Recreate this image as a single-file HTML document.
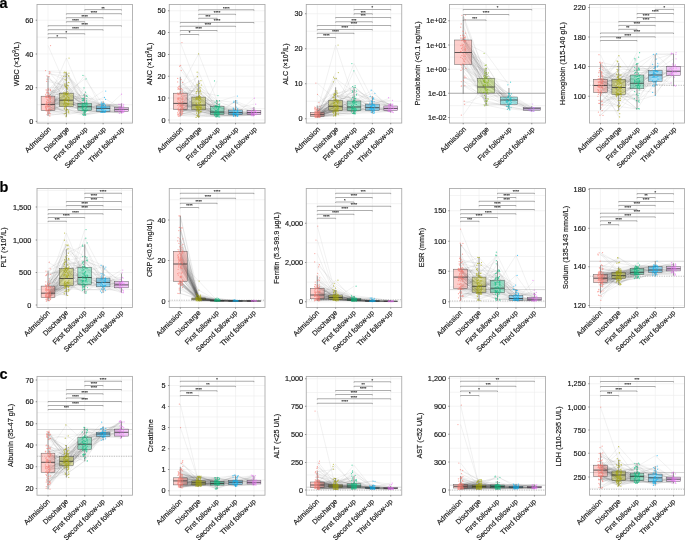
<!DOCTYPE html>
<html><head><meta charset="utf-8"><style>
html,body{margin:0;padding:0;background:#fff;overflow:hidden;}
svg{display:block;font-family:"Liberation Sans",sans-serif;will-change:transform;}
text{stroke:#1a1a1a;stroke-width:0.18px;}
</style></head><body>
<svg width="685" height="540" viewBox="0 0 685 540">
<g><path d="M37 121.4H132.5M37 87.7H132.5M37 54H132.5M37 20.2H132.5M37 37.1H132.5M37 70.9H132.5M37 104.7H132.5M48.02 4.5V123.05M66.38 4.5V123.05M84.75 4.5V123.05M103.12 4.5V123.05M121.48 4.5V123.05" stroke="#ededed" stroke-width="0.6" fill="none"/><path d="M48.02 94.34L66.38 82.31L84.75 100.3L103.12 105.6L121.48 103.9M48.02 107.69L66.38 109.1L84.75 114.52L103.12 112.31L121.48 110.38M48.02 111.09L66.38 102.23L84.75 108.71L103.12 111.54L121.48 109.89M48.02 95.34L66.38 103.63L84.75 103.78L103.12 110.52L121.48 113.27M48.02 108.5L66.38 109.73L84.75 111.19L103.12 112.42L121.48 112.72M48.02 112.52L66.38 98.47L84.75 114.89L103.12 107.39L121.48 110.56M48.02 107.05L66.38 98.25L84.75 75.4L103.12 112.48L121.48 108.26M48.02 96.11L66.38 93.19L84.75 104.58L103.12 106.19L121.48 112.21M48.02 101.39L66.38 106.37L84.75 109.91L103.12 112.24L121.48 111.66M48.02 106.83L66.38 95.24L84.75 115.32L103.12 111.4L121.48 111.64M48.02 104.63L66.38 93.75L84.75 100.8L103.12 103.58L121.48 106.61M48.02 104.15L66.38 94.26L84.75 104.43L103.12 109.77L121.48 110.21M48.02 103.88L66.38 94.22L84.75 108.32L103.12 107.31L121.48 108.9M48.02 101.66L66.38 103.32L84.75 106.65L103.12 112.25L121.48 110.27M48.02 96.63L66.38 99.37L84.75 110.9L103.12 107.74L121.48 105.9M48.02 110.61L66.38 94.14L84.75 98.55L103.12 105.12L121.48 107.97M48.02 97.84L66.38 72.33L84.75 103.54L103.12 105.85L121.48 106.08M48.02 100.73L66.38 96.33L84.75 106.5L103.12 97.49L121.48 108.27M48.02 79.14L66.38 87.1L84.75 112.23L103.12 102.22L121.48 108.89M48.02 115.91L66.38 75.93L84.75 92.18L103.12 107.08L121.48 104.27M48.02 95.51L66.38 75.95L84.75 103.2L103.12 104.59L121.48 104.62M48.02 110.55L66.38 93.87L84.75 103.2L103.12 112.21L121.48 112.15M48.02 110.8L66.38 101.19L84.75 110.57L103.12 111.41L121.48 112.21M48.02 110.63L66.38 113.82L84.75 111.19L103.12 111.02L121.48 94.2M48.02 113.66L66.38 115.08L84.75 110.54L103.12 111.88L121.48 112.87M48.02 96.83L66.38 78.82L84.75 102.84L103.12 104.13L121.48 107.7M48.02 96.17L66.38 101.6L84.75 110.27L103.12 107.47L121.48 111.25M48.02 99.53L66.38 58L84.75 101.76L103.12 105.63L121.48 106.42M48.02 95.65L66.38 87.71L84.75 104.97L103.12 109.74L121.48 106.65M48.02 90.55L66.38 76.3L84.75 95.89L103.12 104.33L121.48 104.31M48.02 107.03L66.38 89.04L84.75 108.05L103.12 103.99L121.48 107.83M48.02 97.7L66.38 72.83L84.75 95.42L103.12 107.28L121.48 106.51M48.02 100.13L66.38 100.36L84.75 105.04L103.12 107.85L121.48 107.97M48.02 96.89L66.38 103.01L84.75 107.26L103.12 109.82L121.48 111.96M48.02 102.2L66.38 104.63L84.75 103.31L103.12 91.03M48.02 110.6L66.38 88.19L84.75 110.08L103.12 107.17M48.02 81.43L66.38 85.84L84.75 98.59L103.12 105.93M48.02 110.51L66.38 97.29L84.75 110.39L103.12 103.63M48.02 75.89L66.38 99.72L84.75 106.2L103.12 110.33M48.02 97.54L66.38 100.1L84.75 105.93L103.12 108.28M48.02 112.04L66.38 110.88L84.75 113.76L103.12 112.14M48.02 70.62L66.38 92.73L84.75 78.9L103.12 104.4M48.02 88.33L66.38 85.65L84.75 109.95L103.12 103.26M48.02 110.22L66.38 104.88L84.75 104.46L103.12 107.75M48.02 113.5L66.38 94.5L84.75 110.51L103.12 112.18M48.02 107L66.38 106.64L84.75 108.42L103.12 111.4M48.02 110.39L66.38 109.33L84.75 114.1L103.12 109.95M48.02 102.33L66.38 104.33L84.75 103.18L103.12 106.93M48.02 110.61L66.38 108.19L84.75 107.21L103.12 107.06M48.02 71.53L66.38 73.24L84.75 98.53L103.12 99.41M48.02 89.94L66.38 72.03L84.75 106.94M48.02 113.62L66.38 110.2L84.75 106.39M48.02 95.26L66.38 93.19L84.75 99.73M48.02 104.53L66.38 97.83L84.75 108.4M48.02 102.71L66.38 112.6L84.75 87.77M48.02 106.85L66.38 94.04L84.75 105.03M48.02 97.4L66.38 97.36L84.75 103.34M48.02 109.56L66.38 85.4L84.75 106.44M48.02 110.77L66.38 104.54L84.75 109.86M48.02 90.13L66.38 97.92L84.75 95.07M48.02 110.7L66.38 106.47L84.75 107.09M48.02 101.61L66.38 72.21L84.75 110.39M48.02 99.31L66.38 94.33L84.75 104.55M48.02 102.95L66.38 98.66L84.75 98.2M48.02 45.6L66.38 87.49L84.75 100.38M48.02 96.22L66.38 105.1L84.75 103.66M48.02 104.45L66.38 102.97L84.75 112.61M48.02 96.18L66.38 82.69L84.75 109.88M48.02 97.26L66.38 104.03L84.75 112.07M48.02 110.51L66.38 83.97L84.75 104.64M48.02 110.73L66.38 103.88L84.75 103.3M48.02 89.85L66.38 96.01L84.75 100.61M48.02 98.06L66.38 109.15L84.75 112.81M48.02 76.51L66.38 100.4L84.75 105.74M48.02 106.41L66.38 100.37L84.75 110.51M48.02 108.31L66.38 105.8L84.75 114.64M48.02 98.38L66.38 93.37L84.75 100.65M48.02 97.74L66.38 91.33L84.75 96.42M48.02 92.88L66.38 92.47L84.75 104.73M48.02 106.56L66.38 111.56L84.75 115.39M48.02 73.71L66.38 76.15M48.02 106.75L66.38 93.31M48.02 97.76L66.38 85.87M48.02 98.78L66.38 116.64M48.02 92.71L66.38 86.48M48.02 105.19L66.38 103.45M48.02 106.18L66.38 79.32M48.02 97.25L66.38 107.36M48.02 96.2L66.38 92.55M48.02 96.98L66.38 105.63M48.02 103.22L66.38 112.94M48.02 105.74L66.38 93.62M48.02 101.77L66.38 96.85M48.02 114.52L66.38 113.43M48.02 106.59L66.38 99.45M48.02 99.82L66.38 103.52M48.02 102.72L66.38 74.04M48.02 104.75L66.38 105.84M48.02 113.44L66.38 101.79M48.02 109.3L66.38 110.79M48.02 109.15L66.38 100.43M48.02 105.91L66.38 99.04M48.02 109.34L66.38 113.81M48.02 115.95L66.38 112.45M48.02 96.13L66.38 84.06M48.02 72.55L66.38 80.31M48.02 89.5L66.38 93.2M48.02 96.12L66.38 84.58M48.02 93.84L66.38 100.18M48.02 105.35L66.38 103.27" stroke="#444" stroke-opacity="0.16" stroke-width="0.45" fill="none"/><path d="M48.02 76.1V96.2M48.02 110.5V116" stroke="#555" stroke-width="0.6"/><rect x="41.13" y="96.2" width="13.77" height="14.3" fill="#F8766D" fill-opacity="0.35" stroke="#333" stroke-opacity="0.75" stroke-width="0.5"/><path d="M41.13 104.4H54.91" stroke="#333" stroke-width="0.8"/><path d="M66.38 73.3V93.2M66.38 106.5V116.8" stroke="#555" stroke-width="0.6"/><rect x="59.5" y="93.2" width="13.77" height="13.3" fill="#A3A500" fill-opacity="0.35" stroke="#333" stroke-opacity="0.75" stroke-width="0.5"/><path d="M59.5 100.2H73.27" stroke="#333" stroke-width="0.8"/><path d="M84.75 93.6V103.2M84.75 110.5V115.4" stroke="#555" stroke-width="0.6"/><rect x="77.86" y="103.2" width="13.77" height="7.3" fill="#00BF7D" fill-opacity="0.35" stroke="#333" stroke-opacity="0.75" stroke-width="0.5"/><path d="M77.86 106.7H91.64" stroke="#333" stroke-width="0.8"/><path d="M103.12 101.3V106M103.12 111.4V112.5" stroke="#555" stroke-width="0.6"/><rect x="96.23" y="106" width="13.77" height="5.4" fill="#00B0F6" fill-opacity="0.35" stroke="#333" stroke-opacity="0.75" stroke-width="0.5"/><path d="M96.23 108.4H110" stroke="#333" stroke-width="0.8"/><path d="M121.48 103.4V107.7M121.48 111.6V113.3" stroke="#555" stroke-width="0.6"/><rect x="114.59" y="107.7" width="13.77" height="3.9" fill="#E76BF3" fill-opacity="0.35" stroke="#333" stroke-opacity="0.75" stroke-width="0.5"/><path d="M114.59 109.3H128.37" stroke="#333" stroke-width="0.8"/><path d="M45.7 94.34h0M45.57 107.69h0M48.28 111.09h0M49.09 95.34h0M46.14 108.5h0M47.78 112.52h0M47.4 107.05h0M50.02 96.11h0M50.49 101.39h0M48.38 106.83h0M47.44 104.63h0M46.14 104.15h0M49.9 103.88h0M50.45 101.66h0M46.22 96.63h0M49.31 110.61h0M50.38 97.84h0M47.91 100.73h0M47.11 79.14h0M49.67 115.91h0M48.16 95.51h0M47.58 110.55h0M48.15 110.8h0M48.12 110.63h0M50.25 113.66h0M50.05 96.83h0M45.71 96.17h0M50.46 99.53h0M49.22 95.65h0M50.57 90.55h0M46.13 107.03h0M49.65 97.7h0M48.16 100.13h0M46.28 96.89h0M49.74 102.2h0M49.14 110.6h0M46.7 81.43h0M46.17 110.51h0M46.99 75.89h0M45.8 97.54h0M49.37 112.04h0M45.56 70.62h0M48.04 88.33h0M46.04 110.22h0M47.96 113.5h0M45.72 107h0M47.91 110.39h0M48.39 102.33h0M48.11 110.61h0M49.75 71.53h0M46.08 89.94h0M49.12 113.62h0M47.75 95.26h0M49.37 104.53h0M47.33 102.71h0M45.58 106.85h0M48.08 97.4h0M50.25 109.56h0M49.38 110.77h0M47.18 90.13h0M48.33 110.7h0M46.51 101.61h0M47.17 99.31h0M47.55 102.95h0M50.54 45.6h0M46.66 96.22h0M45.49 104.45h0M50.32 96.18h0M48.14 97.26h0M48.3 110.51h0M46.01 110.73h0M48.47 89.85h0M50.5 98.06h0M49.12 76.51h0M48.92 106.41h0M46.39 108.31h0M49.75 98.38h0M46.33 97.74h0M46.47 92.88h0M50.09 106.56h0M49.35 73.71h0M46.23 106.75h0M50.48 97.76h0M49.76 98.78h0M47.33 92.71h0M47.54 105.19h0M45.51 106.18h0M47.15 97.25h0M46.73 96.2h0M50.27 96.98h0M46.58 103.22h0M47.64 105.74h0M49.65 101.77h0M47.04 114.52h0M46.38 106.59h0M47.08 99.82h0M46.75 102.72h0M46.58 104.75h0M49.36 113.44h0M48.38 109.3h0M46.66 109.15h0M47.46 105.91h0M49.68 109.34h0M49.86 115.95h0M45.96 96.13h0M50 72.55h0M50.43 89.5h0M46.08 96.12h0M48.84 93.84h0M47.01 105.35h0M45.66 110.04h0M48.29 92.91h0M46.2 108.51h0M46.85 110.99h0M47.01 91.99h0" stroke="#F8766D" stroke-opacity="0.65" stroke-width="1.25" stroke-linecap="round" fill="none"/><path d="M68.15 82.31h0M64.46 109.1h0M64.8 102.23h0M66.52 103.63h0M67.29 109.73h0M66.24 98.47h0M66.18 98.25h0M66.65 93.19h0M64.94 106.37h0M66.47 95.24h0M67.11 93.75h0M63.82 94.26h0M66.3 94.22h0M66.62 103.32h0M67.89 99.37h0M65.6 94.14h0M65.65 72.33h0M64.14 96.33h0M65.82 87.1h0M68.98 75.93h0M68.39 75.95h0M65.6 93.87h0M64.67 101.19h0M64.26 113.82h0M66.41 115.08h0M66.71 78.82h0M68.53 101.6h0M69.03 58h0M66.06 87.71h0M63.9 76.3h0M67.47 89.04h0M64.04 72.83h0M64.56 100.36h0M65.04 103.01h0M68.19 104.63h0M67.12 88.19h0M68.23 85.84h0M66.09 97.29h0M65.75 99.72h0M65.84 100.1h0M68.43 110.88h0M68.2 92.73h0M68.15 85.65h0M65.63 104.88h0M67.73 94.5h0M65.12 106.64h0M67.02 109.33h0M63.75 104.33h0M64.32 108.19h0M68.91 73.24h0M64.4 72.03h0M66.31 110.2h0M65.54 93.19h0M68.69 97.83h0M66.87 112.6h0M65.23 94.04h0M68.85 97.36h0M67.57 85.4h0M63.95 104.54h0M68.96 97.92h0M64.56 106.47h0M66.11 72.21h0M65.08 94.33h0M65.72 98.66h0M67.08 87.49h0M68.84 105.1h0M66.24 102.97h0M68.93 82.69h0M67.58 104.03h0M64.94 83.97h0M67.46 103.88h0M66.93 96.01h0M66.25 109.15h0M66.38 100.4h0M63.87 100.37h0M66.41 105.8h0M67.79 93.37h0M67.28 91.33h0M63.96 92.47h0M68.72 111.56h0M65.73 76.15h0M63.7 93.31h0M64.8 85.87h0M66.02 116.64h0M65.65 86.48h0M68.07 103.45h0M65.07 79.32h0M65.16 107.36h0M65.17 92.55h0M67.11 105.63h0M68.84 112.94h0M66.35 93.62h0M67.86 96.85h0M65.64 113.43h0M64.03 99.45h0M68.98 103.52h0M66.38 74.04h0M65.94 105.84h0M64.34 101.79h0M65.7 110.79h0M68.46 100.43h0M69.04 99.04h0M64.24 113.81h0M68.62 112.45h0M66.83 84.06h0M66.11 80.31h0M67.03 93.2h0M64.79 84.58h0M65.45 100.18h0M64.78 103.27h0" stroke="#A3A500" stroke-opacity="0.65" stroke-width="1.25" stroke-linecap="round" fill="none"/><path d="M82.72 100.3h0M82.69 114.52h0M85.72 108.71h0M86.78 103.78h0M86.18 111.19h0M85.64 114.89h0M82.96 75.4h0M86.82 104.58h0M83.31 109.91h0M85.39 115.32h0M82.39 100.8h0M86.77 104.43h0M82.51 108.32h0M82.2 106.65h0M83.83 110.9h0M82.21 98.55h0M83.24 103.54h0M85.62 106.5h0M84.22 112.23h0M85.6 92.18h0M86.51 103.2h0M84.52 103.2h0M82.07 110.57h0M85.08 111.19h0M84.82 110.54h0M87.14 102.84h0M82.88 110.27h0M86.55 101.76h0M82.15 104.97h0M86.26 95.89h0M82.53 108.05h0M86.71 95.42h0M82.32 105.04h0M82.13 107.26h0M84.17 103.31h0M82.34 110.08h0M86.75 98.59h0M87.3 110.39h0M84.61 106.2h0M83.69 105.93h0M84.15 113.76h0M86.01 78.9h0M85.2 109.95h0M85.07 104.46h0M84.77 110.51h0M86.05 108.42h0M85.52 114.1h0M85.68 103.18h0M86.88 107.21h0M83.18 98.53h0M86.48 106.94h0M82.18 106.39h0M83.76 99.73h0M85.9 108.4h0M84 87.77h0M87.1 105.03h0M86.83 103.34h0M82.32 106.44h0M87.05 109.86h0M83.45 95.07h0M83.17 107.09h0M82.8 110.39h0M85.13 104.55h0M83.88 98.2h0M86.71 100.38h0M86.63 103.66h0M85.22 112.61h0M83.39 109.88h0M85.55 112.07h0M87.02 104.64h0M82.66 103.3h0M82.11 100.61h0M83.32 112.81h0M85.69 105.74h0M83.88 110.51h0M83.16 114.64h0M83.64 100.65h0M87.17 96.42h0M82.37 104.73h0M83.83 115.39h0" stroke="#00BF7D" stroke-opacity="0.65" stroke-width="1.25" stroke-linecap="round" fill="none"/><path d="M105.53 105.6h0M101.39 112.31h0M103.58 111.54h0M105.71 110.52h0M102.11 112.42h0M103.91 107.39h0M104.56 112.48h0M101.92 106.19h0M101.83 112.24h0M105.27 111.4h0M101.29 103.58h0M101.78 109.77h0M101.85 107.31h0M105.08 112.25h0M105.73 107.74h0M101.81 105.12h0M101.52 105.85h0M104.47 97.49h0M101.33 102.22h0M101.12 107.08h0M102 104.59h0M102.69 112.21h0M102.97 111.41h0M104.59 111.02h0M103.3 111.88h0M101.07 104.13h0M101.19 107.47h0M103.2 105.63h0M103.18 109.74h0M102.7 104.33h0M102.71 103.99h0M103.4 107.28h0M102.06 107.85h0M101.44 109.82h0M105.72 91.03h0M101.12 107.17h0M101.72 105.93h0M103.37 103.63h0M103.14 110.33h0M101.67 108.28h0M101.22 112.14h0M104.8 104.4h0M104.16 103.26h0M103.81 107.75h0M100.77 112.18h0M105.68 111.4h0M101.79 109.95h0M104.15 106.93h0M105.47 107.06h0M105.52 99.41h0" stroke="#00B0F6" stroke-opacity="0.65" stroke-width="1.25" stroke-linecap="round" fill="none"/><path d="M121.9 103.9h0M121.92 110.38h0M121.23 109.89h0M119.42 113.27h0M122.54 112.72h0M124.14 110.56h0M119.48 108.26h0M121.02 112.21h0M118.8 111.66h0M122.99 111.64h0M120.62 106.61h0M120.66 110.21h0M123.26 108.9h0M122.54 110.27h0M123.38 105.9h0M122.52 107.97h0M122.15 106.08h0M121.36 108.27h0M119.47 108.89h0M118.86 104.27h0M120.08 104.62h0M123.74 112.15h0M122.7 112.21h0M121.52 94.2h0M121.36 112.87h0M121.17 107.7h0M123.55 111.25h0M120.61 106.42h0M119.13 106.65h0M123.7 104.31h0M119.17 107.83h0M123.78 106.51h0M122.88 107.97h0M121.34 111.96h0" stroke="#E76BF3" stroke-opacity="0.65" stroke-width="1.25" stroke-linecap="round" fill="none"/><path d="M48.02 38.6V37.7H66.38V38.6M48.02 34.6V33.7H84.75V34.6M48.02 30.6V29.7H103.12V30.6M48.02 26.6V25.7H121.48V26.6M66.38 22.6V21.7H84.75V22.6M66.38 18.6V17.7H103.12V18.6M66.38 14.6V13.7H121.48V14.6M84.75 10.5V9.6H121.48V10.5" stroke="#777" stroke-width="0.6" fill="none"/><g font-size="4.2" fill="#777" stroke="none" style="stroke:none" text-anchor="middle"><text x="57.2" y="37.6">*</text><text x="66.38" y="33.6">*</text><text x="75.57" y="29.6">****</text><text x="84.75" y="25.6">****</text><text x="75.57" y="21.6">****</text><text x="84.75" y="17.6">****</text><text x="93.93" y="13.6">****</text><text x="103.12" y="9.5">**</text></g><rect x="37" y="4.5" width="95.5" height="118.55" fill="none" stroke="#a8a8a8" stroke-width="0.85"/><path d="M48.02 123.05v1.3M66.38 123.05v1.3M84.75 123.05v1.3M103.12 123.05v1.3M121.48 123.05v1.3M37 121.4h-1.3M37 87.7h-1.3M37 54h-1.3M37 20.2h-1.3" stroke="#333" stroke-width="0.5"/><g font-size="7.3" fill="#1a1a1a" text-anchor="end"><text x="33.3" y="123.9">0</text><text x="33.3" y="90.2">20</text><text x="33.3" y="56.5">40</text><text x="33.3" y="22.7">60</text></g><g font-size="7.2" fill="#1a1a1a" text-anchor="end"><text transform="translate(47.62 125.95) rotate(-45)" x="0" y="5.18">Admission</text><text transform="translate(65.98 125.95) rotate(-45)" x="0" y="5.18">Discharge</text><text transform="translate(84.35 125.95) rotate(-45)" x="0" y="5.18">First follow-up</text><text transform="translate(102.72 125.95) rotate(-45)" x="0" y="5.18">Second follow-up</text><text transform="translate(121.08 125.95) rotate(-45)" x="0" y="5.18">Third follow-up</text></g><text transform="translate(19.35 64) rotate(-90)" x="0" y="0" font-size="7.2" fill="#1a1a1a" text-anchor="middle">WBC (×10<tspan font-size="4.6" dy="-3">9</tspan><tspan dy="3">/L)</tspan></text></g>
<g><path d="M169.25 120H265M169.25 98H265M169.25 76.25H265M169.25 54.5H265M169.25 32.5H265M169.25 10.75H265M169.25 21.62H265M169.25 43.38H265M169.25 65.12H265M169.25 86.88H265M169.25 108.62H265M180.3 4.5V123.05M198.71 4.5V123.05M217.12 4.5V123.05M235.54 4.5V123.05M253.95 4.5V123.05" stroke="#ededed" stroke-width="0.6" fill="none"/><path d="M180.3 101.84L198.71 111.7L217.12 107L235.54 113.88L253.95 112.18M180.3 115.69L198.71 113.72L217.12 115.85L235.54 115.16L253.95 113.02M180.3 111.31L198.71 111.64L217.12 116.96L235.54 115.66L253.95 115.12M180.3 99.52L198.71 85.9L217.12 100.57L235.54 102.43L253.95 113.59M180.3 105.04L198.71 107.28L217.12 113.36L235.54 111.76L253.95 114.06M180.3 104.52L198.71 109.86L217.12 112.62L235.54 114.11L253.95 113.23M180.3 104.17L198.71 109.68L217.12 112.54L235.54 114.43L253.95 112.68M180.3 89.41L198.71 107.17L217.12 106.46L235.54 102.84L253.95 109.6M180.3 89.37L198.71 91.7L217.12 106.77L235.54 110.14L253.95 114.27M180.3 113.98L198.71 111.44L217.12 114.68L235.54 116.4L253.95 114.72M180.3 88.84L198.71 115.46L217.12 113.02L235.54 114.76L253.95 113.35M180.3 70.26L198.71 90.53L217.12 107.19L235.54 113.02L253.95 110.5M180.3 111.32L198.71 95.43L217.12 107.92L235.54 114.7L253.95 98.19M180.3 100.58L198.71 106.84L217.12 109.59L235.54 114.73L253.95 111.74M180.3 109.59L198.71 104.03L217.12 113.03L235.54 116.04L253.95 114.01M180.3 105.36L198.71 107.24L217.12 110.53L235.54 114.83L253.95 114.39M180.3 106.29L198.71 107.68L217.12 111.81L235.54 110.65L253.95 115.16M180.3 89.12L198.71 100.15L217.12 100.68L235.54 108.72L253.95 111.09M180.3 109.6L198.71 99.46L217.12 113.15L235.54 113.69L253.95 114.75M180.3 110.51L198.71 109.78L217.12 113.92L235.54 112.74L253.95 115.65M180.3 106.47L198.71 97.81L217.12 112.66L235.54 110.02L253.95 110.31M180.3 114.4L198.71 108.97L217.12 108.38L235.54 114.96L253.95 114.32M180.3 78.44L198.71 101.78L217.12 106.45L235.54 111.45L253.95 113.71M180.3 79.45L198.71 107.06L217.12 114.84L235.54 116.47L253.95 114.75M180.3 110.59L198.71 103.93L217.12 106.44L235.54 112.74L253.95 112.64M180.3 101.62L198.71 96.23L217.12 111.53L235.54 113.39L253.95 115.98M180.3 109.27L198.71 80.64L217.12 104.95L235.54 109.01L253.95 110.33M180.3 106.45L198.71 90.86L217.12 112.77L235.54 101.13L253.95 108.32M180.3 103.97L198.71 107.7L217.12 105.74L235.54 109.99L253.95 113.65M180.3 92.26L198.71 96.57L217.12 111.61L235.54 108.23L253.95 104.23M180.3 102.6L198.71 102.97L217.12 116.55L235.54 115.31L253.95 112.31M180.3 97.86L198.71 106.65L217.12 114.94L235.54 115.08L253.95 114.71M180.3 109.51L198.71 106.64L217.12 113.03L235.54 110.65L253.95 112.39M180.3 93.2L198.71 108.97L217.12 110.87L235.54 114.7L253.95 111.41M180.3 109.88L198.71 100.4L217.12 106.64L235.54 112.67M180.3 98.09L198.71 99.18L217.12 106.7L235.54 107.06M180.3 104.52L198.71 102.13L217.12 106.31L235.54 112.57M180.3 97.73L198.71 104.18L217.12 115.24L235.54 100.79M180.3 105.61L198.71 105.43L217.12 112.61L235.54 115.59M180.3 105.97L198.71 96.99L217.12 110.76L235.54 111.4M180.3 107.33L198.71 112.53L217.12 114.39L235.54 114.66M180.3 113.23L198.71 116.15L217.12 115.56L235.54 115.39M180.3 111.43L198.71 110.4L217.12 110.92L235.54 114.91M180.3 115.6L198.71 117.08L217.12 115.45L235.54 115.63M180.3 112.2L198.71 92.88L217.12 106.21L235.54 114.7M180.3 109.48L198.71 72.18L217.12 113.57L235.54 114.71M180.3 94.36L198.71 98.49L217.12 103.25L235.54 113.65M180.3 96.02L198.71 93.8L217.12 111.89L235.54 110.86M180.3 96.28L198.71 99.46L217.12 114.81L235.54 111.12M180.3 91.3L198.71 96.78L217.12 102.19L235.54 96.09M180.3 99.11L198.71 112.16L217.12 113.91M180.3 88.1L198.71 53.75L217.12 101.17M180.3 112.97L198.71 97.92L217.12 115.52M180.3 98.29L198.71 117.38L217.12 80.93M180.3 93.33L198.71 89.06L217.12 104.29M180.3 101.64L198.71 105.97L217.12 114.61M180.3 109.58L198.71 98.68L217.12 115.22M180.3 112.34L198.71 108.38L217.12 116.31M180.3 87.7L198.71 103.42L217.12 107.19M180.3 114.17L198.71 110.38L217.12 116.62M180.3 105.43L198.71 97.46L217.12 109.58M180.3 88.44L198.71 85.03L217.12 106.7M180.3 112.25L198.71 114.92L217.12 116.88M180.3 102.19L198.71 108.44L217.12 115.03M180.3 114.08L198.71 110.27L217.12 116.48M180.3 115.19L198.71 115.14L217.12 116.89M180.3 112.45L198.71 101.85L217.12 114.33M180.3 93.02L198.71 91.56L217.12 95.5M180.3 111.08L198.71 107.8L217.12 113.32M180.3 109.12L198.71 113.13L217.12 111.12M180.3 82.49L198.71 96.65L217.12 107.17M180.3 109.31L198.71 111.08L217.12 112.94M180.3 65.26L198.71 98.28L217.12 109.53M180.3 98.84L198.71 105.56L217.12 103.78M180.3 108.73L198.71 110.88L217.12 115.19M180.3 88.87L198.71 87.84L217.12 105.65M180.3 86.39L198.71 93.22L217.12 106.86M180.3 114.07L198.71 98.36L217.12 110.43M180.3 99.17L198.71 99.36L217.12 108.88M180.3 104.79L198.71 104.31L217.12 113.36M180.3 92.02L198.71 107.79M180.3 94.27L198.71 106.96M180.3 105.76L198.71 98.13M180.3 107.77L198.71 106.37M180.3 105.94L198.71 83.46M180.3 107.57L198.71 98.77M180.3 111.8L198.71 106.37M180.3 108.69L198.71 102.42M180.3 103.07L198.71 97.08M180.3 113.22L198.71 104.13M180.3 99.95L198.71 109.61M180.3 107.17L198.71 116.35M180.3 110.59L198.71 107.85M180.3 42.5L198.71 89.98M180.3 89.85L198.71 96.91M180.3 110.03L198.71 109.95M180.3 109.61L198.71 110.32M180.3 66.16L198.71 91.47M180.3 114.41L198.71 113.08M180.3 105.12L198.71 107.61M180.3 109.53L198.71 109.85M180.3 108.59L198.71 116.26M180.3 94.62L198.71 97.29M180.3 93.42L198.71 108.4M180.3 86.18L198.71 76.74M180.3 99.01L198.71 96.52M180.3 104.46L198.71 84.45M180.3 102.26L198.71 107.51M180.3 98.07L198.71 87.95M180.3 109.56L198.71 111.34" stroke="#444" stroke-opacity="0.16" stroke-width="0.45" fill="none"/><path d="M180.3 76.8V93.2M180.3 109.3V116.5" stroke="#555" stroke-width="0.6"/><rect x="173.39" y="93.2" width="13.81" height="16.1" fill="#F8766D" fill-opacity="0.35" stroke="#333" stroke-opacity="0.75" stroke-width="0.5"/><path d="M173.39 103.4H187.2" stroke="#333" stroke-width="0.8"/><path d="M198.71 80.3V97.1M198.71 109.75V117.5" stroke="#555" stroke-width="0.6"/><rect x="191.81" y="97.1" width="13.81" height="12.65" fill="#A3A500" fill-opacity="0.35" stroke="#333" stroke-opacity="0.75" stroke-width="0.5"/><path d="M191.81 105.1H205.62" stroke="#333" stroke-width="0.8"/><path d="M217.12 100.5V106.7M217.12 114.7V117" stroke="#555" stroke-width="0.6"/><rect x="210.22" y="106.7" width="13.81" height="8" fill="#00BF7D" fill-opacity="0.35" stroke="#333" stroke-opacity="0.75" stroke-width="0.5"/><path d="M210.22 112.1H224.03" stroke="#333" stroke-width="0.8"/><path d="M235.54 100V110M235.54 114.7V116.5" stroke="#555" stroke-width="0.6"/><rect x="228.63" y="110" width="13.81" height="4.7" fill="#00B0F6" fill-opacity="0.35" stroke="#333" stroke-opacity="0.75" stroke-width="0.5"/><path d="M228.63 112.6H242.44" stroke="#333" stroke-width="0.8"/><path d="M253.95 107V110.5M253.95 114.7V116" stroke="#555" stroke-width="0.6"/><rect x="247.05" y="110.5" width="13.81" height="4.2" fill="#E76BF3" fill-opacity="0.35" stroke="#333" stroke-opacity="0.75" stroke-width="0.5"/><path d="M247.05 112.6H260.86" stroke="#333" stroke-width="0.8"/><path d="M182.47 101.84h0M178.08 115.69h0M182.82 111.31h0M182.05 99.52h0M179.67 105.04h0M180.84 104.52h0M180.94 104.17h0M178.09 89.41h0M179.64 89.37h0M182.54 113.98h0M178.37 88.84h0M181.27 70.26h0M182.36 111.32h0M179.99 100.58h0M177.61 109.59h0M177.61 105.36h0M182.66 106.29h0M180.63 89.12h0M178.88 109.6h0M181.99 110.51h0M180.11 106.47h0M181.44 114.4h0M177.68 78.44h0M181 79.45h0M179.26 110.59h0M177.75 101.62h0M182.41 109.27h0M181.02 106.45h0M178.98 103.97h0M179.95 92.26h0M178.69 102.6h0M179.01 97.86h0M181.85 109.51h0M182.46 93.2h0M179.36 109.88h0M180.09 98.09h0M178.44 104.52h0M182.79 97.73h0M181.04 105.61h0M180.1 105.97h0M181.64 107.33h0M180.05 113.23h0M178.95 111.43h0M179.7 115.6h0M180.4 112.2h0M182.72 109.48h0M177.9 94.36h0M181.6 96.02h0M181.79 96.28h0M182.01 91.3h0M179.04 99.11h0M179.12 88.1h0M179.56 112.97h0M178.36 98.29h0M178.95 93.33h0M182.48 101.64h0M182.43 109.58h0M179.97 112.34h0M177.91 87.7h0M177.63 114.17h0M179.86 105.43h0M181.28 88.44h0M177.78 112.25h0M180.44 102.19h0M179.18 114.08h0M181.13 115.19h0M181.83 112.45h0M177.63 93.02h0M180.9 111.08h0M181.2 109.12h0M182.53 82.49h0M179.23 109.31h0M180.66 65.26h0M177.67 98.84h0M178.15 108.73h0M178.26 88.87h0M178.91 86.39h0M181.54 114.07h0M182.81 99.17h0M179.28 104.79h0M180.7 92.02h0M181.08 94.27h0M181.84 105.76h0M182.86 107.77h0M180.87 105.94h0M182.39 107.57h0M182.44 111.8h0M180.77 108.69h0M182.1 103.07h0M181.96 113.22h0M178.06 99.95h0M178.86 107.17h0M178.71 110.59h0M181.95 42.5h0M182.44 89.85h0M178.64 110.03h0M180.65 109.61h0M179.62 66.16h0M178.44 114.41h0M182.95 105.12h0M179.01 109.53h0M182.8 108.59h0M178.57 94.62h0M182.71 93.42h0M179.74 86.18h0M182.76 99.01h0M178.46 104.46h0M179.5 102.26h0M177.85 98.07h0M178.38 109.56h0M179.21 94.49h0M178.17 113.9h0M178.27 99.37h0M178.89 116.39h0M177.67 81.88h0" stroke="#F8766D" stroke-opacity="0.65" stroke-width="1.25" stroke-linecap="round" fill="none"/><path d="M198.21 111.7h0M198.74 113.72h0M201.1 111.64h0M197.21 85.9h0M199.93 107.28h0M197.67 109.86h0M200.13 109.68h0M196.23 107.17h0M200.64 91.7h0M201.04 111.44h0M197.14 115.46h0M200.25 90.53h0M199.41 95.43h0M196.27 106.84h0M199.34 104.03h0M197.94 107.24h0M196.53 107.68h0M198.41 100.15h0M196.08 99.46h0M197.63 109.78h0M197.23 97.81h0M198.37 108.97h0M200.03 101.78h0M201.3 107.06h0M196.43 103.93h0M199.43 96.23h0M200.95 80.64h0M197.56 90.86h0M198 107.7h0M199.82 96.57h0M196.04 102.97h0M197.17 106.65h0M198.18 106.64h0M200.79 108.97h0M199.59 100.4h0M200.79 99.18h0M198.83 102.13h0M196.56 104.18h0M198.11 105.43h0M196.78 96.99h0M199.91 112.53h0M197.7 116.15h0M199.37 110.4h0M198.66 117.08h0M198.93 92.88h0M197.15 72.18h0M196.08 98.49h0M201.09 93.8h0M198.54 99.46h0M198.54 96.78h0M198.31 112.16h0M198.6 53.75h0M196.32 97.92h0M196.09 117.38h0M197.27 89.06h0M200.82 105.97h0M197.08 98.68h0M197.44 108.38h0M198.66 103.42h0M199.05 110.38h0M199.45 97.46h0M201.31 85.03h0M197.84 114.92h0M198.36 108.44h0M198.73 110.27h0M197.72 115.14h0M200.79 101.85h0M199.3 91.56h0M199.77 107.8h0M196.56 113.13h0M200.45 96.65h0M198.34 111.08h0M200.39 98.28h0M201.08 105.56h0M196.83 110.88h0M200.71 87.84h0M196.28 93.22h0M199.84 98.36h0M196.09 99.36h0M200.66 104.31h0M196.79 107.79h0M199.41 106.96h0M199.07 98.13h0M199.81 106.37h0M199.26 83.46h0M198.05 98.77h0M196.02 106.37h0M200.42 102.42h0M199.1 97.08h0M199.71 104.13h0M197.09 109.61h0M199.29 116.35h0M200.29 107.85h0M200.18 89.98h0M198.59 96.91h0M196.99 109.95h0M196.82 110.32h0M196.58 91.47h0M198.82 113.08h0M200.69 107.61h0M201.12 109.85h0M197.38 116.26h0M199.02 97.29h0M200.93 108.4h0M197.4 76.74h0M199.63 96.52h0M197.21 84.45h0M200.89 107.51h0M199.5 87.95h0M200.09 111.34h0" stroke="#A3A500" stroke-opacity="0.65" stroke-width="1.25" stroke-linecap="round" fill="none"/><path d="M219.19 107h0M215.21 115.85h0M219.69 116.96h0M216.61 100.57h0M219.27 113.36h0M216.69 112.62h0M218.64 112.54h0M217.86 106.46h0M219.8 106.77h0M214.78 114.68h0M215.84 113.02h0M215.05 107.19h0M216.55 107.92h0M218.85 109.59h0M216.76 113.03h0M215.64 110.53h0M217.87 111.81h0M219.49 100.68h0M217.4 113.15h0M214.69 113.92h0M214.99 112.66h0M218.68 108.38h0M219.53 106.45h0M216.96 114.84h0M219.34 106.44h0M218.19 111.53h0M219.52 104.95h0M214.96 112.77h0M216.16 105.74h0M217.33 111.61h0M217.08 116.55h0M218.2 114.94h0M216.56 113.03h0M215.69 110.87h0M218.43 106.64h0M216.05 106.7h0M215.29 106.31h0M218.72 115.24h0M214.61 112.61h0M218.43 110.76h0M219.18 114.39h0M216.69 115.56h0M216.64 110.92h0M217.36 115.45h0M218.3 106.21h0M218.54 113.57h0M216.69 103.25h0M218.75 111.89h0M217.46 114.81h0M215.1 102.19h0M215.43 113.91h0M216.74 101.17h0M218.9 115.52h0M214.49 80.93h0M218.62 104.29h0M217.71 114.61h0M218.17 115.22h0M215.69 116.31h0M217.12 107.19h0M218.02 116.62h0M217.86 109.58h0M217.18 106.7h0M219.08 116.88h0M216.71 115.03h0M215.89 116.48h0M216.04 116.89h0M217.37 114.33h0M217.98 95.5h0M217.65 113.32h0M215.4 111.12h0M218.67 107.17h0M217.89 112.94h0M217.53 109.53h0M219.72 103.78h0M214.51 115.19h0M215.12 105.65h0M218.6 106.86h0M216.91 110.43h0M217.94 108.88h0M217.05 113.36h0" stroke="#00BF7D" stroke-opacity="0.65" stroke-width="1.25" stroke-linecap="round" fill="none"/><path d="M232.92 113.88h0M237.84 115.16h0M237.84 115.66h0M233.83 102.43h0M236.93 111.76h0M236.4 114.11h0M235.39 114.43h0M237.04 102.84h0M233.88 110.14h0M233.7 116.4h0M233.04 114.76h0M234.78 113.02h0M238.19 114.7h0M238.15 114.73h0M233.55 116.04h0M233.94 114.83h0M235.01 110.65h0M237.72 108.72h0M233.92 113.69h0M236.7 112.74h0M234.65 110.02h0M236.31 114.96h0M237.59 111.45h0M237.47 116.47h0M233.41 112.74h0M236.03 113.39h0M233.44 109.01h0M233.95 101.13h0M237.44 109.99h0M233.33 108.23h0M233.83 115.31h0M236.28 115.08h0M237.64 110.65h0M236.91 114.7h0M237.02 112.67h0M236.64 107.06h0M238.1 112.57h0M236.8 100.79h0M236.58 115.59h0M237.74 111.4h0M237.44 114.66h0M237.06 115.39h0M233.83 114.91h0M233.71 115.63h0M237.31 114.7h0M233.5 114.71h0M234.74 113.65h0M234.96 110.86h0M234.75 111.12h0M237.34 96.09h0" stroke="#00B0F6" stroke-opacity="0.65" stroke-width="1.25" stroke-linecap="round" fill="none"/><path d="M254.23 112.18h0M251.84 113.02h0M253.35 115.12h0M252.43 113.59h0M251.46 114.06h0M253.66 113.23h0M251.83 112.68h0M254.01 109.6h0M256.55 114.27h0M256.09 114.72h0M252.24 113.35h0M255.97 110.5h0M254.37 98.19h0M254.42 111.74h0M252.48 114.01h0M254.62 114.39h0M252.68 115.16h0M251.49 111.09h0M254.54 114.75h0M251.29 115.65h0M255.3 110.31h0M256.46 114.32h0M253.03 113.71h0M253.61 114.75h0M256.27 112.64h0M253.21 115.98h0M251.44 110.33h0M252.98 108.32h0M254.59 113.65h0M255.68 104.23h0M253.92 112.31h0M251.69 114.71h0M251.39 112.39h0M255.32 111.41h0" stroke="#E76BF3" stroke-opacity="0.65" stroke-width="1.25" stroke-linecap="round" fill="none"/><path d="M180.3 35.4V34.5H198.71V35.4M180.3 31.4V30.5H217.12V31.4M180.3 27.15V26.25H235.54V27.15M180.3 23.4V22.5H253.95V23.4M198.71 19.15V18.25H217.12V19.15M198.71 15.15V14.25H235.54V15.15M198.71 10.65V9.75H253.95V10.65" stroke="#777" stroke-width="0.6" fill="none"/><g font-size="4.2" fill="#777" stroke="none" style="stroke:none" text-anchor="middle"><text x="189.5" y="34.4">*</text><text x="198.71" y="30.4">****</text><text x="207.92" y="26.15">****</text><text x="217.12" y="22.4">****</text><text x="207.92" y="18.15">***</text><text x="217.12" y="14.15">****</text><text x="226.33" y="9.65">****</text></g><rect x="169.25" y="4.5" width="95.75" height="118.55" fill="none" stroke="#a8a8a8" stroke-width="0.85"/><path d="M180.3 123.05v1.3M198.71 123.05v1.3M217.12 123.05v1.3M235.54 123.05v1.3M253.95 123.05v1.3M169.25 120h-1.3M169.25 98h-1.3M169.25 76.25h-1.3M169.25 54.5h-1.3M169.25 32.5h-1.3M169.25 10.75h-1.3" stroke="#333" stroke-width="0.5"/><g font-size="7.3" fill="#1a1a1a" text-anchor="end"><text x="165.55" y="122.5">0</text><text x="165.55" y="100.5">10</text><text x="165.55" y="78.75">20</text><text x="165.55" y="57">30</text><text x="165.55" y="35">40</text><text x="165.55" y="13.25">50</text></g><g font-size="7.2" fill="#1a1a1a" text-anchor="end"><text transform="translate(179.9 125.95) rotate(-45)" x="0" y="5.18">Admission</text><text transform="translate(198.31 125.95) rotate(-45)" x="0" y="5.18">Discharge</text><text transform="translate(216.72 125.95) rotate(-45)" x="0" y="5.18">First follow-up</text><text transform="translate(235.14 125.95) rotate(-45)" x="0" y="5.18">Second follow-up</text><text transform="translate(253.55 125.95) rotate(-45)" x="0" y="5.18">Third follow-up</text></g><text transform="translate(151.8 64) rotate(-90)" x="0" y="0" font-size="7.2" fill="#1a1a1a" text-anchor="middle">ANC (×10<tspan font-size="4.6" dy="-3">9</tspan><tspan dy="3">/L)</tspan></text></g>
<g><path d="M306.25 118.75H401.75M306.25 83.75H401.75M306.25 48.75H401.75M306.25 13.75H401.75M306.25 31.25H401.75M306.25 66.25H401.75M306.25 101.25H401.75M317.27 4.5V123.05M335.63 4.5V123.05M354 4.5V123.05M372.37 4.5V123.05M390.73 4.5V123.05" stroke="#ededed" stroke-width="0.6" fill="none"/><path d="M317.27 113.56L335.63 78.54L354 91.98L372.37 101.75L390.73 105.38M317.27 110.91L335.63 106.61L354 102.6L372.37 100.76L390.73 106.65M317.27 113.49L335.63 109.23L354 106.78L372.37 105.66L390.73 111.86M317.27 106.51L335.63 103.02L354 97.56L372.37 106.04L390.73 104.65M317.27 113.45L335.63 115.92L354 100.99L372.37 90.23L390.73 111.37M317.27 111.79L335.63 94.41L354 86.53L372.37 101.71L390.73 104.05M317.27 116.91L335.63 101.36L354 101.08L372.37 108.51L390.73 108.57M317.27 116.06L335.63 101.69L354 94.3L372.37 98.92L390.73 104.91M317.27 116.51L335.63 106.77L354 108.66L372.37 106.79L390.73 112.57M317.27 111.77L335.63 93.31L354 110.76L372.37 110.73L390.73 108.81M317.27 116.55L335.63 105.9L354 109.58L372.37 109.58L390.73 109.78M317.27 114.34L335.63 105.37L354 109.42L372.37 109.46L390.73 107.45M317.27 112.49L335.63 110.03L354 63.5L372.37 99.12L390.73 104.48M317.27 109.74L335.63 112.4L354 96.01L372.37 108.54L390.73 110.72M317.27 114.01L335.63 111.02L354 98.45L372.37 112.44L390.73 110.46M317.27 116.53L335.63 110.95L354 111.6L372.37 108.77L390.73 110.32M317.27 108.79L335.63 108.45L354 101.11L372.37 93.25L390.73 105.77M317.27 114.98L335.63 106.74L354 107.33L372.37 103.14L390.73 105.83M317.27 113.14L335.63 102.12L354 101.98L372.37 104.56L390.73 107.8M317.27 115.99L335.63 105.98L354 111.81L372.37 110.77L390.73 111.52M317.27 112.04L335.63 111.03L354 70.87L372.37 106.54L390.73 108.55M317.27 117.42L335.63 113.11L354 113.39L372.37 112.88L390.73 111.37M317.27 113.98L335.63 108.9L354 108.58L372.37 105.06L390.73 109.96M317.27 111.26L335.63 105.02L354 90.8L372.37 104.4L390.73 97.73M317.27 117.48L335.63 99.57L354 85.55L372.37 104.09L390.73 105.15M317.27 111.1L335.63 93.46L354 90.05L372.37 97.95L390.73 104.41M317.27 114.17L335.63 112.44L354 111.08L372.37 105.95L390.73 109.96M317.27 116.02L335.63 102.66L354 91.03L372.37 108.47L390.73 108.73M317.27 113.83L335.63 94.13L354 113.95L372.37 102.9L390.73 100.3M317.27 116.55L335.63 98.91L354 105.43L372.37 105.64L390.73 107.99M317.27 117.41L335.63 110.7L354 108.55L372.37 108.57L390.73 111.75M317.27 111.55L335.63 96.8L354 100.36L372.37 105.58L390.73 105.06M317.27 112.12L335.63 95.9L354 102.18L372.37 96.46L390.73 104.7M317.27 117.11L335.63 110.71L354 110.73L372.37 108.32L390.73 111.13M317.27 112.83L335.63 111.05L354 107.96L372.37 104.07M317.27 111.72L335.63 97.53L354 87.33L372.37 101.43M317.27 116.32L335.63 113.6L354 113.43L372.37 111.39M317.27 109.16L335.63 112.08L354 106.26L372.37 107.2M317.27 115.26L335.63 105.73L354 102.2L372.37 107.34M317.27 116.43L335.63 103.72L354 103.86L372.37 113.26M317.27 116.63L335.63 110.61L354 110.75L372.37 109.03M317.27 110.26L335.63 105.18L354 98.15L372.37 106.91M317.27 116.39L335.63 115.03L354 110.84L372.37 111.88M317.27 114.03L335.63 101.51L354 103.56L372.37 110.71M317.27 112.27L335.63 110.81L354 101.53L372.37 109.71M317.27 116.5L335.63 113.34L354 113.35L372.37 103.58M317.27 115.78L335.63 109.65L354 110.55L372.37 109.3M317.27 114.96L335.63 106.75L354 107.49L372.37 110.7M317.27 102.52L335.63 92.17L354 99.36L372.37 102.01M317.27 113.2L335.63 78.3L354 104.46L372.37 106.4M317.27 114.27L335.63 110.71L354 111M317.27 112.28L335.63 95.57L354 98.09M317.27 109.32L335.63 108.92L354 108.6M317.27 116.61L335.63 100.04L354 109.28M317.27 117.23L335.63 115.95L354 113.75M317.27 117.37L335.63 114.56L354 112.23M317.27 112.24L335.63 108.33L354 87.46M317.27 111.39L335.63 45L354 100.21M317.27 113.69L335.63 105.45L354 111.92M317.27 108.9L335.63 102.34L354 109.98M317.27 115.84L335.63 97.52L354 92.16M317.27 113.51L335.63 94.58L354 99.05M317.27 116.5L335.63 103.55L354 110.74M317.27 116.03L335.63 110.1L354 109.29M317.27 116.5L335.63 108.77L354 105.47M317.27 108.69L335.63 105.52L354 104.09M317.27 111.89L335.63 99.48L354 97.15M317.27 115.49L335.63 100.84L354 108.77M317.27 116.32L335.63 100.22L354 108.52M317.27 114.52L335.63 111.68L354 111.03M317.27 107.05L335.63 100.37L354 95.03M317.27 117.18L335.63 110.02L354 110.76M317.27 114.77L335.63 110.7L354 109.03M317.27 113.79L335.63 101.62L354 112.54M317.27 112.47L335.63 104.57L354 113.24M317.27 112.28L335.63 107.36L354 108.36M317.27 115.88L335.63 101.98L354 108.69M317.27 113.26L335.63 107.65L354 111.91M317.27 113.58L335.63 102.86L354 102.71M317.27 116.67L335.63 113.42L354 110.77M317.27 111.14L335.63 90.87M317.27 114.27L335.63 90.85M317.27 114.42L335.63 107.05M317.27 115.69L335.63 111.63M317.27 108.97L335.63 95.65M317.27 116.51L335.63 106.47M317.27 107.74L335.63 99.41M317.27 116.96L335.63 114.72M317.27 116.9L335.63 108.13M317.27 116.66L335.63 114.1M317.27 116.96L335.63 115.81M317.27 94.25L335.63 111.41M317.27 110.86L335.63 109.08M317.27 111.72L335.63 100.23M317.27 115.42L335.63 106.86M317.27 114.86L335.63 104.64M317.27 114.26L335.63 111.1M317.27 114.84L335.63 100.26M317.27 116.79L335.63 114.21M317.27 83.1L335.63 99.85M317.27 115.24L335.63 112.36M317.27 111.42L335.63 100.38M317.27 114.78L335.63 72.62M317.27 115.38L335.63 110.92M317.27 112.15L335.63 81.77M317.27 116.04L335.63 109.29M317.27 111.99L335.63 94.23M317.27 109.85L335.63 77.16M317.27 116.5L335.63 109.23M317.27 114.84L335.63 110.96" stroke="#444" stroke-opacity="0.16" stroke-width="0.45" fill="none"/><path d="M317.27 105.5V112.3M317.27 116.5V117.5" stroke="#555" stroke-width="0.6"/><rect x="310.38" y="112.3" width="13.77" height="4.2" fill="#F8766D" fill-opacity="0.35" stroke="#333" stroke-opacity="0.75" stroke-width="0.5"/><path d="M310.38 114.7H324.16" stroke="#333" stroke-width="0.8"/><path d="M335.63 87.3V100.4M335.63 110.7V116" stroke="#555" stroke-width="0.6"/><rect x="328.75" y="100.4" width="13.77" height="10.3" fill="#A3A500" fill-opacity="0.35" stroke="#333" stroke-opacity="0.75" stroke-width="0.5"/><path d="M328.75 106.25H342.52" stroke="#333" stroke-width="0.8"/><path d="M354 87.75V101M354 110.7V114" stroke="#555" stroke-width="0.6"/><rect x="347.11" y="101" width="13.77" height="9.7" fill="#00BF7D" fill-opacity="0.35" stroke="#333" stroke-opacity="0.75" stroke-width="0.5"/><path d="M347.11 107H360.89" stroke="#333" stroke-width="0.8"/><path d="M372.37 96.2V104.1M372.37 110.7V113.3" stroke="#555" stroke-width="0.6"/><rect x="365.48" y="104.1" width="13.77" height="6.6" fill="#00B0F6" fill-opacity="0.35" stroke="#333" stroke-opacity="0.75" stroke-width="0.5"/><path d="M365.48 107.65H379.25" stroke="#333" stroke-width="0.8"/><path d="M390.73 103.4V106M390.73 110.7V112.6" stroke="#555" stroke-width="0.6"/><rect x="383.84" y="106" width="13.77" height="4.7" fill="#E76BF3" fill-opacity="0.35" stroke="#333" stroke-opacity="0.75" stroke-width="0.5"/><path d="M383.84 108.4H397.62" stroke="#333" stroke-width="0.8"/><path d="M314.69 113.56h0M319.37 110.91h0M317.03 113.49h0M319.81 106.51h0M318.02 113.45h0M316.06 111.79h0M315.52 116.91h0M317.37 116.06h0M317.61 116.51h0M315.89 111.77h0M314.71 116.55h0M319.57 114.34h0M316.04 112.49h0M317.06 109.74h0M316.53 114.01h0M315.36 116.53h0M315.79 108.79h0M319.53 114.98h0M316.45 113.14h0M319.35 115.99h0M317.53 112.04h0M316.71 117.42h0M317.55 113.98h0M319.61 111.26h0M319.95 117.48h0M319.93 111.1h0M317.41 114.17h0M316.61 116.02h0M314.71 113.83h0M317.08 116.55h0M315.4 117.41h0M316.55 111.55h0M317.4 112.12h0M318.3 117.11h0M318.72 112.83h0M317.32 111.72h0M318.08 116.32h0M314.91 109.16h0M314.86 115.26h0M315.93 116.43h0M316.72 116.63h0M316.53 110.26h0M317.56 116.39h0M315.63 114.03h0M315.74 112.27h0M319.96 116.5h0M318.62 115.78h0M318.41 114.96h0M318.92 102.52h0M317.08 113.2h0M318.3 114.27h0M319.46 112.28h0M316.75 109.32h0M317.97 116.61h0M318.19 117.23h0M319.29 117.37h0M318.77 112.24h0M315.76 111.39h0M318.29 113.69h0M319.14 108.9h0M315.51 115.84h0M316.44 113.51h0M318.38 116.5h0M318.39 116.03h0M318.23 116.5h0M314.64 108.69h0M319.77 111.89h0M317.1 115.49h0M318.05 116.32h0M316.11 114.52h0M314.71 107.05h0M318.25 117.18h0M316.49 114.77h0M315.15 113.79h0M316.85 112.47h0M315.32 112.28h0M316.58 115.88h0M314.87 113.26h0M318.48 113.58h0M317.5 116.67h0M317.86 111.14h0M317.62 114.27h0M315.31 114.42h0M318.56 115.69h0M317.57 108.97h0M315.8 116.51h0M315.76 107.74h0M315.79 116.96h0M318.54 116.9h0M315.29 116.66h0M319.69 116.96h0M317.51 94.25h0M315.07 110.86h0M318.36 111.72h0M315.3 115.42h0M318.5 114.86h0M318.91 114.26h0M317.4 114.84h0M316.48 116.79h0M315.88 83.1h0M319.91 115.24h0M315.38 111.42h0M319.08 114.78h0M316.97 115.38h0M317.18 112.15h0M317.81 116.04h0M316.99 111.99h0M316.25 109.85h0M318.99 116.5h0M316.38 114.84h0M319.3 112.5h0M318.49 116.96h0M314.91 111.25h0M317.67 112.47h0M318.34 116.15h0" stroke="#F8766D" stroke-opacity="0.65" stroke-width="1.25" stroke-linecap="round" fill="none"/><path d="M334.68 78.54h0M335.19 106.61h0M335.71 109.23h0M334.22 103.02h0M335.69 115.92h0M335.75 94.41h0M336.33 101.36h0M336.39 101.69h0M336.73 106.77h0M337.14 93.31h0M334.25 105.9h0M337.46 105.37h0M337.05 110.03h0M333.03 112.4h0M336.8 111.02h0M337.64 110.95h0M338.32 108.45h0M337.29 106.74h0M338.11 102.12h0M334.41 105.98h0M334.57 111.03h0M338.08 113.11h0M336.49 108.9h0M333.69 105.02h0M336.35 99.57h0M334.44 93.46h0M332.97 112.44h0M334.72 102.66h0M334.55 94.13h0M335.38 98.91h0M335.1 110.7h0M333.88 96.8h0M337.76 95.9h0M336.77 110.71h0M337.77 111.05h0M333.09 97.53h0M333.71 113.6h0M333.97 112.08h0M333.8 105.73h0M337.72 103.72h0M337.62 110.61h0M334.74 105.18h0M334.79 115.03h0M335.88 101.51h0M336.07 110.81h0M336.15 113.34h0M337.53 109.65h0M336.69 106.75h0M336.82 92.17h0M336.33 78.3h0M336.74 110.71h0M334.4 95.57h0M337.02 108.92h0M334.16 100.04h0M333.54 115.95h0M338.19 114.56h0M335.19 108.33h0M338.06 45h0M335.68 105.45h0M333.96 102.34h0M334.21 97.52h0M333.68 94.58h0M333.65 103.55h0M336.33 110.1h0M337.47 108.77h0M337.77 105.52h0M336.01 99.48h0M336.97 100.84h0M337.17 100.22h0M336.71 111.68h0M334.92 100.37h0M334.61 110.02h0M337.9 110.7h0M338.33 101.62h0M336.19 104.57h0M338.22 107.36h0M337.44 101.98h0M333.27 107.65h0M337.28 102.86h0M335.82 113.42h0M336.84 90.87h0M335.21 90.85h0M336.36 107.05h0M336.67 111.63h0M334.23 95.65h0M338.16 106.47h0M333.95 99.41h0M335.41 114.72h0M337.53 108.13h0M335.65 114.1h0M335.72 115.81h0M338.16 111.41h0M335.12 109.08h0M338.1 100.23h0M338.27 106.86h0M334.85 104.64h0M334.31 111.1h0M334.86 100.26h0M336.19 114.21h0M334.85 99.85h0M335.57 112.36h0M337.96 100.38h0M338.32 72.62h0M333.07 110.92h0M333.34 81.77h0M337.49 109.29h0M335.73 94.23h0M333.64 77.16h0M335.46 109.23h0M335.55 110.96h0" stroke="#A3A500" stroke-opacity="0.65" stroke-width="1.25" stroke-linecap="round" fill="none"/><path d="M352.56 91.98h0M352.63 102.6h0M354.71 106.78h0M352.59 97.56h0M353.69 100.99h0M352.54 86.53h0M352.34 101.08h0M356.41 94.3h0M354.4 108.66h0M355.99 110.76h0M351.78 109.58h0M354.74 109.42h0M351.89 63.5h0M354.73 96.01h0M355.85 98.45h0M354.88 111.6h0M353.75 101.11h0M351.49 107.33h0M356.27 101.98h0M355.27 111.81h0M353.88 70.87h0M353.05 113.39h0M354.09 108.58h0M352.39 90.8h0M355.1 85.55h0M354.66 90.05h0M355.33 111.08h0M356.53 91.03h0M354.2 113.95h0M351.36 105.43h0M355.44 108.55h0M354.84 100.36h0M353.53 102.18h0M354.29 110.73h0M354.08 107.96h0M353.95 87.33h0M352.59 113.43h0M352.49 106.26h0M354.47 102.2h0M354.96 103.86h0M351.77 110.75h0M354.82 98.15h0M353.65 110.84h0M353.82 103.56h0M352.91 101.53h0M354.19 113.35h0M355.27 110.55h0M352.32 107.49h0M351.77 99.36h0M356.36 104.46h0M353.8 111h0M354.59 98.09h0M352.14 108.6h0M353.99 109.28h0M355.42 113.75h0M354.98 112.23h0M355.32 87.46h0M353.69 100.21h0M354.95 111.92h0M356.44 109.98h0M352.71 92.16h0M355.01 99.05h0M354.76 110.74h0M351.94 109.29h0M353.49 105.47h0M352.94 104.09h0M352.86 97.15h0M353.09 108.77h0M353.04 108.52h0M354.83 111.03h0M356.49 95.03h0M354.63 110.76h0M355.82 109.03h0M353.48 112.54h0M354.68 113.24h0M355.89 108.36h0M354.06 108.69h0M351.35 111.91h0M354.95 102.71h0M354.68 110.77h0" stroke="#00BF7D" stroke-opacity="0.65" stroke-width="1.25" stroke-linecap="round" fill="none"/><path d="M371.46 101.75h0M371.27 100.76h0M372.69 105.66h0M370.54 106.04h0M371.21 90.23h0M374.14 101.71h0M373.4 108.51h0M373.79 98.92h0M374.7 106.79h0M371.24 110.73h0M371.35 109.58h0M372.06 109.46h0M372.59 99.12h0M372.92 108.54h0M371.4 112.44h0M370.68 108.77h0M374.92 93.25h0M369.74 103.14h0M372.85 104.56h0M372.12 110.77h0M371.47 106.54h0M374.41 112.88h0M373.78 105.06h0M374.2 104.4h0M371.88 104.09h0M373.41 97.95h0M371.29 105.95h0M371.42 108.47h0M372.03 102.9h0M371.88 105.64h0M373.4 108.57h0M374.72 105.58h0M370.24 96.46h0M370.2 108.32h0M372.91 104.07h0M372.19 101.43h0M373.06 111.39h0M371.8 107.2h0M374.35 107.34h0M373.31 113.26h0M369.71 109.03h0M374.86 106.91h0M374.01 111.88h0M373.96 110.71h0M374.3 109.71h0M371.85 103.58h0M373.54 109.3h0M374.48 110.7h0M371.82 102.01h0M370.62 106.4h0" stroke="#00B0F6" stroke-opacity="0.65" stroke-width="1.25" stroke-linecap="round" fill="none"/><path d="M392.01 105.38h0M392.37 106.65h0M392.54 111.86h0M392.53 104.65h0M389.98 111.37h0M392.83 104.05h0M390.84 108.57h0M388.75 104.91h0M393.26 112.57h0M388.61 108.81h0M391.03 109.78h0M389.92 107.45h0M389.26 104.48h0M388.23 110.72h0M390.19 110.46h0M389.78 110.32h0M388.25 105.77h0M389.31 105.83h0M393.06 107.8h0M391.78 111.52h0M389.05 108.55h0M389.2 111.37h0M390.84 109.96h0M388.54 97.73h0M391 105.15h0M389.59 104.41h0M390.93 109.96h0M393.28 108.73h0M392.49 100.3h0M390.74 107.99h0M392.06 111.75h0M390.78 105.06h0M391.11 104.7h0M388.11 111.13h0" stroke="#E76BF3" stroke-opacity="0.65" stroke-width="1.25" stroke-linecap="round" fill="none"/><path d="M317.27 38.4V37.5H335.63V38.4M317.27 34.15V33.25H354V34.15M317.27 30.4V29.5H372.37V30.4M317.27 26.4V25.5H390.73V26.4M335.63 22.65V21.75H372.37V22.65M335.63 18.4V17.5H390.73V18.4M354 14.65V13.75H372.37V14.65M354 10.4V9.5H390.73V10.4" stroke="#777" stroke-width="0.6" fill="none"/><g font-size="4.2" fill="#777" stroke="none" style="stroke:none" text-anchor="middle"><text x="326.45" y="37.4">****</text><text x="335.63" y="33.15">****</text><text x="344.82" y="29.4">****</text><text x="354" y="25.4">****</text><text x="354" y="21.65">***</text><text x="363.18" y="17.4">***</text><text x="363.18" y="13.65">***</text><text x="372.37" y="9.4">*</text></g><rect x="306.25" y="4.5" width="95.5" height="118.55" fill="none" stroke="#a8a8a8" stroke-width="0.85"/><path d="M317.27 123.05v1.3M335.63 123.05v1.3M354 123.05v1.3M372.37 123.05v1.3M390.73 123.05v1.3M306.25 118.75h-1.3M306.25 83.75h-1.3M306.25 48.75h-1.3M306.25 13.75h-1.3" stroke="#333" stroke-width="0.5"/><g font-size="7.3" fill="#1a1a1a" text-anchor="end"><text x="302.55" y="121.25">0</text><text x="302.55" y="86.25">10</text><text x="302.55" y="51.25">20</text><text x="302.55" y="16.25">30</text></g><g font-size="7.2" fill="#1a1a1a" text-anchor="end"><text transform="translate(316.87 125.95) rotate(-45)" x="0" y="5.18">Admission</text><text transform="translate(335.23 125.95) rotate(-45)" x="0" y="5.18">Discharge</text><text transform="translate(353.6 125.95) rotate(-45)" x="0" y="5.18">First follow-up</text><text transform="translate(371.97 125.95) rotate(-45)" x="0" y="5.18">Second follow-up</text><text transform="translate(390.33 125.95) rotate(-45)" x="0" y="5.18">Third follow-up</text></g><text transform="translate(288.15 64) rotate(-90)" x="0" y="0" font-size="7.2" fill="#1a1a1a" text-anchor="middle">ALC (×10<tspan font-size="4.6" dy="-3">9</tspan><tspan dy="3">/L)</tspan></text></g>
<g><path d="M449.5 117.5H545.5M449.5 93.25H545.5M449.5 69.25H545.5M449.5 45H545.5M449.5 20.75H545.5M449.5 8.62H545.5M449.5 32.88H545.5M449.5 57.12H545.5M449.5 81.38H545.5M449.5 105.62H545.5M463.21 4.5V123.05M486.07 4.5V123.05M508.93 4.5V123.05M531.79 4.5V123.05" stroke="#ededed" stroke-width="0.6" fill="none"/><path d="M449.5 93.25H545.5" stroke="#999" stroke-width="0.8"/><path d="M463.21 67.14L486.07 81.08L508.93 100.36L531.79 108.86M463.21 41.19L486.07 65.46L508.93 98.79L531.79 109.82M463.21 85.32L486.07 95.46L508.93 107.51L531.79 111.19M463.21 59.92L486.07 104.78L508.93 104.28L531.79 104.04M463.21 48.39L486.07 75.37L508.93 101.11L531.79 111M463.21 50.86L486.07 96.94L508.93 94.91L531.79 111.48M463.21 64.72L486.07 81.78L508.93 100.88L531.79 110.25M463.21 45.7L486.07 85.23L508.93 98.25L531.79 110.31M463.21 38.1L486.07 88.94L508.93 99.9L531.79 107.5M463.21 47.09L486.07 89.68L508.93 95.64L531.79 107.54M463.21 58.91L486.07 93.05L508.93 106.25L531.79 111.4M463.21 40.61L486.07 78.25L508.93 96.04L531.79 108.76M463.21 115.01L486.07 82.45L508.93 104.26L531.79 109.41M463.21 80.54L486.07 100.59L508.93 106.89L531.79 110.4M463.21 37.93L486.07 78.24L508.93 108.88L531.79 111.04M463.21 38.24L486.07 77.48L508.93 93.32L531.79 107.64M463.21 45.99L486.07 73.06L508.93 98.59M463.21 65.21L486.07 86.81L508.93 109.31M463.21 54.79L486.07 72.96L508.93 99.21M463.21 50.18L486.07 83.14L508.93 104.25M463.21 49.15L486.07 84.57L508.93 96.7M463.21 31.4L486.07 76.52L508.93 102.68M463.21 86.23L486.07 85.41L508.93 97.7M463.21 40.75L486.07 80.6L508.93 100.89M463.21 57.38L486.07 77.97L508.93 100.54M463.21 41.95L486.07 53.32L508.93 84.84M463.21 64.32L486.07 98.45L508.93 103.21M463.21 68.9L486.07 81.67L508.93 104.81M463.21 44.51L486.07 92.5L508.93 100.85M463.21 51.7L486.07 64.96L508.93 102.03M463.21 35.44L486.07 103.88L508.93 103.23M463.21 48.64L486.07 71.93L508.93 106.31M463.21 55.46L486.07 81.22L508.93 100.91M463.21 45.48L486.07 73.44L508.93 96.95M463.21 64.39L486.07 103.54L508.93 105.69M463.21 19.84L486.07 74.46L508.93 104.31M463.21 101.22L486.07 105.09L508.93 109.91M463.21 27.22L486.07 78.25L508.93 99.42M463.21 63.29L486.07 101.67L508.93 106.82M463.21 47.21L486.07 85.72L508.93 108.03M463.21 15.31L486.07 76.1L508.93 82.13M463.21 104.3L486.07 94.06L508.93 97.49M463.21 77.58L486.07 82.47L508.93 101.92M463.21 37.5L486.07 77.1L508.93 93.76M463.21 56.1L486.07 82.45L508.93 93.26M463.21 58.61L486.07 101.07M463.21 44.09L486.07 68.76M463.21 56.42L486.07 90.51M463.21 53.51L486.07 90.87M463.21 76.04L486.07 92.64M463.21 38.87L486.07 68.23M463.21 48.68L486.07 90.2M463.21 40.53L486.07 80.03M463.21 77.77L486.07 84.81M463.21 38.06L486.07 105.79M463.21 23.91L486.07 98.43M463.21 85.77L486.07 99.31M463.21 35.02L486.07 93.19M463.21 37.41L486.07 80.2M463.21 68.41L486.07 88.05M463.21 35.52L486.07 75.2M463.21 33.15L486.07 85.68M463.21 46.56L486.07 78.25M463.21 37.9L486.07 76.62M463.21 36.89L486.07 72.55M463.21 81.6L486.07 88.98M463.21 53.93L486.07 79.77M463.21 70.43L486.07 101M463.21 61.43L486.07 70.15M463.21 39.96L486.07 92.29M463.21 49.98L486.07 77.64M463.21 15.03L486.07 91.82" stroke="#444" stroke-opacity="0.16" stroke-width="0.45" fill="none"/><path d="M463.21 16.25V40M463.21 64.5V93.75" stroke="#555" stroke-width="0.6"/><rect x="454.64" y="40" width="17.14" height="24.5" fill="#F8766D" fill-opacity="0.35" stroke="#333" stroke-opacity="0.75" stroke-width="0.5"/><path d="M454.64 52.5H471.79" stroke="#333" stroke-width="0.8"/><path d="M486.07 68V78.25M486.07 93V106" stroke="#555" stroke-width="0.6"/><rect x="477.5" y="78.25" width="17.14" height="14.75" fill="#7CAE00" fill-opacity="0.35" stroke="#333" stroke-opacity="0.75" stroke-width="0.5"/><path d="M477.5 87H494.64" stroke="#333" stroke-width="0.8"/><path d="M508.93 88V97M508.93 104.25V109" stroke="#555" stroke-width="0.6"/><rect x="500.36" y="97" width="17.14" height="7.25" fill="#00BFC4" fill-opacity="0.35" stroke="#333" stroke-opacity="0.75" stroke-width="0.5"/><path d="M500.36 100H517.5" stroke="#333" stroke-width="0.8"/><path d="M531.79 106V107.5M531.79 110.25V111.5" stroke="#555" stroke-width="0.6"/><rect x="523.21" y="107.5" width="17.14" height="2.75" fill="#C77CFF" fill-opacity="0.35" stroke="#333" stroke-opacity="0.75" stroke-width="0.5"/><path d="M523.21 108.75H540.36" stroke="#333" stroke-width="0.8"/><path d="M461.8 67.14h0M464.38 41.19h0M464.88 85.32h0M463.68 59.92h0M461.54 48.39h0M465.04 50.86h0M460.62 64.72h0M460.78 45.7h0M460.6 38.1h0M465.18 47.09h0M465.23 58.91h0M461.65 40.61h0M461.34 115.01h0M463.48 80.54h0M461.05 37.93h0M463.45 38.24h0M465.13 45.99h0M461.67 65.21h0M464.08 54.79h0M462.54 50.18h0M464.34 49.15h0M463.21 31.4h0M461.25 86.23h0M463.81 40.75h0M460.76 57.38h0M464.86 41.95h0M464.57 64.32h0M462.33 68.9h0M463.73 44.51h0M461.11 51.7h0M463.93 35.44h0M465.75 48.64h0M461.97 55.46h0M462.27 45.48h0M464.54 64.39h0M465.28 19.84h0M464.26 101.22h0M460.7 27.22h0M462.97 63.29h0M462.57 47.21h0M461.95 15.31h0M464.65 104.3h0M465.91 77.58h0M464.15 37.5h0M465.43 56.1h0M462.54 58.61h0M462 44.09h0M463.94 56.42h0M463.15 53.51h0M464.84 76.04h0M462.17 38.87h0M461.95 48.68h0M465.69 40.53h0M464.39 77.77h0M463.79 38.06h0M461.21 23.91h0M461.61 85.77h0M462.64 35.02h0M463.56 37.41h0M465.89 68.41h0M460.57 35.52h0M465.51 33.15h0M465.09 46.56h0M465.09 37.9h0M465.17 36.89h0M461.27 81.6h0M465.82 53.93h0M460.98 70.43h0M464.19 61.43h0M462.87 39.96h0M465.55 49.98h0M465.54 15.03h0M460.56 51.43h0M464.96 40.71h0M462.89 31.05h0" stroke="#F8766D" stroke-opacity="0.65" stroke-width="1.25" stroke-linecap="round" fill="none"/><path d="M483.76 81.08h0M485.18 65.46h0M484.48 95.46h0M484.15 104.78h0M485.01 75.37h0M485.1 96.94h0M488.19 81.78h0M483.77 85.23h0M485.11 88.94h0M487.67 89.68h0M486.9 93.05h0M486.23 78.25h0M484.61 82.45h0M487.19 100.59h0M484.18 78.24h0M484.48 77.48h0M485.27 73.06h0M485.47 86.81h0M488.31 72.96h0M486.92 83.14h0M485.13 84.57h0M485.95 76.52h0M483.39 85.41h0M483.65 80.6h0M485.72 77.97h0M484.09 53.32h0M485.61 98.45h0M484.46 81.67h0M487.31 92.5h0M486.21 64.96h0M486.23 103.88h0M484.58 71.93h0M483.63 81.22h0M484.89 73.44h0M486.29 103.54h0M486.8 74.46h0M487.83 105.09h0M486.39 78.25h0M486.87 101.67h0M488.07 85.72h0M483.76 76.1h0M488 94.06h0M485.34 82.47h0M484.33 77.1h0M488.03 82.45h0M486.19 101.07h0M484.94 68.76h0M486.17 90.51h0M486.94 90.87h0M483.38 92.64h0M486.31 68.23h0M486.04 90.2h0M484.94 80.03h0M487.44 84.81h0M484.76 105.79h0M487.97 98.43h0M488.02 99.31h0M486.84 93.19h0M488.42 80.2h0M485.52 88.05h0M484.63 75.2h0M485.46 85.68h0M486.45 78.25h0M487.82 76.62h0M486.34 72.55h0M486.75 88.98h0M484.38 79.77h0M484.98 101h0M485.03 70.15h0M484.08 92.29h0M486.92 77.64h0M487.19 91.82h0" stroke="#7CAE00" stroke-opacity="0.65" stroke-width="1.25" stroke-linecap="round" fill="none"/><path d="M511.43 100.36h0M511 98.79h0M511.03 107.51h0M509.32 104.28h0M508.14 101.11h0M509.18 94.91h0M507.75 100.88h0M510.11 98.25h0M510.91 99.9h0M510.42 95.64h0M507.92 106.25h0M508.18 96.04h0M509.57 104.26h0M509.09 106.89h0M509.62 108.88h0M509.5 93.32h0M510.06 98.59h0M507.37 109.31h0M509.87 99.21h0M510.87 104.25h0M508.53 96.7h0M511.27 102.68h0M510.94 97.7h0M510.45 100.89h0M506.98 100.54h0M507.86 84.84h0M509.7 103.21h0M509.62 104.81h0M506.49 100.85h0M506.24 102.03h0M510.76 103.23h0M506.62 106.31h0M510.49 100.91h0M508.01 96.95h0M508.3 105.69h0M507.52 104.31h0M509.81 109.91h0M509.93 99.42h0M508.77 106.82h0M508.15 108.03h0M510.53 82.13h0M508.11 97.49h0M507.33 101.92h0M511.34 93.76h0M508.54 93.26h0" stroke="#00BFC4" stroke-opacity="0.65" stroke-width="1.25" stroke-linecap="round" fill="none"/><path d="M533.69 108.86h0M533.31 109.82h0M531.22 111.19h0M532.64 104.04h0M532.81 111h0M533.18 111.48h0M530.39 110.25h0M529.11 110.31h0M532.38 107.5h0M534.42 107.54h0M533.59 111.4h0M530.94 108.76h0M529.26 109.41h0M530.56 110.4h0M534.15 111.04h0M533.07 107.64h0" stroke="#C77CFF" stroke-opacity="0.65" stroke-width="1.25" stroke-linecap="round" fill="none"/><path d="M463.21 20.9V20H486.07V20.9M463.21 15.4V14.5H508.93V15.4M463.21 10.4V9.5H531.79V10.4" stroke="#777" stroke-width="0.6" fill="none"/><g font-size="4.2" fill="#777" stroke="none" style="stroke:none" text-anchor="middle"><text x="474.64" y="19.9">***</text><text x="486.07" y="14.4">****</text><text x="497.5" y="9.4">*</text></g><rect x="449.5" y="4.5" width="96" height="118.55" fill="none" stroke="#a8a8a8" stroke-width="0.85"/><path d="M463.21 123.05v1.3M486.07 123.05v1.3M508.93 123.05v1.3M531.79 123.05v1.3M449.5 117.5h-1.3M449.5 93.25h-1.3M449.5 69.25h-1.3M449.5 45h-1.3M449.5 20.75h-1.3" stroke="#333" stroke-width="0.5"/><g font-size="7.3" fill="#1a1a1a" text-anchor="end"><text x="446.7" y="120">1e-02</text><text x="446.7" y="95.75">1e-01</text><text x="446.7" y="71.75">1e+00</text><text x="446.7" y="47.5">1e+01</text><text x="446.7" y="23.25">1e+02</text></g><g font-size="7.2" fill="#1a1a1a" text-anchor="end"><text transform="translate(462.81 125.95) rotate(-45)" x="0" y="5.18">Admission</text><text transform="translate(485.67 125.95) rotate(-45)" x="0" y="5.18">Discharge</text><text transform="translate(508.53 125.95) rotate(-45)" x="0" y="5.18">First follow-up</text><text transform="translate(531.39 125.95) rotate(-45)" x="0" y="5.18">Second follow-up</text></g><text transform="translate(419.95 63.5) rotate(-90)" x="0" y="0" font-size="7.2" fill="#1a1a1a" text-anchor="middle">Procalcitonin (<0.1 ng/mL)</text></g>
<g><path d="M589.5 96.25H684.5M589.5 66.5H684.5M589.5 37H684.5M589.5 7.5H684.5M589.5 22.25H684.5M589.5 51.75H684.5M589.5 81.25H684.5M589.5 110.75H684.5M600.46 4.5V123.05M618.73 4.5V123.05M637 4.5V123.05M655.27 4.5V123.05M673.54 4.5V123.05" stroke="#ededed" stroke-width="0.6" fill="none"/><path d="M589.5 66.5H684.5" stroke="#cccccc" stroke-width="0.8"/><path d="M589.5 85.3H684.5" stroke="#999" stroke-width="0.6" stroke-dasharray="1.2 1.2"/><path d="M600.46 82.69L618.73 88.19L637 67.59L655.27 71.31L673.54 65.91M600.46 65.79L618.73 79.89L637 69.59L655.27 54.48L673.54 53.95M600.46 78.8L618.73 81.72L637 87.72L655.27 81.26L673.54 71.91M600.46 68.36L618.73 80.82L637 86.23L655.27 76.1L673.54 66.16M600.46 81.49L618.73 79.44L637 78.64L655.27 76.81L673.54 75.25M600.46 87.62L618.73 95.29L637 82.14L655.27 78.97L673.54 66.19M600.46 95.59L618.73 79.71L637 78.51L655.27 74.03L673.54 75.17M600.46 88.55L618.73 69.38L637 82.11L655.27 76.59L673.54 77.21M600.46 62.19L618.73 66.59L637 68.65L655.27 68.46L673.54 53.16M600.46 93.14L618.73 87.74L637 70.57L655.27 71.19L673.54 63.95M600.46 86.23L618.73 69.32L637 69.83L655.27 71.89L673.54 69.08M600.46 82.48L618.73 89.68L637 75.34L655.27 71L673.54 75.27M600.46 90.11L618.73 84.4L637 76.31L655.27 80.95L673.54 66.12M600.46 100.39L618.73 94.68L637 82.78L655.27 73.73L673.54 86.08M600.46 79.1L618.73 82.43L637 80.99L655.27 84.99L673.54 82.9M600.46 110.7L618.73 110.67L637 89.85L655.27 92.44L673.54 74.39M600.46 83.61L618.73 87.28L637 81.71L655.27 73.09L673.54 72.22M600.46 63.75L618.73 80.33L637 73.98L655.27 82.39L673.54 64.83M600.46 76.54L618.73 80.02L637 63.53L655.27 53.94L673.54 54.26M600.46 62.83L618.73 83.47L637 78.83L655.27 71.09L673.54 58.85M600.46 112.01L618.73 94.78L637 85.85L655.27 82.74L673.54 72.43M600.46 93.24L618.73 78.96L637 85.33L655.27 59.12L673.54 53.59M600.46 81.45L618.73 86.59L637 101.15L655.27 85.78L673.54 75.08M600.46 82.62L618.73 94.5L637 85.37L655.27 71.98L673.54 74.05M600.46 91.28L618.73 79.47L637 85.58L655.27 81.33L673.54 72.56M600.46 54.7L618.73 93.62L637 100.74L655.27 95.27L673.54 68.02M600.46 82.82L618.73 55.66L637 80.44L655.27 77.25L673.54 71.46M600.46 83.18L618.73 86.97L637 102.18L655.27 70.63L673.54 68.2M600.46 75.02L618.73 84.07L637 84.71L655.27 66.83L673.54 52.53M600.46 72.12L618.73 81.57L637 93.36L655.27 53.77L673.54 71.19M600.46 77.07L618.73 74.15L637 91.28L655.27 81.25L673.54 72.62M600.46 94.84L618.73 107L637 82.98L655.27 84.74L673.54 85.44M600.46 76.33L618.73 79.49L637 64.28L655.27 74.29L673.54 72.79M600.46 87.45L618.73 93.63L637 86.27L655.27 71.39L673.54 70.51M600.46 79.03L618.73 74.18L637 76.81L655.27 63.28M600.46 81.34L618.73 103.03L637 78.51L655.27 77.1M600.46 91.14L618.73 80.94L637 79.85L655.27 67.16M600.46 79.11L618.73 89.81L637 87L655.27 86.15M600.46 71.2L618.73 66.63L637 73.08L655.27 70.6M600.46 79.78L618.73 98.55L637 94.21L655.27 70.36M600.46 103.43L618.73 82.69L637 80.81L655.27 83.75M600.46 84.67L618.73 76.95L637 75.78L655.27 76.57M600.46 101.18L618.73 98.09L637 88.1L655.27 84.77M600.46 104.67L618.73 106.44L637 108.86L655.27 81.35M600.46 81.93L618.73 82.17L637 72.43L655.27 72.93M600.46 68.97L618.73 75.21L637 80.18L655.27 64.34M600.46 92.99L618.73 95.06L637 97.87L655.27 77.21M600.46 87.14L618.73 90.68L637 85.97L655.27 72.12M600.46 63.49L618.73 85.99L637 70.18L655.27 66.99M600.46 71.75L618.73 83.86L637 76.43L655.27 65.78M600.46 62.29L618.73 91.07L637 59.86M600.46 92.51L618.73 79.7L637 82.02M600.46 82.69L618.73 78.66L637 83.76M600.46 81.99L618.73 79.47L637 69.02M600.46 78.74L618.73 94.67L637 84.68M600.46 86.25L618.73 95.74L637 75.47M600.46 78.95L618.73 75.88L637 63.71M600.46 90.64L618.73 93.32L637 108.94M600.46 79.78L618.73 91.81L637 72M600.46 79.22L618.73 75.11L637 81.37M600.46 115.13L618.73 100.28L637 98.59M600.46 86.65L618.73 80.19L637 79.47M600.46 81.93L618.73 94.5L637 100.08M600.46 87.03L618.73 77L637 67.65M600.46 92.52L618.73 93.68L637 95.69M600.46 92.74L618.73 91.96L637 95.06M600.46 85.4L618.73 91.7L637 85.5M600.46 87.06L618.73 88.41L637 81.11M600.46 74.33L618.73 89.86L637 57.24M600.46 72.02L618.73 74.75L637 69.96M600.46 85.56L618.73 89.72L637 58.47M600.46 72.71L618.73 88.1L637 76.02M600.46 75.68L618.73 94.65L637 70.07M600.46 107.9L618.73 94.61L637 87.51M600.46 86.32L618.73 78.97L637 67.9M600.46 87.21L618.73 83.81L637 52.74M600.46 90.78L618.73 87.99L637 73.46M600.46 104.8L618.73 94.31L637 108.6M600.46 94.35L618.73 100.36L637 108.92M600.46 101.24L618.73 86.91L637 88.45M600.46 92.29L618.73 113.7M600.46 87.46L618.73 73.9M600.46 70.62L618.73 76.82M600.46 84.07L618.73 78.11M600.46 85.69L618.73 105.25M600.46 81.12L618.73 82.15M600.46 79.63L618.73 90.13M600.46 84.03L618.73 61.66M600.46 82.33L618.73 83.58M600.46 73.39L618.73 100.15M600.46 115.49L618.73 96.67M600.46 79.22L618.73 79.49M600.46 80.8L618.73 87.27M600.46 105.03L618.73 92.03M600.46 81.96L618.73 86.44M600.46 101.56L618.73 105.29M600.46 89.62L618.73 93.04M600.46 80.83L618.73 71.78M600.46 87.15L618.73 94.25M600.46 88.89L618.73 96.47M600.46 96.34L618.73 78.85M600.46 67.15L618.73 88.29M600.46 84.75L618.73 116.9M600.46 103.33L618.73 94.5M600.46 91.07L618.73 77.45M600.46 83.91L618.73 70.32M600.46 72.67L618.73 77.68M600.46 84.71L618.73 93.39M600.46 82L618.73 60.96M600.46 78.61L618.73 91.6" stroke="#444" stroke-opacity="0.16" stroke-width="0.45" fill="none"/><path d="M600.46 63.75V79.25M600.46 92.5V110" stroke="#555" stroke-width="0.6"/><rect x="593.61" y="79.25" width="13.7" height="13.25" fill="#F8766D" fill-opacity="0.35" stroke="#333" stroke-opacity="0.75" stroke-width="0.5"/><path d="M593.61 85.5H607.31" stroke="#333" stroke-width="0.8"/><path d="M618.73 63V79.5M618.73 94.5V110.5" stroke="#555" stroke-width="0.6"/><rect x="611.88" y="79.5" width="13.7" height="15" fill="#A3A500" fill-opacity="0.35" stroke="#333" stroke-opacity="0.75" stroke-width="0.5"/><path d="M611.88 87.5H625.58" stroke="#333" stroke-width="0.8"/><path d="M637 63.75V75M637 88.75V109.25" stroke="#555" stroke-width="0.6"/><rect x="630.15" y="75" width="13.7" height="13.75" fill="#00BF7D" fill-opacity="0.35" stroke="#333" stroke-opacity="0.75" stroke-width="0.5"/><path d="M630.15 83.25H643.85" stroke="#333" stroke-width="0.8"/><path d="M655.27 54.5V70.5M655.27 81.25V95.5" stroke="#555" stroke-width="0.6"/><rect x="648.42" y="70.5" width="13.7" height="10.75" fill="#00B0F6" fill-opacity="0.35" stroke="#333" stroke-opacity="0.75" stroke-width="0.5"/><path d="M648.42 75H662.12" stroke="#333" stroke-width="0.8"/><path d="M673.54 53.75V66.25M673.54 75.5V86.25" stroke="#555" stroke-width="0.6"/><rect x="666.69" y="66.25" width="13.7" height="9.25" fill="#E76BF3" fill-opacity="0.35" stroke="#333" stroke-opacity="0.75" stroke-width="0.5"/><path d="M666.69 71.25H680.39" stroke="#333" stroke-width="0.8"/><path d="M600.1 82.69h0M601.4 65.79h0M602.9 78.8h0M599.35 68.36h0M603.05 81.49h0M601.43 87.62h0M600.44 95.59h0M602.33 88.55h0M600.19 62.19h0M600.98 93.14h0M598.65 86.23h0M600.44 82.48h0M598.45 90.11h0M599 100.39h0M599.02 79.1h0M602.16 110.7h0M601.72 83.61h0M600.35 63.75h0M601.64 76.54h0M602.26 62.83h0M598.39 112.01h0M601.46 93.24h0M602.28 81.45h0M601.03 82.62h0M600.15 91.28h0M598.97 54.7h0M598.64 82.82h0M602.42 83.18h0M601.33 75.02h0M601.45 72.12h0M602.58 77.07h0M600.7 94.84h0M598.64 76.33h0M599.45 87.45h0M600.13 79.03h0M602.67 81.34h0M601.38 91.14h0M599.16 79.11h0M600.72 71.2h0M602.98 79.78h0M599.65 103.43h0M599.59 84.67h0M602.32 101.18h0M602.62 104.67h0M598.13 81.93h0M603.03 68.97h0M599.25 92.99h0M598.97 87.14h0M600.66 63.49h0M601.67 71.75h0M599.54 62.29h0M601.59 92.51h0M601.74 82.69h0M600.79 81.99h0M601.65 78.74h0M599.19 86.25h0M598.71 78.95h0M598.59 90.64h0M602.2 79.78h0M597.88 79.22h0M599.84 115.13h0M599.81 86.65h0M600.65 81.93h0M598.87 87.03h0M598.84 92.52h0M601.67 92.74h0M601.27 85.4h0M599.05 87.06h0M601.77 74.33h0M599.06 72.02h0M599.18 85.56h0M598.77 72.71h0M602.71 75.68h0M600.97 107.9h0M597.8 86.32h0M601.27 87.21h0M598.27 90.78h0M601.88 104.8h0M598.38 94.35h0M601.26 101.24h0M597.93 92.29h0M602.5 87.46h0M599.38 70.62h0M600.15 84.07h0M603.13 85.69h0M599.99 81.12h0M601.92 79.63h0M600.63 84.03h0M600.66 82.33h0M601.27 73.39h0M602.99 115.49h0M602.66 79.22h0M600.13 80.8h0M601.83 105.03h0M599.16 81.96h0M601.3 101.56h0M597.84 89.62h0M600.43 80.83h0M598.3 87.15h0M600.16 88.89h0M597.93 96.34h0M602.1 67.15h0M598.61 84.75h0M598.74 103.33h0M600.84 91.07h0M602.37 83.91h0M602.02 72.67h0M598.36 84.71h0M598.97 82h0M599.73 78.61h0M602.28 81.73h0M600.13 82.18h0M601.6 79.02h0M600.35 78.68h0M600.14 81.31h0" stroke="#F8766D" stroke-opacity="0.65" stroke-width="1.25" stroke-linecap="round" fill="none"/><path d="M619.48 88.19h0M619.68 79.89h0M618.27 81.72h0M617.29 80.82h0M618.14 79.44h0M616.65 95.29h0M621.05 79.71h0M617.26 69.38h0M617.37 66.59h0M618.52 87.74h0M616.95 69.32h0M618.93 89.68h0M617.33 84.4h0M620.08 94.68h0M619.25 82.43h0M617.88 110.67h0M619.7 87.28h0M618.72 80.33h0M617.92 80.02h0M620.36 83.47h0M621.26 94.78h0M619.87 78.96h0M617.86 86.59h0M618.5 94.5h0M619.6 79.47h0M620.84 93.62h0M618.88 55.66h0M618.81 86.97h0M619.44 84.07h0M619.04 81.57h0M616.81 74.15h0M618.3 107h0M619.14 79.49h0M616.32 93.63h0M616.62 74.18h0M619.47 103.03h0M620.09 80.94h0M620.49 89.81h0M620.1 66.63h0M620.21 98.55h0M617.03 82.69h0M618.74 76.95h0M620.29 98.09h0M619.53 106.44h0M619.29 82.17h0M619.81 75.21h0M616.35 95.06h0M617.82 90.68h0M616.2 85.99h0M618.8 83.86h0M621.36 91.07h0M618.49 79.7h0M618.82 78.66h0M619.82 79.47h0M616.37 94.67h0M617.95 95.74h0M617.95 75.88h0M620.23 93.32h0M616.72 91.81h0M620.94 75.11h0M620.41 100.28h0M616.08 80.19h0M616.41 94.5h0M617.35 77h0M618.5 93.68h0M616.32 91.96h0M619.77 91.7h0M621.36 88.41h0M616.24 89.86h0M621.06 74.75h0M616.86 89.72h0M620.39 88.1h0M616.04 94.65h0M620.35 94.61h0M620.05 78.97h0M617.15 83.81h0M619.97 87.99h0M616.83 94.31h0M619.77 100.36h0M620.98 86.91h0M619.71 113.7h0M618.42 73.9h0M617.91 76.82h0M621.06 78.11h0M620.1 105.25h0M620.82 82.15h0M620.22 90.13h0M617.72 61.66h0M621.25 83.58h0M618.23 100.15h0M616.51 96.67h0M619.9 79.49h0M619.74 87.27h0M616.18 92.03h0M621.24 86.44h0M617.67 105.29h0M617.98 93.04h0M617.51 71.78h0M617.67 94.25h0M621.07 96.47h0M620.51 78.85h0M616.08 88.29h0M619.59 116.9h0M621.34 94.5h0M617.24 77.45h0M617.99 70.32h0M617.39 77.68h0M617.57 93.39h0M617.08 60.96h0M620.73 91.6h0" stroke="#A3A500" stroke-opacity="0.65" stroke-width="1.25" stroke-linecap="round" fill="none"/><path d="M634.69 67.59h0M638.83 69.59h0M639.19 87.72h0M637.33 86.23h0M637.76 78.64h0M639.29 82.14h0M638.97 78.51h0M637.53 82.11h0M638.55 68.65h0M634.83 70.57h0M638.85 69.83h0M635.19 75.34h0M639.11 76.31h0M634.47 82.78h0M634.64 80.99h0M639.27 89.85h0M635.06 81.71h0M638.36 73.98h0M637.93 63.53h0M638.76 78.83h0M638.83 85.85h0M638.59 85.33h0M638.58 101.15h0M636.21 85.37h0M637.99 85.58h0M636.43 100.74h0M639.4 80.44h0M639.13 102.18h0M637.95 84.71h0M639.11 93.36h0M634.55 91.28h0M638.65 82.98h0M636.18 64.28h0M639.52 86.27h0M636.38 76.81h0M638.5 78.51h0M639.25 79.85h0M637.36 87h0M638.66 73.08h0M636.43 94.21h0M637.11 80.81h0M638.9 75.78h0M637.93 88.1h0M639.04 108.86h0M635.45 72.43h0M634.69 80.18h0M638.66 97.87h0M637.37 85.97h0M637.03 70.18h0M637.48 76.43h0M635.02 59.86h0M636.48 82.02h0M638.1 83.76h0M639.42 69.02h0M638.96 84.68h0M639.65 75.47h0M636.76 63.71h0M639.22 108.94h0M637.04 72h0M639.59 81.37h0M634.37 98.59h0M636.8 79.47h0M639.08 100.08h0M634.86 67.65h0M638.12 95.69h0M637.93 95.06h0M639.21 85.5h0M638.56 81.11h0M638.63 57.24h0M639.32 69.96h0M634.86 58.47h0M634.87 76.02h0M638.74 70.07h0M637.25 87.51h0M638.68 67.9h0M639.57 52.74h0M634.85 73.46h0M638.45 108.6h0M636.76 108.92h0M639.23 88.45h0" stroke="#00BF7D" stroke-opacity="0.65" stroke-width="1.25" stroke-linecap="round" fill="none"/><path d="M655.79 71.31h0M653.36 54.48h0M656.27 81.26h0M653.4 76.1h0M653.78 76.81h0M657.95 78.97h0M655.8 74.03h0M657.79 76.59h0M654.18 68.46h0M656.06 71.19h0M657.29 71.89h0M655.46 71h0M652.65 80.95h0M654.69 73.73h0M653.9 84.99h0M652.63 92.44h0M653.64 73.09h0M656.01 82.39h0M656.6 53.94h0M656.81 71.09h0M653.82 82.74h0M656.26 59.12h0M652.59 85.78h0M657.13 71.98h0M652.79 81.33h0M655.27 95.27h0M655.02 77.25h0M656.17 70.63h0M657.47 66.83h0M656.51 53.77h0M654.69 81.25h0M656.22 84.74h0M653.32 74.29h0M657.76 71.39h0M657.77 63.28h0M656.66 77.1h0M655.43 67.16h0M654 86.15h0M653.17 70.6h0M654.41 70.36h0M656.18 83.75h0M654.75 76.57h0M656.64 84.77h0M656.37 81.35h0M653.78 72.93h0M652.59 64.34h0M652.78 77.21h0M653.7 72.12h0M654.86 66.99h0M657.95 65.78h0" stroke="#00B0F6" stroke-opacity="0.65" stroke-width="1.25" stroke-linecap="round" fill="none"/><path d="M673.87 65.91h0M671.38 53.95h0M674.6 71.91h0M675.38 66.16h0M673.35 75.25h0M672.41 66.19h0M671.59 75.17h0M674.38 77.21h0M671.36 53.16h0M672.74 63.95h0M671.35 69.08h0M671.91 75.27h0M675.11 66.12h0M675.65 86.08h0M671.06 82.9h0M673.04 74.39h0M676.11 72.22h0M675.41 64.83h0M675.9 54.26h0M676.03 58.85h0M672.12 72.43h0M673.03 53.59h0M671.44 75.08h0M671.31 74.05h0M672.3 72.56h0M676.18 68.02h0M672.74 71.46h0M673.24 68.2h0M676.11 52.53h0M672.59 71.19h0M672.36 72.62h0M674.67 85.44h0M671.71 72.79h0M675.93 70.51h0" stroke="#E76BF3" stroke-opacity="0.65" stroke-width="1.25" stroke-linecap="round" fill="none"/><path d="M655.27 10.3V9.4H673.54V10.3M637 14.4V13.5H673.54V14.4M637 18.4V17.5H655.27V18.4M618.73 22.4V21.5H673.54V22.4M618.73 26.3V25.4H655.27V26.3M618.73 30.2V29.3H637V30.2M600.46 33.9V33H673.54V33.9M600.46 37.7V36.8H655.27V37.7M600.46 41.4V40.5H637V41.4" stroke="#777" stroke-width="0.6" fill="none"/><g font-size="4.2" fill="#777" stroke="none" style="stroke:none" text-anchor="middle"><text x="664.4" y="9.3">*</text><text x="655.27" y="13.4">****</text><text x="646.13" y="17.4">****</text><text x="646.13" y="21.4">****</text><text x="637" y="25.3">****</text><text x="627.87" y="29.2">**</text><text x="637" y="32.9">****</text><text x="627.87" y="36.7">****</text><text x="618.73" y="40.4">***</text></g><rect x="589.5" y="4.5" width="95" height="118.55" fill="none" stroke="#a8a8a8" stroke-width="0.85"/><path d="M600.46 123.05v1.3M618.73 123.05v1.3M637 123.05v1.3M655.27 123.05v1.3M673.54 123.05v1.3M589.5 96.25h-1.3M589.5 66.5h-1.3M589.5 37h-1.3M589.5 7.5h-1.3" stroke="#333" stroke-width="0.5"/><g font-size="7.3" fill="#1a1a1a" text-anchor="end"><text x="585.8" y="98.75">100</text><text x="585.8" y="69">140</text><text x="585.8" y="39.5">180</text><text x="585.8" y="10">220</text></g><g font-size="7.2" fill="#1a1a1a" text-anchor="end"><text transform="translate(600.06 125.95) rotate(-45)" x="0" y="5.18">Admission</text><text transform="translate(618.33 125.95) rotate(-45)" x="0" y="5.18">Discharge</text><text transform="translate(636.6 125.95) rotate(-45)" x="0" y="5.18">First follow-up</text><text transform="translate(654.87 125.95) rotate(-45)" x="0" y="5.18">Second follow-up</text><text transform="translate(673.14 125.95) rotate(-45)" x="0" y="5.18">Third follow-up</text></g><text transform="translate(565.15 63.5) rotate(-90)" x="0" y="0" font-size="7.2" fill="#1a1a1a" text-anchor="middle">Hemoglobin (115-140 g/L)</text></g>
<g><path d="M37 305H132.5M37 272.5H132.5M37 240H132.5M37 207H132.5M37 190.5H132.5M37 223.5H132.5M37 256.5H132.5M37 289.5H132.5M48.02 188.45V307.5M66.38 188.45V307.5M84.75 188.45V307.5M103.12 188.45V307.5M121.48 188.45V307.5" stroke="#ededed" stroke-width="0.6" fill="none"/><path d="M48.02 286.29L66.38 253.19L84.75 245.18L103.12 281.58L121.48 285.23M48.02 290.45L66.38 283.45L84.75 268.05L103.12 285.42L121.48 287.8M48.02 294.39L66.38 282.91L84.75 280.51L103.12 280.84L121.48 284.8M48.02 293.66L66.38 286.29L84.75 284.92L103.12 286.66L121.48 292.72M48.02 299.32L66.38 268.26L84.75 290.27L103.12 288.92L121.48 283.03M48.02 286.84L66.38 259.68L84.75 284.62L103.12 277.85L121.48 283.57M48.02 274.25L66.38 270.46L84.75 261.72L103.12 267.09L121.48 283.34M48.02 294.45L66.38 267.99L84.75 266.49L103.12 280.81L121.48 279.31M48.02 297.72L66.38 240.2L84.75 277.13L103.12 279.97L121.48 282.07M48.02 285.4L66.38 233L84.75 277.81L103.12 280.74L121.48 285.37M48.02 299.19L66.38 270.68L84.75 285.18L103.12 289.31L121.48 290.96M48.02 283.38L66.38 245.22L84.75 256.58L103.12 275.75L121.48 278.07M48.02 286.09L66.38 293.27L84.75 277.92L103.12 289.24L121.48 287.91M48.02 296.78L66.38 272.97L84.75 278.17L103.12 282.78L121.48 277.47M48.02 294.66L66.38 286.59L84.75 274.87L103.12 285.51L121.48 283.63M48.02 262.19L66.38 272.47L84.75 276.52L103.12 292.7L121.48 281.3M48.02 283.22L66.38 263.57L84.75 285.46L103.12 284.52L121.48 283.24M48.02 297.67L66.38 285.61L84.75 291.85L103.12 278.42L121.48 289.91M48.02 295.31L66.38 286.15L84.75 284.88L103.12 278.8L121.48 285.36M48.02 290.72L66.38 284.68L84.75 283.88L103.12 286.55L121.48 285.56M48.02 296.48L66.38 293.99L84.75 246.43L103.12 286.84L121.48 287.55M48.02 297.27L66.38 278.64L84.75 276.25L103.12 281.17L121.48 270.08M48.02 285.75L66.38 248.76L84.75 262.97L103.12 274.93L121.48 282.93M48.02 281.79L66.38 283.89L84.75 260.24L103.12 268.93L121.48 281.45M48.02 301.24L66.38 276.07L84.75 261.25L103.12 276.89L121.48 287.01M48.02 275.06L66.38 269.19L84.75 280.84L103.12 285.41L121.48 282.04M48.02 287.25L66.38 265.24L84.75 260.99L103.12 285.29L121.48 283.08M48.02 275.62L66.38 266.74L84.75 274.94L103.12 278.92L121.48 284.34M48.02 297.54L66.38 277.33L84.75 286.48L103.12 283.21L121.48 287.17M48.02 290.11L66.38 277.17L84.75 273.71L103.12 286.75L121.48 272.84M48.02 293.85L66.38 281.13L84.75 257.7L103.12 265.45L121.48 291.14M48.02 278.82L66.38 268.47L84.75 266.47L103.12 278.67L121.48 281.47M48.02 288.72L66.38 271.74L84.75 286.76L103.12 283L121.48 283.58M48.02 295.58L66.38 282.51L84.75 284.82L103.12 279.49L121.48 292.55M48.02 292L66.38 295.44L84.75 268.11L103.12 278.3M48.02 295.56L66.38 275L84.75 262.31L103.12 278.34M48.02 296.55L66.38 288.02L84.75 275.38L103.12 291.1M48.02 297.75L66.38 268.49L84.75 278.72L103.12 282.32M48.02 290.45L66.38 260.85L84.75 256.61L103.12 280.57M48.02 296.59L66.38 268.3L84.75 292.09L103.12 280.84M48.02 299.52L66.38 271.73L84.75 287.03L103.12 278.29M48.02 295.67L66.38 248.9L84.75 271.47L103.12 266.75M48.02 294.6L66.38 269.49L84.75 267.07L103.12 282M48.02 284.95L66.38 268.8L84.75 277.3L103.12 279.25M48.02 299.58L66.38 274.11L84.75 289.28L103.12 290.39M48.02 297.5L66.38 282.54L84.75 279.88L103.12 287.14M48.02 286.1L66.38 285.89L84.75 238.14L103.12 273.64M48.02 292.49L66.38 286.16L84.75 268L103.12 288.29M48.02 296.53L66.38 275.26L84.75 275.99L103.12 273.77M48.02 293.47L66.38 285.14L84.75 280.06L103.12 285.51M48.02 286.62L66.38 271.32L84.75 281.57M48.02 289.88L66.38 286.6L84.75 289.47M48.02 268.69L66.38 258.42L84.75 242.98M48.02 297.1L66.38 282.7L84.75 286.42M48.02 289.68L66.38 261.83L84.75 269.75M48.02 294.59L66.38 287.85L84.75 281.92M48.02 289.32L66.38 282.04L84.75 293.36M48.02 298.92L66.38 274.63L84.75 281.7M48.02 284.78L66.38 274.09L84.75 287.55M48.02 295.74L66.38 259.33L84.75 267.89M48.02 288.05L66.38 264.99L84.75 266.38M48.02 284.69L66.38 258.82L84.75 286.76M48.02 288.24L66.38 264.26L84.75 260.2M48.02 293.64L66.38 267.24L84.75 273.91M48.02 293.46L66.38 289.78L84.75 284.66M48.02 293.3L66.38 286.91L84.75 229.5M48.02 292.8L66.38 283.64L84.75 278.65M48.02 300.34L66.38 270.18L84.75 284.7M48.02 289.13L66.38 275.99L84.75 281.52M48.02 296.48L66.38 268.38L84.75 284.08M48.02 297.72L66.38 285.61L84.75 282.18M48.02 294.06L66.38 273.91L84.75 263.09M48.02 283.55L66.38 262.52L84.75 264.63M48.02 291.84L66.38 286.27L84.75 287.88M48.02 291.15L66.38 286L84.75 278.09M48.02 289.88L66.38 290.12L84.75 280.86M48.02 280.86L66.38 275.18L84.75 272.84M48.02 296.53L66.38 289.28L84.75 280.58M48.02 287.87L66.38 245.12L84.75 270.01M48.02 295.22L66.38 258.5L84.75 272.52M48.02 292.39L66.38 287.46M48.02 297.75L66.38 267.79M48.02 297.67L66.38 285.2M48.02 293.81L66.38 275.83M48.02 297.09L66.38 291.16M48.02 297.62L66.38 255.54M48.02 297.52L66.38 275.48M48.02 297.75L66.38 256.91M48.02 293.44L66.38 285.08M48.02 294.14L66.38 268.15M48.02 294.01L66.38 284.34M48.02 290.35L66.38 264.18M48.02 289.45L66.38 274.95M48.02 297.32L66.38 288.34M48.02 300.83L66.38 286.67M48.02 287.18L66.38 244.79M48.02 300.68L66.38 290.4M48.02 293.77L66.38 276.74M48.02 286.03L66.38 266.62M48.02 299.27L66.38 291.45M48.02 296.14L66.38 285.6M48.02 295.45L66.38 276.95M48.02 292.2L66.38 283.69M48.02 271.18L66.38 261.91M48.02 273.88L66.38 245.53M48.02 274.33L66.38 267.77M48.02 295.88L66.38 291.22M48.02 294.47L66.38 277.36M48.02 297.78L66.38 280.79M48.02 291.27L66.38 282.06" stroke="#444" stroke-opacity="0.16" stroke-width="0.45" fill="none"/><path d="M48.02 270.7V286.1M48.02 297.5V301.3" stroke="#555" stroke-width="0.6"/><rect x="41.13" y="286.1" width="13.77" height="11.4" fill="#F8766D" fill-opacity="0.35" stroke="#333" stroke-opacity="0.75" stroke-width="0.5"/><path d="M41.13 293.2H54.91" stroke="#333" stroke-width="0.8"/><path d="M66.38 249.3V268.5M66.38 285.6V295.6" stroke="#555" stroke-width="0.6"/><rect x="59.5" y="268.5" width="13.77" height="17.1" fill="#A3A500" fill-opacity="0.35" stroke="#333" stroke-opacity="0.75" stroke-width="0.5"/><path d="M59.5 278.5H73.27" stroke="#333" stroke-width="0.8"/><path d="M84.75 244.3V267.4M84.75 284.6V293.5" stroke="#555" stroke-width="0.6"/><rect x="77.86" y="267.4" width="13.77" height="17.2" fill="#00BF7D" fill-opacity="0.35" stroke="#333" stroke-opacity="0.75" stroke-width="0.5"/><path d="M77.86 277.5H91.64" stroke="#333" stroke-width="0.8"/><path d="M103.12 265.4V278.1M103.12 286.8V292.8" stroke="#555" stroke-width="0.6"/><rect x="96.23" y="278.1" width="13.77" height="8.7" fill="#00B0F6" fill-opacity="0.35" stroke="#333" stroke-opacity="0.75" stroke-width="0.5"/><path d="M96.23 282.4H110" stroke="#333" stroke-width="0.8"/><path d="M121.48 273.5V281.6M121.48 287.8V292.8" stroke="#555" stroke-width="0.6"/><rect x="114.59" y="281.6" width="13.77" height="6.2" fill="#E76BF3" fill-opacity="0.35" stroke="#333" stroke-opacity="0.75" stroke-width="0.5"/><path d="M114.59 284.9H128.37" stroke="#333" stroke-width="0.8"/><path d="M48.36 286.29h0M45.77 290.45h0M45.97 294.39h0M46.58 293.66h0M46.3 299.32h0M48.47 286.84h0M50.68 274.25h0M47.17 294.45h0M49.16 297.72h0M46.58 285.4h0M47.52 299.19h0M49.9 283.38h0M46.36 286.09h0M45.72 296.78h0M46.29 294.66h0M49.29 262.19h0M47.59 283.22h0M48.97 297.67h0M49.46 295.31h0M49.24 290.72h0M45.42 296.48h0M45.62 297.27h0M46.34 285.75h0M45.83 281.79h0M46.36 301.24h0M46.51 275.06h0M46.54 287.25h0M45.8 275.62h0M47.28 297.54h0M47.04 290.11h0M48.76 293.85h0M49.48 278.82h0M45.7 288.72h0M50.57 295.58h0M49.19 292h0M46.66 295.56h0M46.33 296.55h0M50.18 297.75h0M45.91 290.45h0M50.28 296.59h0M46.04 299.52h0M46.07 295.67h0M49.55 294.6h0M45.46 284.95h0M50.47 299.58h0M50.04 297.5h0M46.44 286.1h0M48.51 292.49h0M49.34 296.53h0M50.34 293.47h0M50.49 286.62h0M49.42 289.88h0M50.17 268.69h0M48.73 297.1h0M48.09 289.68h0M46.6 294.59h0M48.48 289.32h0M50.31 298.92h0M48.98 284.78h0M46.64 295.74h0M46.5 288.05h0M47.69 284.69h0M46.1 288.24h0M47.62 293.64h0M45.35 293.46h0M47.66 293.3h0M47.29 292.8h0M48.29 300.34h0M47.06 289.13h0M50.34 296.48h0M46.73 297.72h0M47.11 294.06h0M49.67 283.55h0M50.24 291.84h0M46.36 291.15h0M48.54 289.88h0M48.72 280.86h0M47.27 296.53h0M50.69 287.87h0M45.64 295.22h0M47.76 292.39h0M47.46 297.75h0M46.26 297.67h0M49.65 293.81h0M48.93 297.09h0M50.5 297.62h0M46.77 297.52h0M49.75 297.75h0M48.62 293.44h0M46.8 294.14h0M49.43 294.01h0M47.63 290.35h0M45.93 289.45h0M46.7 297.32h0M46.48 300.83h0M50.29 287.18h0M49.42 300.68h0M50.45 293.77h0M45.61 286.03h0M46.03 299.27h0M47.9 296.14h0M45.51 295.45h0M50.36 292.2h0M45.97 271.18h0M47.88 273.88h0M46.51 274.33h0M48.2 295.88h0M50.25 294.47h0M49.76 297.78h0M49.01 291.27h0M47.98 290h0M48.31 287.54h0M46.19 285.98h0M50.5 295.97h0M48.46 293.54h0" stroke="#F8766D" stroke-opacity="0.65" stroke-width="1.25" stroke-linecap="round" fill="none"/><path d="M68.38 253.19h0M65.12 283.45h0M69 282.91h0M66.38 286.29h0M64.91 268.26h0M68.76 259.68h0M67.04 270.46h0M67.3 267.99h0M64.43 240.2h0M64.59 233h0M63.96 270.68h0M68.04 245.22h0M64.1 293.27h0M67.69 272.97h0M68.86 286.59h0M65.63 272.47h0M64.1 263.57h0M64.55 285.61h0M65.31 286.15h0M65.16 284.68h0M64.3 293.99h0M64.14 278.64h0M68.7 248.76h0M66.85 283.89h0M66.83 276.07h0M65.25 269.19h0M67.85 265.24h0M63.95 266.74h0M67.55 277.33h0M66.26 277.17h0M65.19 281.13h0M66.05 268.47h0M64.57 271.74h0M64.32 282.51h0M67.65 295.44h0M69.03 275h0M65.94 288.02h0M68.27 268.49h0M64.91 260.85h0M67.62 268.3h0M66.6 271.73h0M67.34 248.9h0M67.91 269.49h0M64.07 268.8h0M65.36 274.11h0M66.86 282.54h0M65.64 285.89h0M66 286.16h0M68.01 275.26h0M65.46 285.14h0M69.08 271.32h0M68.37 286.6h0M68.55 258.42h0M68.02 282.7h0M66.21 261.83h0M65.06 287.85h0M67.58 282.04h0M63.97 274.63h0M64.45 274.09h0M64.76 259.33h0M64.14 264.99h0M68.94 258.82h0M64.6 264.26h0M65.59 267.24h0M68.27 289.78h0M65.3 286.91h0M68.28 283.64h0M65.86 270.18h0M66.27 275.99h0M67.14 268.38h0M65.69 285.61h0M68.12 273.91h0M64.48 262.52h0M68.8 286.27h0M67.72 286h0M68.96 290.12h0M64.29 275.18h0M68.97 289.28h0M67.5 245.12h0M66.55 258.5h0M68.44 287.46h0M68.62 267.79h0M65.75 285.2h0M63.71 275.83h0M66.76 291.16h0M67.01 255.54h0M68.57 275.48h0M65.4 256.91h0M64.54 285.08h0M68.71 268.15h0M66.78 284.34h0M67.88 264.18h0M68.39 274.95h0M64.21 288.34h0M67.22 286.67h0M65.99 244.79h0M66.15 290.4h0M67.73 276.74h0M69.02 266.62h0M65.03 291.45h0M64.15 285.6h0M67.57 276.95h0M64.69 283.69h0M65.5 261.91h0M67.93 245.53h0M68.93 267.77h0M68.3 291.22h0M67.71 277.36h0M68.88 280.79h0M64.59 282.06h0" stroke="#A3A500" stroke-opacity="0.65" stroke-width="1.25" stroke-linecap="round" fill="none"/><path d="M82.64 245.18h0M86 268.05h0M82.11 280.51h0M82.83 284.92h0M82.49 290.27h0M82.12 284.62h0M83.14 261.72h0M82.93 266.49h0M87.24 277.13h0M84.26 277.81h0M82.14 285.18h0M82.68 256.58h0M83.03 277.92h0M85.68 278.17h0M84.38 274.87h0M82.74 276.52h0M85.17 285.46h0M86.19 291.85h0M85.3 284.88h0M82.99 283.88h0M82.85 246.43h0M85.42 276.25h0M82.88 262.97h0M86.39 260.24h0M83.35 261.25h0M85.37 280.84h0M87.23 260.99h0M87.08 274.94h0M82.62 286.48h0M84.06 273.71h0M86.96 257.7h0M82.56 266.47h0M82.96 286.76h0M86.87 284.82h0M87.22 268.11h0M82.85 262.31h0M85.15 275.38h0M86.47 278.72h0M85.48 256.61h0M86.13 292.09h0M83.91 287.03h0M85.57 271.47h0M83.89 267.07h0M82.42 277.3h0M84.59 289.28h0M86.53 279.88h0M85.81 238.14h0M82.55 268h0M87.41 275.99h0M86 280.06h0M83.04 281.57h0M83.17 289.47h0M87.09 242.98h0M83.45 286.42h0M83.89 269.75h0M85.31 281.92h0M85.89 293.36h0M82.52 281.7h0M87.44 287.55h0M85.39 267.89h0M84.77 266.38h0M84.6 286.76h0M87.27 260.2h0M82.87 273.91h0M85.45 284.66h0M86.02 229.5h0M85.71 278.65h0M86.9 284.7h0M86.88 281.52h0M84.14 284.08h0M86.98 282.18h0M82.17 263.09h0M83.47 264.63h0M82.53 287.88h0M82.55 278.09h0M82.72 280.86h0M85.34 272.84h0M83.42 280.58h0M82.87 270.01h0M84.42 272.52h0" stroke="#00BF7D" stroke-opacity="0.65" stroke-width="1.25" stroke-linecap="round" fill="none"/><path d="M105.51 281.58h0M100.82 285.42h0M103.94 280.84h0M104.76 286.66h0M101.59 288.92h0M105.54 277.85h0M105.81 267.09h0M104.89 280.81h0M101.22 279.97h0M105.21 280.74h0M101.98 289.31h0M101.73 275.75h0M104.15 289.24h0M104.73 282.78h0M105.59 285.51h0M101.62 292.7h0M102.34 284.52h0M104.93 278.42h0M105 278.8h0M104.17 286.55h0M102.23 286.84h0M104.18 281.17h0M104.16 274.93h0M104.69 268.93h0M101.81 276.89h0M105.29 285.41h0M104.7 285.29h0M105.15 278.92h0M100.79 283.21h0M102.83 286.75h0M101.11 265.45h0M105.62 278.67h0M101.35 283h0M105.3 279.49h0M100.99 278.3h0M101.35 278.34h0M100.47 291.1h0M102.44 282.32h0M105.21 280.57h0M103.96 280.84h0M104.97 278.29h0M103.37 266.75h0M101.76 282h0M102.91 279.25h0M105.27 290.39h0M102.66 287.14h0M101.09 273.64h0M104.68 288.29h0M102.76 273.77h0M103.12 285.51h0" stroke="#00B0F6" stroke-opacity="0.65" stroke-width="1.25" stroke-linecap="round" fill="none"/><path d="M119.7 285.23h0M119.89 287.8h0M121.32 284.8h0M123.41 292.72h0M119.54 283.03h0M121.54 283.57h0M123.97 283.34h0M120.17 279.31h0M121.92 282.07h0M123.95 285.37h0M123.48 290.96h0M123.11 278.07h0M120.76 287.91h0M122.44 277.47h0M123.97 283.63h0M118.97 281.3h0M119.73 283.24h0M122.59 289.91h0M119.85 285.36h0M120.21 285.56h0M121.03 287.55h0M122.72 270.08h0M120.02 282.93h0M122.36 281.45h0M122.69 287.01h0M122.36 282.04h0M122.68 283.08h0M119.43 284.34h0M120.14 287.17h0M122.12 272.84h0M120.4 291.14h0M122.93 281.47h0M120.61 283.58h0M122.04 292.55h0" stroke="#E76BF3" stroke-opacity="0.65" stroke-width="1.25" stroke-linecap="round" fill="none"/><path d="M48.02 222.15V221.25H66.38V222.15M48.02 218.4V217.5H84.75V218.4M48.02 214.65V213.75H103.12V214.65M48.02 210.4V209.5H121.48V210.4M66.38 206.4V205.5H103.12V206.4M66.38 202.4V201.5H121.48V202.4M84.75 198.4V197.5H103.12V198.4M84.75 194.15V193.25H121.48V194.15" stroke="#777" stroke-width="0.6" fill="none"/><g font-size="4.2" fill="#777" stroke="none" style="stroke:none" text-anchor="middle"><text x="57.2" y="221.15">***</text><text x="66.38" y="217.4">****</text><text x="75.57" y="213.65">****</text><text x="84.75" y="209.4">****</text><text x="84.75" y="205.4">****</text><text x="93.93" y="201.4">****</text><text x="93.93" y="197.4">****</text><text x="103.12" y="193.15">****</text></g><rect x="37" y="188.45" width="95.5" height="119.05" fill="none" stroke="#a8a8a8" stroke-width="0.85"/><path d="M48.02 307.5v1.3M66.38 307.5v1.3M84.75 307.5v1.3M103.12 307.5v1.3M121.48 307.5v1.3M37 305h-1.3M37 272.5h-1.3M37 240h-1.3M37 207h-1.3" stroke="#333" stroke-width="0.5"/><g font-size="7.3" fill="#1a1a1a" text-anchor="end"><text x="31.3" y="307.5">0</text><text x="31.3" y="275">500</text><text x="31.3" y="242.5">1,000</text><text x="31.3" y="209.5">1,500</text></g><g font-size="7.2" fill="#1a1a1a" text-anchor="end"><text transform="translate(46.62 309.6) rotate(-45)" x="0" y="5.18">Admission</text><text transform="translate(64.98 309.6) rotate(-45)" x="0" y="5.18">Discharge</text><text transform="translate(83.35 309.6) rotate(-45)" x="0" y="5.18">First follow-up</text><text transform="translate(101.72 309.6) rotate(-45)" x="0" y="5.18">Second follow-up</text><text transform="translate(120.08 309.6) rotate(-45)" x="0" y="5.18">Third follow-up</text></g><text transform="translate(5.65 247.5) rotate(-90)" x="0" y="0" font-size="7.2" fill="#1a1a1a" text-anchor="middle">PLT (×10<tspan font-size="4.6" dy="-3">9</tspan><tspan dy="3">/L)</tspan></text></g>
<g><path d="M169.25 301.25H265M169.25 260.5H265M169.25 220H265M169.25 199.75H265M169.25 240.25H265M169.25 280.75H265M180.3 188.45V307.5M198.71 188.45V307.5M217.12 188.45V307.5M235.54 188.45V307.5M253.95 188.45V307.5" stroke="#ededed" stroke-width="0.6" fill="none"/><path d="M169.25 300.2H265" stroke="#999" stroke-width="0.6" stroke-dasharray="1.2 1.2"/><path d="M180.3 256.62L198.71 298.43L217.12 300.17L235.54 301.06L253.95 301.1M180.3 282.74L198.71 300.33L217.12 300.76L235.54 301.2L253.95 300.96M180.3 272.21L198.71 298.94L217.12 300.97L235.54 301.15L253.95 300.99M180.3 289.89L198.71 297.91L217.12 300.3L235.54 301L253.95 301M180.3 254.61L198.71 297.14L217.12 300.82L235.54 300.63L253.95 300.91M180.3 244.46L198.71 298.37L217.12 300.78L235.54 301.1L253.95 301.12M180.3 276.67L198.71 300.55L217.12 301.12L235.54 301.19L253.95 301.15M180.3 247.73L198.71 297.02L217.12 300.95L235.54 300.88L253.95 300.96M180.3 277.14L198.71 298.66L217.12 300.57L235.54 301.08L253.95 301.08M180.3 252.57L198.71 296.04L217.12 301.06L235.54 300.88L253.95 300.9M180.3 246.54L198.71 298.01L217.12 301.11L235.54 301L253.95 301.01M180.3 256.5L198.71 299.23L217.12 299.69L235.54 300.58L253.95 300.94M180.3 273.22L198.71 298.82L217.12 300.97L235.54 301.03L253.95 301.05M180.3 259.03L198.71 299.39L217.12 300.3L235.54 300.9L253.95 301.2M180.3 260.91L198.71 295.45L217.12 299.52L235.54 300.62L253.95 300.63M180.3 249.66L198.71 295.97L217.12 300.67L235.54 300.2L253.95 300.85M180.3 260.15L198.71 299.61L217.12 299.6L235.54 300.76L253.95 300.92M180.3 262.01L198.71 299.68L217.12 300.65L235.54 301.05L253.95 300.92M180.3 251.25L198.71 300.01L217.12 300.73L235.54 301.05L253.95 300.97M180.3 227.43L198.71 300.67L217.12 300.5L235.54 301.14L253.95 301.12M180.3 283.41L198.71 299.8L217.12 301.16L235.54 301.1L253.95 300.01M180.3 266.89L198.71 296.45L217.12 300.33L235.54 300.31L253.95 300.96M180.3 281.36L198.71 299.17L217.12 298.03L235.54 301.14L253.95 300.98M180.3 254L198.71 296.29L217.12 300.24L235.54 300.67L253.95 300.95M180.3 282.3L198.71 299.95L217.12 300.72L235.54 301.12L253.95 301.1M180.3 254.02L198.71 298.49L217.12 301.01L235.54 301.01L253.95 300.91M180.3 288.19L198.71 299.84L217.12 300.99L235.54 301.07L253.95 301.07M180.3 262.35L198.71 300.12L217.12 301L235.54 301.04L253.95 301.14M180.3 238.82L198.71 298.02L217.12 300.83L235.54 300.61L253.95 300.96M180.3 281.42L198.71 300.28L217.12 300.32L235.54 301.16L253.95 301.11M180.3 281.35L198.71 298.05L217.12 300.65L235.54 300.98L253.95 301.14M180.3 227.92L198.71 297.19L217.12 300.37L235.54 300.79L253.95 300.74M180.3 293.29L198.71 299.38L217.12 300.88L235.54 300.85L253.95 301.13M180.3 259.33L198.71 298.79L217.12 300.63L235.54 301.03L253.95 300.98M180.3 277.51L198.71 298.15L217.12 300.82L235.54 301.1M180.3 281.92L198.71 299.77L217.12 301.06L235.54 301.14M180.3 250.79L198.71 297.12L217.12 299.66L235.54 300.59M180.3 252.91L198.71 300.89L217.12 300.54L235.54 301.01M180.3 260.15L198.71 297.13L217.12 300.9L235.54 300.68M180.3 252.91L198.71 298.93L217.12 300.93L235.54 300.81M180.3 259.61L198.71 299.18L217.12 301.2L235.54 300.96M180.3 276.64L198.71 299.96L217.12 300.98L235.54 301.14M180.3 215.89L198.71 299.76L217.12 301.09L235.54 301.1M180.3 245.81L198.71 293.84L217.12 299.49L235.54 299.83M180.3 262.88L198.71 299.86L217.12 299.92L235.54 301.01M180.3 284.28L198.71 298.81L217.12 300.05L235.54 301.07M180.3 264.99L198.71 299.05L217.12 300.73L235.54 300.52M180.3 251.2L198.71 298.32L217.12 298.57L235.54 300.79M180.3 280.2L198.71 299.02L217.12 300.67L235.54 301.07M180.3 293.55L198.71 298.19L217.12 301L235.54 299.52M180.3 247.5L198.71 298.83L217.12 299.76M180.3 251.29L198.71 299.44L217.12 300.65M180.3 287.25L198.71 300.2L217.12 301.18M180.3 268.59L198.71 300L217.12 300.8M180.3 257.8L198.71 295.54L217.12 298.72M180.3 255.06L198.71 300.02L217.12 300.24M180.3 227.8L198.71 299.15L217.12 300.76M180.3 253.73L198.71 297.99L217.12 300.3M180.3 262.18L198.71 281L217.12 300.3M180.3 265.28L198.71 297.34L217.12 300.03M180.3 266.66L198.71 300.23L217.12 300.74M180.3 276.24L198.71 298.47L217.12 301.01M180.3 267.19L198.71 299.55L217.12 300.06M180.3 237.73L198.71 297.58L217.12 299.74M180.3 260.5L198.71 296.95L217.12 300.48M180.3 258.03L198.71 299.48L217.12 300.63M180.3 283.91L198.71 300.83L217.12 301.2M180.3 241.23L198.71 298.83L217.12 300.37M180.3 282.85L198.71 299.97L217.12 301.15M180.3 285.28L198.71 300.14L217.12 300.78M180.3 255.35L198.71 300.98L217.12 300.29M180.3 282.99L198.71 298.36L217.12 301.08M180.3 264.98L198.71 300L217.12 301.03M180.3 263.53L198.71 290.11L217.12 300.43M180.3 240.9L198.71 298.42L217.12 300.98M180.3 275.12L198.71 298.5L217.12 300.82M180.3 238.86L198.71 294.63L217.12 300.22M180.3 283.22L198.71 300.63L217.12 301.19M180.3 281.25L198.71 297.75L217.12 300.84M180.3 257.37L198.71 299.63L217.12 300.3M180.3 268.08L198.71 297.32M180.3 261.13L198.71 298.58M180.3 255.5L198.71 298.32M180.3 257.22L198.71 298.46M180.3 243.4L198.71 298.8M180.3 265.96L198.71 295.86M180.3 269.36L198.71 298.76M180.3 285.05L198.71 299.72M180.3 258.53L198.71 297.39M180.3 249.59L198.71 298.83M180.3 267.79L198.71 299.34M180.3 263.64L198.71 300.03M180.3 215.79L198.71 295.07M180.3 281.21L198.71 300.24M180.3 259.36L198.71 299.53M180.3 280.83L198.71 299.64M180.3 257.28L198.71 298.7M180.3 253.11L198.71 299.23M180.3 262.45L198.71 299.96M180.3 284.14L198.71 297.5M180.3 259.31L198.71 299.91M180.3 284.69L198.71 298M180.3 283.45L198.71 300.84M180.3 282.14L198.71 298.69M180.3 281.65L198.71 299.87M180.3 230.51L198.71 297.5M180.3 281.26L198.71 298.96M180.3 273.54L198.71 299.29M180.3 264.56L198.71 299.96M180.3 230.86L198.71 298.44" stroke="#444" stroke-opacity="0.16" stroke-width="0.45" fill="none"/><path d="M180.3 215.75V251.25M180.3 281.25V293.75" stroke="#555" stroke-width="0.6"/><rect x="173.39" y="251.25" width="13.81" height="30" fill="#F8766D" fill-opacity="0.35" stroke="#333" stroke-opacity="0.75" stroke-width="0.5"/><path d="M173.39 264H187.2" stroke="#333" stroke-width="0.8"/><path d="M198.71 295V298M198.71 300V301" stroke="#555" stroke-width="0.6"/><rect x="191.81" y="298" width="13.81" height="2" fill="#A3A500" fill-opacity="0.35" stroke="#333" stroke-opacity="0.75" stroke-width="0.5"/><path d="M191.81 299H205.62" stroke="#333" stroke-width="0.8"/><path d="M217.12 299.5V300.3M217.12 301V301.2" stroke="#555" stroke-width="0.6"/><rect x="210.22" y="300.3" width="13.81" height="0.7" fill="#00BF7D" fill-opacity="0.35" stroke="#333" stroke-opacity="0.75" stroke-width="0.5"/><path d="M210.22 300.7H224.03" stroke="#333" stroke-width="0.8"/><path d="M235.54 300.5V300.8M235.54 301.1V301.2" stroke="#555" stroke-width="0.6"/><rect x="228.63" y="300.8" width="13.81" height="0.3" fill="#00B0F6" fill-opacity="0.35" stroke="#333" stroke-opacity="0.75" stroke-width="0.5"/><path d="M228.63 301H242.44" stroke="#333" stroke-width="0.8"/><path d="M253.95 300.6V300.9M253.95 301.1V301.2" stroke="#555" stroke-width="0.6"/><rect x="247.05" y="300.9" width="13.81" height="0.3" fill="#E76BF3" fill-opacity="0.35" stroke="#333" stroke-opacity="0.75" stroke-width="0.5"/><path d="M247.05 301H260.86" stroke="#333" stroke-width="0.8"/><path d="M181 256.62h0M180.86 282.74h0M182.12 272.21h0M179.29 289.89h0M178.15 254.61h0M182.9 244.46h0M181.13 276.67h0M181.92 247.73h0M181.68 277.14h0M182.11 252.57h0M179.89 246.54h0M178.49 256.5h0M181.61 273.22h0M179.75 259.03h0M179.92 260.91h0M180.27 249.66h0M180.72 260.15h0M181.35 262.01h0M178.44 251.25h0M179.32 227.43h0M180.21 283.41h0M178.6 266.89h0M179.17 281.36h0M181.67 254h0M179.55 282.3h0M181.58 254.02h0M179.29 288.19h0M178.64 262.35h0M179.65 238.82h0M179.18 281.42h0M180.85 281.35h0M182.22 227.92h0M177.89 293.29h0M181.66 259.33h0M180.34 277.51h0M179.61 281.92h0M182.76 250.79h0M179.43 252.91h0M178.85 260.15h0M182.79 252.91h0M181.08 259.61h0M180.21 276.64h0M179.99 215.89h0M181.12 245.81h0M182.07 262.88h0M182.26 284.28h0M178.46 264.99h0M181.9 251.2h0M182.25 280.2h0M179.12 293.55h0M180.35 247.5h0M178.73 251.29h0M182.56 287.25h0M181.99 268.59h0M178.77 257.8h0M180.85 255.06h0M181.26 227.8h0M179.82 253.73h0M178.59 262.18h0M182.12 265.28h0M180.5 266.66h0M181.1 276.24h0M180.57 267.19h0M178.05 237.73h0M179.6 260.5h0M178.18 258.03h0M179.82 283.91h0M179.98 241.23h0M182.41 282.85h0M180.61 285.28h0M180.98 255.35h0M181.53 282.99h0M179.35 264.98h0M179.25 263.53h0M177.73 240.9h0M178.26 275.12h0M182.83 238.86h0M178.19 283.22h0M179.09 281.25h0M180.63 257.37h0M181.43 268.08h0M179.23 261.13h0M177.68 255.5h0M178.09 257.22h0M178.96 243.4h0M181.61 265.96h0M178.14 269.36h0M181.49 285.05h0M180.76 258.53h0M178.06 249.59h0M180.32 267.79h0M182.42 263.64h0M178.99 215.79h0M182.98 281.21h0M178.55 259.36h0M180.1 280.83h0M181.11 257.28h0M182.78 253.11h0M181.11 262.45h0M178.61 284.14h0M182.13 259.31h0M182.67 284.69h0M179.29 283.45h0M182.16 282.14h0M179.42 281.65h0M178.81 230.51h0M179.73 281.26h0M177.67 273.54h0M178.96 264.56h0M180.74 230.86h0M182.94 251.43h0M182.18 260.9h0M181.97 249.18h0M181.99 268.32h0M179.03 272.92h0" stroke="#F8766D" stroke-opacity="0.65" stroke-width="1.25" stroke-linecap="round" fill="none"/><path d="M199.05 298.43h0M197.63 300.33h0M199.62 298.94h0M199.08 297.91h0M201.04 297.14h0M196.61 298.37h0M196.88 300.55h0M196.88 297.02h0M197.32 298.66h0M198.46 296.04h0M197.68 298.01h0M196.26 299.23h0M199.88 298.82h0M197.08 299.39h0M196.85 295.45h0M200.38 295.97h0M201.28 299.61h0M197.99 299.68h0M200.72 300.01h0M200.92 300.67h0M197.83 299.8h0M198.88 296.45h0M198.18 299.17h0M199.97 296.29h0M196.19 299.95h0M198.64 298.49h0M201.27 299.84h0M200.18 300.12h0M196.07 298.02h0M197.09 300.28h0M198.77 298.05h0M197.33 297.19h0M198.07 299.38h0M198.39 298.79h0M197.57 298.15h0M200.75 299.77h0M198.01 297.12h0M197.96 300.89h0M200.28 297.13h0M198.7 298.93h0M196.75 299.18h0M197.68 299.96h0M200.49 299.76h0M196.19 293.84h0M198.82 299.86h0M197.84 298.81h0M197.59 299.05h0M200.39 298.32h0M196.79 299.02h0M197.35 298.19h0M198.72 298.83h0M197.89 299.44h0M198.56 300.2h0M196.52 300h0M198.37 295.54h0M199.39 300.02h0M200.41 299.15h0M198.76 297.99h0M199.13 281h0M196.1 297.34h0M197.19 300.23h0M198.02 298.47h0M199.97 299.55h0M197.38 297.58h0M200.27 296.95h0M199.78 299.48h0M201.04 300.83h0M198.37 298.83h0M198.21 299.97h0M200.68 300.14h0M199.42 300.98h0M197.12 298.36h0M199.24 300h0M198.96 290.11h0M199.92 298.42h0M198.83 298.5h0M197.75 294.63h0M196.24 300.63h0M196.84 297.75h0M198.26 299.63h0M196.35 297.32h0M198.04 298.58h0M196.83 298.32h0M196.75 298.46h0M197.31 298.8h0M198.22 295.86h0M196.36 298.76h0M197.02 299.72h0M197.63 297.39h0M197.25 298.83h0M199.9 299.34h0M200.83 300.03h0M200.41 295.07h0M199.02 300.24h0M197.41 299.53h0M199.58 299.64h0M199.72 298.7h0M198.03 299.23h0M198.18 299.96h0M200.21 297.5h0M197.31 299.91h0M197.46 298h0M198 300.84h0M196.85 298.69h0M196.56 299.87h0M200.6 297.5h0M196.08 298.96h0M196.01 299.29h0M196.14 299.96h0M197.56 298.44h0" stroke="#A3A500" stroke-opacity="0.65" stroke-width="1.25" stroke-linecap="round" fill="none"/><path d="M216.38 300.17h0M219.68 300.76h0M219.78 300.97h0M219.3 300.3h0M217.21 300.82h0M215.22 300.78h0M216.36 301.12h0M217.45 300.95h0M214.92 300.57h0M217.69 301.06h0M215.74 301.11h0M217.92 299.69h0M218.04 300.97h0M219.79 300.3h0M219.77 299.52h0M218.82 300.67h0M218.75 299.6h0M219.71 300.65h0M216.48 300.73h0M217.6 300.5h0M217.6 301.16h0M218.22 300.33h0M217.03 298.03h0M218.66 300.24h0M218.04 300.72h0M217.06 301.01h0M215.94 300.99h0M219.3 301h0M216.22 300.83h0M215.69 300.32h0M216.11 300.65h0M214.63 300.37h0M218.63 300.88h0M216.92 300.63h0M219.73 300.82h0M216.36 301.06h0M217.3 299.66h0M216.6 300.54h0M216.45 300.9h0M216.98 300.93h0M217.18 301.2h0M218.09 300.98h0M216.39 301.09h0M219.47 299.49h0M216.8 299.92h0M214.57 300.05h0M219.31 300.73h0M218.38 298.57h0M218.67 300.67h0M218.18 301h0M218.45 299.76h0M216.62 300.65h0M215.49 301.18h0M217.03 300.8h0M215.8 298.72h0M216 300.24h0M219.57 300.76h0M219.1 300.3h0M217.33 300.3h0M214.63 300.03h0M218.35 300.74h0M217.9 301.01h0M219.13 300.06h0M215.78 299.74h0M215.63 300.48h0M215.55 300.63h0M214.82 301.2h0M217 300.37h0M216.92 301.15h0M219.18 300.78h0M215.13 300.29h0M217.98 301.08h0M218.04 301.03h0M218.37 300.43h0M216.56 300.98h0M216.49 300.82h0M216.55 300.22h0M215.52 301.19h0M219.49 300.84h0M219.37 300.3h0" stroke="#00BF7D" stroke-opacity="0.65" stroke-width="1.25" stroke-linecap="round" fill="none"/><path d="M237.97 301.06h0M233.19 301.2h0M236.5 301.15h0M236.02 301h0M234.59 300.63h0M234.81 301.1h0M237.7 301.19h0M235.07 300.88h0M235.42 301.08h0M233.82 300.88h0M233.67 301h0M233.68 300.58h0M235.18 301.03h0M234.65 300.9h0M237.81 300.62h0M235.4 300.2h0M233.45 300.76h0M235.2 301.05h0M236.46 301.05h0M238.07 301.14h0M234.04 301.1h0M237.06 300.31h0M236.79 301.14h0M236.37 300.67h0M238.06 301.12h0M236.68 301.01h0M237.82 301.07h0M235.21 301.04h0M236.51 300.61h0M236 301.16h0M235.09 300.98h0M237.14 300.79h0M237.39 300.85h0M233.99 301.03h0M233.75 301.1h0M235.88 301.14h0M234.61 300.59h0M236.43 301.01h0M236.8 300.68h0M236.32 300.81h0M234.53 300.96h0M237.05 301.14h0M235.26 301.1h0M234.28 299.83h0M237.32 301.01h0M233.23 301.07h0M237.54 300.52h0M237.83 300.79h0M235.3 301.07h0M234.01 299.52h0" stroke="#00B0F6" stroke-opacity="0.65" stroke-width="1.25" stroke-linecap="round" fill="none"/><path d="M255.91 301.1h0M252.36 300.96h0M251.52 300.99h0M252.35 301h0M255.02 300.91h0M256.62 301.12h0M252.11 301.15h0M251.57 300.96h0M255.38 301.08h0M253.04 300.9h0M256.17 301.01h0M253.99 300.94h0M256.13 301.05h0M252.45 301.2h0M253.89 300.63h0M251.94 300.85h0M254.4 300.92h0M255.17 300.92h0M253.16 300.97h0M254.31 301.12h0M253.97 300.01h0M256.25 300.96h0M253.18 300.98h0M255 300.95h0M253.07 301.1h0M255.94 300.91h0M255.85 301.07h0M252.63 301.14h0M251.36 300.96h0M251.45 301.11h0M251.88 301.14h0M255.44 300.74h0M255.57 301.13h0M251.74 300.98h0" stroke="#E76BF3" stroke-opacity="0.65" stroke-width="1.25" stroke-linecap="round" fill="none"/><path d="M180.3 208.4V207.5H198.71V208.4M180.3 204.15V203.25H217.12V204.15M180.3 199.15V198.25H235.54V199.15M180.3 194.15V193.25H253.95V194.15" stroke="#777" stroke-width="0.6" fill="none"/><g font-size="4.2" fill="#777" stroke="none" style="stroke:none" text-anchor="middle"><text x="189.5" y="207.4">****</text><text x="198.71" y="203.15">****</text><text x="207.92" y="198.15">****</text><text x="217.12" y="193.15">****</text></g><rect x="169.25" y="188.45" width="95.75" height="119.05" fill="none" stroke="#a8a8a8" stroke-width="0.85"/><path d="M180.3 307.5v1.3M198.71 307.5v1.3M217.12 307.5v1.3M235.54 307.5v1.3M253.95 307.5v1.3M169.25 301.25h-1.3M169.25 260.5h-1.3M169.25 220h-1.3" stroke="#333" stroke-width="0.5"/><g font-size="7.3" fill="#1a1a1a" text-anchor="end"><text x="165.55" y="303.75">0</text><text x="165.55" y="263">20</text><text x="165.55" y="222.5">40</text></g><g font-size="7.2" fill="#1a1a1a" text-anchor="end"><text transform="translate(178.9 309.6) rotate(-45)" x="0" y="5.18">Admission</text><text transform="translate(197.31 309.6) rotate(-45)" x="0" y="5.18">Discharge</text><text transform="translate(215.72 309.6) rotate(-45)" x="0" y="5.18">First follow-up</text><text transform="translate(234.14 309.6) rotate(-45)" x="0" y="5.18">Second follow-up</text><text transform="translate(252.55 309.6) rotate(-45)" x="0" y="5.18">Third follow-up</text></g><text transform="translate(152 248) rotate(-90)" x="0" y="0" font-size="7.2" fill="#1a1a1a" text-anchor="middle">CRP (<0.5 mg/dL)</text></g>
<g><path d="M306.25 301.75H401.75M306.25 262.5H401.75M306.25 223.25H401.75M306.25 203.62H401.75M306.25 242.88H401.75M306.25 282.12H401.75M317.27 188.45V307.5M335.63 188.45V307.5M354 188.45V307.5M372.37 188.45V307.5M390.73 188.45V307.5" stroke="#ededed" stroke-width="0.6" fill="none"/><path d="M306.25 299.8H401.75" stroke="#999" stroke-width="0.6" stroke-dasharray="1.2 1.2"/><path d="M317.27 295.21L335.63 285.9L354 299.47L372.37 299.64L390.73 301.35M317.27 300.73L335.63 299.86L354 300.56L372.37 301.3L390.73 301.58M317.27 298.81L335.63 299.51L354 300.5L372.37 301.43L390.73 301.44M317.27 261.88L335.63 288.14L354 299.49L372.37 298.3L390.73 300.62M317.27 299.39L335.63 297.92L354 301.06L372.37 301.33L390.73 301.5M317.27 287.86L335.63 294.96L354 299.79L372.37 301.38L390.73 301.07M317.27 295.76L335.63 294.41L354 300.57L372.37 300.59L390.73 301.36M317.27 298.01L335.63 299.32L354 300.86L372.37 301.45L390.73 301.55M317.27 273.37L335.63 293L354 297.54L372.37 298.21L390.73 301.31M317.27 291.2L335.63 299.61L354 300.9L372.37 301.1L390.73 301.51M317.27 300.2L335.63 299.53L354 300.82L372.37 300.49L390.73 301.09M317.27 292.36L335.63 300.98L354 300.61L372.37 300.98L390.73 300.78M317.27 296.93L335.63 295.53L354 300.05L372.37 301.3L390.73 300.5M317.27 300.31L335.63 297.42L354 300.61L372.37 300.63L390.73 301.38M317.27 295.05L335.63 292.02L354 298.58L372.37 301.21L390.73 301.04M317.27 296.49L335.63 299.62L354 300.17L372.37 301.3L390.73 301.54M317.27 300.15L335.63 296.67L354 300.98L372.37 301.55L390.73 301.52M317.27 280.41L335.63 291.11L354 299.43L372.37 301.22L390.73 301.03M317.27 298.84L335.63 295.22L354 300.31L372.37 301.15L390.73 301.6M317.27 284.72L335.63 294.83L354 300.43L372.37 301.34L390.73 300.97M317.27 300.96L335.63 299.67L354 299.78L372.37 301.11L390.73 301.34M317.27 287.5L335.63 290.88L354 298.93L372.37 300.11L390.73 301.18M317.27 292.24L335.63 294.76L354 299.13L372.37 301.06L390.73 301.43M317.27 288.71L335.63 298.61L354 299.82L372.37 301.47L390.73 301.45M317.27 300.12L335.63 280.22L354 301.22L372.37 300.84L390.73 301.51M317.27 298.95L335.63 299.82L354 301.27L372.37 301.07L390.73 301.57M317.27 289.83L335.63 299.66L354 299.25L372.37 300.46L390.73 300.74M317.27 299.59L335.63 299.55L354 301.16L372.37 301.6L390.73 301.55M317.27 280.26L335.63 296.59L354 298.65L372.37 300.11L390.73 300.73M317.27 292.02L335.63 297.41L354 299.22L372.37 301.21L390.73 301.51M317.27 288.05L335.63 296.6L354 298.17L372.37 301.31L390.73 301.53M317.27 290.23L335.63 297.85L354 300.61L372.37 301.3L390.73 301.35M317.27 298.75L335.63 294.96L354 300.36L372.37 301.09L390.73 300.89M317.27 288.07L335.63 291.28L354 295.51L372.37 298.06L390.73 300.52M317.27 299.16L335.63 298.76L354 300.71L372.37 301.47M317.27 299.21L335.63 294.49L354 298.42L372.37 300.89M317.27 297.27L335.63 296.5L354 300.01L372.37 301.34M317.27 286.72L335.63 297.11L354 297.52L372.37 301.33M317.27 288.56L335.63 292.86L354 298.63L372.37 298.03M317.27 291.98L335.63 297.87L354 299.05L372.37 301.21M317.27 296.84L335.63 296.71L354 299.79L372.37 299.89M317.27 277.87L335.63 295.3L354 299.8L372.37 301.45M317.27 286.71L335.63 297.07L354 301.39L372.37 300.21M317.27 288.65L335.63 298.63L354 299.86L372.37 300.62M317.27 295.06L335.63 300.54L354 300.9L372.37 301.3M317.27 264.64L335.63 283.55L354 296.69L372.37 299.68M317.27 298.8L335.63 299.66L354 299.93L372.37 301.28M317.27 291.81L335.63 299L354 299.97L372.37 301.36M317.27 298.76L335.63 296.63L354 300.93L372.37 301.17M317.27 284.69L335.63 298.1L354 298.16L372.37 299.69M317.27 291.75L335.63 297.8L354 300.87M317.27 253.5L335.63 297.38L354 301.07M317.27 285.39L335.63 296.4L354 298.72M317.27 296.84L335.63 299.45L354 299.18M317.27 296.28L335.63 299.75L354 300.69M317.27 291.54L335.63 295.49L354 298.49M317.27 294.3L335.63 298.72L354 300.28M317.27 300.8L335.63 297.11L354 296.67M317.27 266.82L335.63 295.71L354 298.67M317.27 296.45L335.63 297.79L354 300.1M317.27 297.65L335.63 296.41L354 299.5M317.27 295.23L335.63 299.22L354 300.6M317.27 275.8L335.63 295L354 299.85M317.27 299.85L335.63 297.41L354 301.29M317.27 299.83L335.63 295.86L354 300.2M317.27 293.59L335.63 299.56L354 300.51M317.27 298.76L335.63 299.63L354 299.86M317.27 300.09L335.63 299.24L354 300.95M317.27 298.79L335.63 289.69L354 298.98M317.27 299.53L335.63 299.77L354 298.81M317.27 300.4L335.63 299.75L354 300.66M317.27 298.85L335.63 300.47L354 300.19M317.27 226L335.63 294.26L354 297.89M317.27 291.63L335.63 298.53L354 286.22M317.27 292.68L335.63 299.8L354 300.81M317.27 292.78L335.63 297.84L354 300.2M317.27 295.59L335.63 299.5L354 297.08M317.27 298.86L335.63 299.54L354 300.71M317.27 293.27L335.63 296.88L354 301.1M317.27 299.13L335.63 297.73L354 300.6M317.27 287.81L335.63 296.63M317.27 288.05L335.63 296.76M317.27 300.26L335.63 297.36M317.27 292.75L335.63 299.3M317.27 296.31L335.63 296.66M317.27 299.05L335.63 297.91M317.27 294.48L335.63 298.72M317.27 240L335.63 297.2M317.27 286.02L335.63 290.47M317.27 291.47L335.63 299.91M317.27 299.44L335.63 299.98M317.27 299.98L335.63 300.57M317.27 292.48L335.63 298.83M317.27 282.01L335.63 298.85M317.27 298.56L335.63 298.21M317.27 287.51L335.63 294.62M317.27 288.08L335.63 295.49M317.27 286.24L335.63 296.34M317.27 295.3L335.63 298.42M317.27 288.77L335.63 298.97M317.27 296.69L335.63 300.38M317.27 295.33L335.63 295.02M317.27 284.31L335.63 293.25M317.27 279.78L335.63 295.66M317.27 294.36L335.63 295.35M317.27 286.33L335.63 298.15M317.27 291.66L335.63 297.08M317.27 290.15L335.63 292.77M317.27 298.9L335.63 299.21M317.27 296.42L335.63 299.79" stroke="#444" stroke-opacity="0.16" stroke-width="0.45" fill="none"/><path d="M317.27 276.25V288.25M317.27 298.75V301" stroke="#555" stroke-width="0.6"/><rect x="310.38" y="288.25" width="13.77" height="10.5" fill="#F8766D" fill-opacity="0.35" stroke="#333" stroke-opacity="0.75" stroke-width="0.5"/><path d="M310.38 295H324.16" stroke="#333" stroke-width="0.8"/><path d="M335.63 290V295M335.63 299.5V301" stroke="#555" stroke-width="0.6"/><rect x="328.75" y="295" width="13.77" height="4.5" fill="#A3A500" fill-opacity="0.35" stroke="#333" stroke-opacity="0.75" stroke-width="0.5"/><path d="M328.75 297.5H342.52" stroke="#333" stroke-width="0.8"/><path d="M354 296V298.5M354 300.6V301.4" stroke="#555" stroke-width="0.6"/><rect x="347.11" y="298.5" width="13.77" height="2.1" fill="#00BF7D" fill-opacity="0.35" stroke="#333" stroke-opacity="0.75" stroke-width="0.5"/><path d="M347.11 299.8H360.89" stroke="#333" stroke-width="0.8"/><path d="M372.37 299.5V300.5M372.37 301.3V301.6" stroke="#555" stroke-width="0.6"/><rect x="365.48" y="300.5" width="13.77" height="0.8" fill="#00B0F6" fill-opacity="0.35" stroke="#333" stroke-opacity="0.75" stroke-width="0.5"/><path d="M365.48 301H379.25" stroke="#333" stroke-width="0.8"/><path d="M390.73 300.5V301M390.73 301.5V301.6" stroke="#555" stroke-width="0.6"/><rect x="383.84" y="301" width="13.77" height="0.5" fill="#E76BF3" fill-opacity="0.35" stroke="#333" stroke-opacity="0.75" stroke-width="0.5"/><path d="M383.84 301.3H397.62" stroke="#333" stroke-width="0.8"/><path d="M316.57 295.21h0M318.67 300.73h0M316.37 298.81h0M314.67 261.88h0M316.7 299.39h0M316.85 287.86h0M314.92 295.76h0M319.27 298.01h0M317.68 273.37h0M319.93 291.2h0M319.68 300.2h0M315.79 292.36h0M316.65 296.93h0M315.45 300.31h0M317.7 295.05h0M314.57 296.49h0M319.54 300.15h0M319.37 280.41h0M317.09 298.84h0M315.02 284.72h0M318.8 300.96h0M319.23 287.5h0M315.13 292.24h0M315.24 288.71h0M319.46 300.12h0M319.15 298.95h0M315.05 289.83h0M314.94 299.59h0M317.5 280.26h0M316.44 292.02h0M318.29 288.05h0M314.75 290.23h0M316.45 298.75h0M315.11 288.07h0M318.37 299.16h0M316.61 299.21h0M318.8 297.27h0M314.57 286.72h0M317.8 288.56h0M317.69 291.98h0M319.34 296.84h0M319.73 277.87h0M314.64 286.71h0M315.92 288.65h0M317.6 295.06h0M319.36 264.64h0M317.95 298.8h0M315.37 291.81h0M317.11 298.76h0M315.65 284.69h0M315.12 291.75h0M314.8 253.5h0M317.51 285.39h0M319.83 296.84h0M314.65 296.28h0M319.56 291.54h0M315.36 294.3h0M314.59 300.8h0M318.52 266.82h0M318.9 296.45h0M318.07 297.65h0M314.66 295.23h0M317.18 275.8h0M315.68 299.85h0M318.91 299.83h0M318.07 293.59h0M317.75 298.76h0M316.9 300.09h0M315.06 298.79h0M315.86 299.53h0M314.88 300.4h0M317.11 298.85h0M317.78 226h0M314.94 291.63h0M315.11 292.68h0M315.81 292.78h0M318.46 295.59h0M316.79 298.86h0M315.49 293.27h0M316.06 299.13h0M315.61 287.81h0M316.7 288.05h0M319.45 300.26h0M319.85 292.75h0M319.35 296.31h0M317.41 299.05h0M314.58 294.48h0M315.97 240h0M316.14 286.02h0M318.83 291.47h0M315.46 299.44h0M317.73 299.98h0M314.82 292.48h0M315.2 282.01h0M315.64 298.56h0M318.25 287.51h0M317.88 288.08h0M319.6 286.24h0M315.54 295.3h0M315.87 288.77h0M317.1 296.69h0M316.29 295.33h0M319.17 284.31h0M318.86 279.78h0M315.46 294.36h0M317.55 286.33h0M319.61 291.66h0M317.46 290.15h0M319.29 298.9h0M315.11 296.42h0M315.35 298.77h0M316.58 296.97h0M319.06 299.6h0M316.4 298.95h0M318.6 295.34h0" stroke="#F8766D" stroke-opacity="0.65" stroke-width="1.25" stroke-linecap="round" fill="none"/><path d="M333.49 285.9h0M334.65 299.86h0M338.06 299.51h0M335.53 288.14h0M336.42 297.92h0M337.45 294.96h0M335.86 294.41h0M338.26 299.32h0M334.98 293h0M333.09 299.61h0M333.01 299.53h0M336.74 300.98h0M334.8 295.53h0M337.47 297.42h0M333.59 292.02h0M337.62 299.62h0M334.63 296.67h0M334.24 291.11h0M337.34 295.22h0M334.27 294.83h0M335.81 299.67h0M336.38 290.88h0M335.65 294.76h0M336.37 298.61h0M337.94 280.22h0M337.36 299.82h0M338.22 299.66h0M335.74 299.55h0M335.23 296.59h0M337.16 297.41h0M334.99 296.6h0M336.91 297.85h0M337.29 294.96h0M334.74 291.28h0M334.55 298.76h0M337.67 294.49h0M335.91 296.5h0M337.06 297.11h0M336.87 292.86h0M333.57 297.87h0M338 296.71h0M334.67 295.3h0M337.79 297.07h0M334.58 298.63h0M335.5 300.54h0M334.22 283.55h0M335.23 299.66h0M337.23 299h0M337.97 296.63h0M333.57 298.1h0M337.17 297.8h0M337.98 297.38h0M333.07 296.4h0M338.05 299.45h0M337.92 299.75h0M334.4 295.49h0M337.78 298.72h0M335.2 297.11h0M333.16 295.71h0M333.64 297.79h0M336.01 296.41h0M334.71 299.22h0M337.68 295h0M335.93 297.41h0M338.22 295.86h0M337.14 299.56h0M335.6 299.63h0M335.96 299.24h0M333.03 289.69h0M333.02 299.77h0M337.75 299.75h0M335.03 300.47h0M338.25 294.26h0M337.3 298.53h0M336.11 299.8h0M334.78 297.84h0M334.72 299.5h0M336.3 299.54h0M334.59 296.88h0M337.16 297.73h0M333.65 296.63h0M335.5 296.76h0M335.23 297.36h0M334.99 299.3h0M334.88 296.66h0M334.75 297.91h0M336.77 298.72h0M335.9 297.2h0M334.45 290.47h0M336.47 299.91h0M334.33 299.98h0M338.24 300.57h0M338.24 298.83h0M337.73 298.85h0M337.29 298.21h0M333.4 294.62h0M334.82 295.49h0M336.33 296.34h0M337.66 298.42h0M335.92 298.97h0M333.16 300.38h0M337.16 295.02h0M336.66 293.25h0M336.49 295.66h0M335.11 295.35h0M337.26 298.15h0M337.6 297.08h0M333.57 292.77h0M334.67 299.21h0M337.23 299.79h0" stroke="#A3A500" stroke-opacity="0.65" stroke-width="1.25" stroke-linecap="round" fill="none"/><path d="M356.33 299.47h0M355.67 300.56h0M355.58 300.5h0M353.53 299.49h0M354.58 301.06h0M355.82 299.79h0M353.48 300.57h0M356.04 300.86h0M354.63 297.54h0M355.22 300.9h0M351.62 300.82h0M353.06 300.61h0M354.32 300.05h0M356.31 300.61h0M352.07 298.58h0M355.44 300.17h0M355.88 300.98h0M351.96 299.43h0M353.18 300.31h0M353.51 300.43h0M353.38 299.78h0M356.28 298.93h0M353.64 299.13h0M354.86 299.82h0M352.05 301.22h0M352.45 301.27h0M353.54 299.25h0M356.61 301.16h0M353.97 298.65h0M355.51 299.22h0M352.93 298.17h0M353.71 300.61h0M353.42 300.36h0M351.37 295.51h0M355.41 300.71h0M351.46 298.42h0M351.5 300.01h0M354.74 297.52h0M353.15 298.63h0M355.36 299.05h0M355.06 299.79h0M352.37 299.8h0M351.93 301.39h0M354.14 299.86h0M356.08 300.9h0M354.19 296.69h0M355.14 299.93h0M351.82 299.97h0M356.47 300.93h0M355.88 298.16h0M355 300.87h0M353.85 301.07h0M355.94 298.72h0M355.1 299.18h0M355.7 300.69h0M356.67 298.49h0M352.01 300.28h0M351.86 296.67h0M353.95 298.67h0M352.74 300.1h0M354.07 299.5h0M353.56 300.6h0M355.4 299.85h0M352.21 301.29h0M351.88 300.2h0M356.27 300.51h0M352 299.86h0M353.6 300.95h0M353.72 298.98h0M352.84 298.81h0M352.68 300.66h0M355.96 300.19h0M352.08 297.89h0M356.11 286.22h0M356.31 300.81h0M353.67 300.2h0M353.07 297.08h0M351.48 300.71h0M354.08 301.1h0M353.67 300.6h0" stroke="#00BF7D" stroke-opacity="0.65" stroke-width="1.25" stroke-linecap="round" fill="none"/><path d="M373.15 299.64h0M371.01 301.3h0M373.08 301.43h0M374.25 298.3h0M375.05 301.33h0M372.83 301.38h0M370.22 300.59h0M373.26 301.45h0M371.46 298.21h0M374.9 301.1h0M373.93 300.49h0M372.83 300.98h0M373.85 301.3h0M370.01 300.63h0M374.1 301.21h0M373.84 301.3h0M372.73 301.55h0M373.87 301.22h0M374.42 301.15h0M372.09 301.34h0M371.25 301.11h0M374.74 300.11h0M375.01 301.06h0M371.33 301.47h0M374.64 300.84h0M373.73 301.07h0M372.78 300.46h0M371.9 301.6h0M372.08 300.11h0M372.05 301.21h0M370.03 301.31h0M370.92 301.3h0M372.7 301.09h0M372.07 298.06h0M372.76 301.47h0M373.82 300.89h0M373.83 301.34h0M373.28 301.33h0M370.18 298.03h0M371.02 301.21h0M372.7 299.89h0M369.79 301.45h0M371.65 300.21h0M371.52 300.62h0M372.95 301.3h0M372.36 299.68h0M369.89 301.28h0M370.35 301.36h0M371.52 301.17h0M372.91 299.69h0" stroke="#00B0F6" stroke-opacity="0.65" stroke-width="1.25" stroke-linecap="round" fill="none"/><path d="M392.23 301.35h0M388.72 301.58h0M388.97 301.44h0M389.31 300.62h0M388.1 301.5h0M390.1 301.07h0M391.26 301.36h0M392.49 301.55h0M391.09 301.31h0M391.46 301.51h0M392.35 301.09h0M393.17 300.78h0M389.49 300.5h0M388.75 301.38h0M393.1 301.04h0M393.35 301.54h0M390.96 301.52h0M388.56 301.03h0M392.1 301.6h0M389.34 300.97h0M389.19 301.34h0M392.69 301.18h0M392.56 301.43h0M390.44 301.45h0M390.26 301.51h0M389.09 301.57h0M391.45 300.74h0M388.96 301.55h0M389.15 300.73h0M388.26 301.51h0M389.24 301.53h0M392.44 301.35h0M391.66 300.89h0M391.91 300.52h0" stroke="#E76BF3" stroke-opacity="0.65" stroke-width="1.25" stroke-linecap="round" fill="none"/><path d="M317.27 219.15V218.25H335.63V219.15M317.27 215.15V214.25H354V215.15M317.27 211.4V210.5H372.37V211.4M317.27 207.15V206.25H390.73V207.15M335.63 202.9V202H354V202.9M335.63 198.4V197.5H372.37V198.4M335.63 194.15V193.25H390.73V194.15" stroke="#777" stroke-width="0.6" fill="none"/><g font-size="4.2" fill="#777" stroke="none" style="stroke:none" text-anchor="middle"><text x="326.45" y="218.15">****</text><text x="335.63" y="214.15">****</text><text x="344.82" y="210.4">****</text><text x="354" y="206.15">****</text><text x="344.82" y="201.9">*</text><text x="354" y="197.4">****</text><text x="363.18" y="193.15">***</text></g><rect x="306.25" y="188.45" width="95.5" height="119.05" fill="none" stroke="#a8a8a8" stroke-width="0.85"/><path d="M317.27 307.5v1.3M335.63 307.5v1.3M354 307.5v1.3M372.37 307.5v1.3M390.73 307.5v1.3M306.25 301.75h-1.3M306.25 262.5h-1.3M306.25 223.25h-1.3" stroke="#333" stroke-width="0.5"/><g font-size="7.3" fill="#1a1a1a" text-anchor="end"><text x="303.15" y="304.25">0</text><text x="303.15" y="265">2,000</text><text x="303.15" y="225.75">4,000</text></g><g font-size="7.2" fill="#1a1a1a" text-anchor="end"><text transform="translate(315.87 309.6) rotate(-45)" x="0" y="5.18">Admission</text><text transform="translate(334.23 309.6) rotate(-45)" x="0" y="5.18">Discharge</text><text transform="translate(352.6 309.6) rotate(-45)" x="0" y="5.18">First follow-up</text><text transform="translate(370.97 309.6) rotate(-45)" x="0" y="5.18">Second follow-up</text><text transform="translate(389.33 309.6) rotate(-45)" x="0" y="5.18">Third follow-up</text></g><text transform="translate(279.4 248) rotate(-90)" x="0" y="0" font-size="7.2" fill="#1a1a1a" text-anchor="middle">Ferritin (5.3-99.9 µg/L)</text></g>
<g><path d="M449.5 301.75H545.5M449.5 271.25H545.5M449.5 241.25H545.5M449.5 210.75H545.5M449.5 195.5H545.5M449.5 226H545.5M449.5 256.5H545.5M449.5 287H545.5M460.58 188.45V307.5M479.04 188.45V307.5M497.5 188.45V307.5M515.96 188.45V307.5M534.42 188.45V307.5" stroke="#ededed" stroke-width="0.6" fill="none"/><path d="M449.5 289.6H545.5" stroke="#cccccc" stroke-width="0.8"/><path d="M449.5 301H545.5" stroke="#999" stroke-width="0.6" stroke-dasharray="1.2 1.2"/><path d="M460.58 277.15L479.04 286.64L497.5 255.61L515.96 293.23L534.42 294.52M460.58 245.59L479.04 262.6L497.5 282.4L515.96 289.7L534.42 294.44M460.58 270.6L479.04 294.31L497.5 270.42L515.96 290.37L534.42 300.71M460.58 270.92L479.04 292.52L497.5 299.28L515.96 300.46L534.42 300.71M460.58 268.35L479.04 276.3L497.5 291.81L515.96 275.4L534.42 300.6M460.58 295.97L479.04 287.25L497.5 281.66L515.96 298.88L534.42 298.22M460.58 280.84L479.04 290.72L497.5 270.88L515.96 300.29L534.42 300.12M460.58 300.41L479.04 288.6L497.5 295.88L515.96 299.21L534.42 300.16M460.58 283.75L479.04 282.85L497.5 284.11L515.96 255.4L534.42 300.75M460.58 280.36L479.04 282.39L497.5 273.6L515.96 297.71L534.42 298.38M460.58 243.49L479.04 273.12L497.5 277.33L515.96 290.64L534.42 297.89M460.58 278.77L479.04 265.25L497.5 284.86L515.96 289.49L534.42 297.04M460.58 272.67L479.04 292.39L497.5 288.04L515.96 295.3L534.42 300.48M460.58 276.89L479.04 282.94L497.5 286.72L515.96 298.11L534.42 300.07M460.58 269.47L479.04 286.69L497.5 279.2L515.96 295.44L534.42 299.56M460.58 287.47L479.04 277.9L497.5 277.01L515.96 299.67L534.42 300.54M460.58 279.26L479.04 294.09L497.5 282.03L515.96 299.97L534.42 300.32M460.58 262.52L479.04 280.73L497.5 281.28L515.96 298.96L534.42 300.89M460.58 261.74L479.04 263.2L497.5 271.47L515.96 292.37L534.42 297.75M460.58 273.63L479.04 292.65L497.5 294.61L515.96 299.93L534.42 280.4M460.58 283.75L479.04 287.17L497.5 300.26L515.96 296.01L534.42 300.61M460.58 288.64L479.04 281.15L497.5 292.81L515.96 299.14L534.42 297.82M460.58 296.23L479.04 299.07L497.5 290.93L515.96 300.89L534.42 300.78M460.58 269.54L479.04 285.55L497.5 281.93L515.96 298.98L534.42 290.06M460.58 297.77L479.04 293.12L497.5 290.51L515.96 300.4L534.42 299.87M460.58 257.07L479.04 284.04L497.5 285.05L515.96 295.42L534.42 293.98M460.58 269.81L479.04 270.14L497.5 271.47L515.96 295.44L534.42 292.48M460.58 269.23L479.04 285.43L497.5 289.41L515.96 299.47L534.42 298.34M460.58 289.53L479.04 294.08L497.5 298.92L515.96 300.2L534.42 300.99M460.58 287.66L479.04 299.66L497.5 292.7L515.96 300.23L534.42 300.92M460.58 258.94L479.04 291.29L497.5 263.79L515.96 292.72L534.42 296.22M460.58 275.97L479.04 292.48L497.5 296.69L515.96 300.45L534.42 298.29M460.58 291.85L479.04 289.8L497.5 287.62L515.96 297.1L534.42 300.75M460.58 271.63L479.04 284.1L497.5 279.15L515.96 294.48L534.42 296.14M460.58 268.83L479.04 275.23L497.5 277.77L515.96 286.5M460.58 229L479.04 275.85L497.5 282.56L515.96 293.97M460.58 289.31L479.04 287.25L497.5 291.69L515.96 294.62M460.58 268.85L479.04 291.81L497.5 275.84L515.96 297.13M460.58 272.99L479.04 276.4L497.5 269.95L515.96 295.82M460.58 262.69L479.04 268.44L497.5 279.72L515.96 297.18M460.58 254.16L479.04 286.59L497.5 278.27L515.96 290.49M460.58 270.43L479.04 290.98L497.5 292.2L515.96 298.15M460.58 276.65L479.04 293.26L497.5 290.66L515.96 297.9M460.58 285.95L479.04 277.71L497.5 273.21L515.96 285.09M460.58 271.51L479.04 280.77L497.5 283.89L515.96 299.32M460.58 263.93L479.04 257.48L497.5 277.89L515.96 295.09M460.58 271.29L479.04 277.19L497.5 299.43L515.96 299.12M460.58 278.91L479.04 293.73L497.5 283.89L515.96 299.77M460.58 296.41L479.04 292.75L497.5 295.07L515.96 293.26M460.58 276.79L479.04 300.53L497.5 298.12L515.96 300.55M460.58 292.04L479.04 296.71L497.5 293.99M460.58 279.33L479.04 275.2L497.5 300.48M460.58 293.08L479.04 273.3L497.5 294.17M460.58 286.57L479.04 294.24L497.5 292.69M460.58 267.66L479.04 272.09L497.5 260.51M460.58 288.44L479.04 277.09L497.5 282.79M460.58 271.52L479.04 288.88L497.5 281.87M460.58 276.31L479.04 292.07L497.5 295.26M460.58 270.37L479.04 287.46L497.5 292.94M460.58 279.25L479.04 293.65L497.5 298.33M460.58 278.42L479.04 280.68L497.5 288.48M460.58 295.98L479.04 290.62L497.5 278.64M460.58 278.17L479.04 283.03L497.5 292.09M460.58 270.9L479.04 290.51L497.5 277.46M460.58 259.79L479.04 263.33L497.5 278.01M460.58 279.28L479.04 293.75L497.5 288.14M460.58 269.45L479.04 287.34L497.5 290.26M460.58 284.13L479.04 292.76L497.5 252.2M460.58 284.45L479.04 292.33L497.5 292.1M460.58 268.43L479.04 292.85L497.5 276.47M460.58 274.25L479.04 279.82L497.5 287.04M460.58 288.01L479.04 273.45L497.5 255.09M460.58 261.61L479.04 276.56L497.5 282.76M460.58 293.12L479.04 293.58L497.5 290.95M460.58 270.41L479.04 292.41L497.5 272.82M460.58 271.59L479.04 269.37L497.5 287.77M460.58 264.77L479.04 292.3L497.5 287.27M460.58 271.99L479.04 285.64L497.5 284.3M460.58 286.01L479.04 289.06L497.5 290.69M460.58 269.37L479.04 285.63L497.5 285.07M460.58 275.96L479.04 283.43M460.58 288.66L479.04 288.74M460.58 269.01L479.04 281.14M460.58 285.98L479.04 292.77M460.58 276.99L479.04 285.56M460.58 268.18L479.04 274.69M460.58 289.15L479.04 292.91M460.58 278.88L479.04 294.36M460.58 276.62L479.04 289.03M460.58 281.24L479.04 290.21M460.58 269.11L479.04 265.27M460.58 289.21L479.04 300.47M460.58 288.01L479.04 292.49M460.58 278.05L479.04 284.61M460.58 284.96L479.04 280.08M460.58 265.15L479.04 275.99M460.58 278.48L479.04 275.58M460.58 267.73L479.04 273.56M460.58 278.72L479.04 288.52M460.58 289.19L479.04 257.47M460.58 273.71L479.04 291.9M460.58 289.37L479.04 277.09M460.58 298.98L479.04 285.01M460.58 295.44L479.04 289.5M460.58 293.66L479.04 293.76M460.58 289.61L479.04 285.83M460.58 273.69L479.04 295.84M460.58 288.27L479.04 289.67M460.58 270.23L479.04 263.56M460.58 276.08L479.04 292.31" stroke="#444" stroke-opacity="0.16" stroke-width="0.45" fill="none"/><path d="M460.58 243.6V269.2M460.58 288.5V300.6" stroke="#555" stroke-width="0.6"/><rect x="453.65" y="269.2" width="13.85" height="19.3" fill="#F8766D" fill-opacity="0.35" stroke="#333" stroke-opacity="0.75" stroke-width="0.5"/><path d="M453.65 277.1H467.5" stroke="#333" stroke-width="0.8"/><path d="M479.04 257.4V277.1M479.04 292.3V300.6" stroke="#555" stroke-width="0.6"/><rect x="472.12" y="277.1" width="13.85" height="15.2" fill="#A3A500" fill-opacity="0.35" stroke="#333" stroke-opacity="0.75" stroke-width="0.5"/><path d="M472.12 286.3H485.96" stroke="#333" stroke-width="0.8"/><path d="M497.5 261.1V280.2M497.5 292.8V300.6" stroke="#555" stroke-width="0.6"/><rect x="490.58" y="280.2" width="13.85" height="12.6" fill="#00BF7D" fill-opacity="0.35" stroke="#333" stroke-opacity="0.75" stroke-width="0.5"/><path d="M490.58 288.2H504.42" stroke="#333" stroke-width="0.8"/><path d="M515.96 289.2V295.3M515.96 300.2V300.9" stroke="#555" stroke-width="0.6"/><rect x="509.04" y="295.3" width="13.85" height="4.9" fill="#00B0F6" fill-opacity="0.35" stroke="#333" stroke-opacity="0.75" stroke-width="0.5"/><path d="M509.04 298.5H522.88" stroke="#333" stroke-width="0.8"/><path d="M534.42 292.8V297.3M534.42 300.6V301" stroke="#555" stroke-width="0.6"/><rect x="527.5" y="297.3" width="13.85" height="3.3" fill="#E76BF3" fill-opacity="0.35" stroke="#333" stroke-opacity="0.75" stroke-width="0.5"/><path d="M527.5 299.2H541.35" stroke="#333" stroke-width="0.8"/><path d="M461.42 277.15h0M461.55 245.59h0M459.91 270.6h0M459.13 270.92h0M461.45 268.35h0M460.03 295.97h0M460.28 280.84h0M460.2 300.41h0M460.04 283.75h0M458.79 280.36h0M462.91 243.49h0M462.98 278.77h0M463.19 272.67h0M460.76 276.89h0M458.01 269.47h0M459.25 287.47h0M462.93 279.26h0M460.81 262.52h0M462.33 261.74h0M459.6 273.63h0M461.03 283.75h0M461.55 288.64h0M463.15 296.23h0M459.89 269.54h0M458.65 297.77h0M460.05 257.07h0M461.38 269.81h0M457.95 269.23h0M461.31 289.53h0M460.41 287.66h0M460.47 258.94h0M459.07 275.97h0M461.3 291.85h0M462.33 271.63h0M459.71 268.83h0M460.5 229h0M460.15 289.31h0M463.07 268.85h0M460.86 272.99h0M461.33 262.69h0M462.5 254.16h0M461.46 270.43h0M463.21 276.65h0M461.43 285.95h0M463.11 271.51h0M459.24 263.93h0M461.63 271.29h0M461.63 278.91h0M461.95 296.41h0M460.93 276.79h0M459.49 292.04h0M461.85 279.33h0M460.24 293.08h0M460.58 286.57h0M462.64 267.66h0M460.35 288.44h0M460.1 271.52h0M459.66 276.31h0M462.39 270.37h0M462.74 279.25h0M460.67 278.42h0M460.41 295.98h0M462.01 278.17h0M462.48 270.9h0M461.13 259.79h0M459.14 279.28h0M461.31 269.45h0M457.93 284.13h0M459.59 284.45h0M458.49 268.43h0M459.63 274.25h0M460.49 288.01h0M459.15 261.61h0M461.64 293.12h0M458.38 270.41h0M460.88 271.59h0M463.04 264.77h0M462.03 271.99h0M462.83 286.01h0M458.93 269.37h0M461.88 275.96h0M460.03 288.66h0M458.19 269.01h0M461.13 285.98h0M458.69 276.99h0M460.57 268.18h0M458.03 289.15h0M459.17 278.88h0M459.55 276.62h0M462.65 281.24h0M459.12 269.11h0M458.51 289.21h0M460.5 288.01h0M459.78 278.05h0M463.06 284.96h0M459.81 265.15h0M458.43 278.48h0M460.69 267.73h0M462.06 278.72h0M462.81 289.19h0M461.52 273.71h0M458.52 289.37h0M461.16 298.98h0M462.73 295.44h0M458.45 293.66h0M459.82 289.61h0M461.82 273.69h0M459.49 288.27h0M458.74 270.23h0M461.99 276.08h0M458.39 280.5h0M459.61 258.62h0M460.19 243.01h0M461.03 275.25h0M461.46 273.76h0" stroke="#F8766D" stroke-opacity="0.65" stroke-width="1.25" stroke-linecap="round" fill="none"/><path d="M478.66 286.64h0M481.49 262.6h0M481.09 294.31h0M478.04 292.52h0M478.13 276.3h0M479.4 287.25h0M479.25 290.72h0M478.57 288.6h0M477.89 282.85h0M478.79 282.39h0M481.02 273.12h0M481.11 265.25h0M478.03 292.39h0M480.1 282.94h0M477.93 286.69h0M476.87 277.9h0M478.18 294.09h0M480.97 280.73h0M479.28 263.2h0M476.66 292.65h0M476.95 287.17h0M476.86 281.15h0M478.38 299.07h0M479.56 285.55h0M477.57 293.12h0M479.47 284.04h0M477.38 270.14h0M480.16 285.43h0M479.7 294.08h0M477.89 299.66h0M480.86 291.29h0M480.04 292.48h0M476.38 289.8h0M477.41 284.1h0M478.43 275.23h0M480.09 275.85h0M477.63 287.25h0M477.52 291.81h0M479.85 276.4h0M477.2 268.44h0M477.07 286.59h0M478.89 290.98h0M476.37 293.26h0M480.9 277.71h0M481.38 280.77h0M479.2 257.48h0M481.7 277.19h0M481.62 293.73h0M476.91 292.75h0M480.08 300.53h0M477.44 296.71h0M476.73 275.2h0M480.32 273.3h0M479.87 294.24h0M478.71 272.09h0M479.72 277.09h0M479.6 288.88h0M477.04 292.07h0M477.61 287.46h0M478 293.65h0M477.59 280.68h0M481.01 290.62h0M476.88 283.03h0M481.26 290.51h0M477.55 263.33h0M480.92 293.75h0M481.26 287.34h0M477.47 292.76h0M478.84 292.33h0M477.67 292.85h0M478.38 279.82h0M476.69 273.45h0M478.09 276.56h0M480.77 293.58h0M478.11 292.41h0M476.59 269.37h0M477.65 292.3h0M480.07 285.64h0M476.85 289.06h0M478.61 285.63h0M477.9 283.43h0M481.25 288.74h0M480 281.14h0M480.88 292.77h0M481.03 285.56h0M476.84 274.69h0M481.02 292.91h0M477.96 294.36h0M479.51 289.03h0M477.76 290.21h0M476.82 265.27h0M477.97 300.47h0M480.13 292.49h0M481.45 284.61h0M476.8 280.08h0M478.45 275.99h0M479.69 275.58h0M478.2 273.56h0M477.38 288.52h0M477.79 257.47h0M477.32 291.9h0M480.53 277.09h0M478.11 285.01h0M480.93 289.5h0M480.58 293.76h0M481.23 285.83h0M477.11 295.84h0M481.3 289.67h0M477.94 263.56h0M481.06 292.31h0" stroke="#A3A500" stroke-opacity="0.65" stroke-width="1.25" stroke-linecap="round" fill="none"/><path d="M496.33 255.61h0M499.28 282.4h0M499.43 270.42h0M499.79 299.28h0M500.04 291.81h0M499.74 281.66h0M497.93 270.88h0M497.73 295.88h0M499.77 284.11h0M495.33 273.6h0M498.1 277.33h0M499.21 284.86h0M494.81 288.04h0M497.8 286.72h0M495.12 279.2h0M499.03 277.01h0M499.01 282.03h0M499.27 281.28h0M498 271.47h0M495.37 294.61h0M499.85 300.26h0M495.2 292.81h0M497.48 290.93h0M497.21 281.93h0M495.18 290.51h0M500.11 285.05h0M499.67 271.47h0M499.99 289.41h0M495.65 298.92h0M498.96 292.7h0M496.25 263.79h0M497.6 296.69h0M495.74 287.62h0M495.89 279.15h0M496.88 277.77h0M494.97 282.56h0M496.63 291.69h0M496.03 275.84h0M498.74 269.95h0M497.73 279.72h0M495.59 278.27h0M498.35 292.2h0M495.82 290.66h0M496.41 273.21h0M495.87 283.89h0M495.68 277.89h0M495.92 299.43h0M495.14 283.89h0M497.07 295.07h0M495.68 298.12h0M499.71 293.99h0M496.25 300.48h0M498.56 294.17h0M496.41 292.69h0M496.3 260.51h0M495.61 282.79h0M500.02 281.87h0M497.6 295.26h0M495.57 292.94h0M496.83 298.33h0M498.81 288.48h0M498.53 278.64h0M495.22 292.09h0M498.57 277.46h0M496.95 278.01h0M496.37 288.14h0M499.74 290.26h0M496.34 252.2h0M495.64 292.1h0M499.5 276.47h0M499.95 287.04h0M495.67 255.09h0M500.01 282.76h0M497.36 290.95h0M496.62 272.82h0M498.18 287.77h0M498.54 287.27h0M495.75 284.3h0M500.1 290.69h0M495.34 285.07h0" stroke="#00BF7D" stroke-opacity="0.65" stroke-width="1.25" stroke-linecap="round" fill="none"/><path d="M518.21 293.23h0M513.27 289.7h0M517.36 290.37h0M513.45 300.46h0M517.07 275.4h0M515.79 298.88h0M516.13 300.29h0M518.23 299.21h0M517.52 255.4h0M518.38 297.71h0M516.51 290.64h0M514.03 289.49h0M514.43 295.3h0M517.1 298.11h0M516.24 295.44h0M517.84 299.67h0M514.62 299.97h0M515.12 298.96h0M516.93 292.37h0M515.7 299.93h0M517.56 296.01h0M514.56 299.14h0M518.28 300.89h0M517.68 298.98h0M513.9 300.4h0M518.34 295.42h0M518.35 295.44h0M518.52 299.47h0M517.76 300.2h0M513.65 300.23h0M515.36 292.72h0M517.01 300.45h0M518.65 297.1h0M518.56 294.48h0M513.75 286.5h0M518.04 293.97h0M515.73 294.62h0M516.85 297.13h0M513.66 295.82h0M515.87 297.18h0M515.99 290.49h0M513.99 298.15h0M516.51 297.9h0M515.66 285.09h0M515.45 299.32h0M516.84 295.09h0M514.26 299.12h0M516.9 299.77h0M518.47 293.26h0M517.59 300.55h0" stroke="#00B0F6" stroke-opacity="0.65" stroke-width="1.25" stroke-linecap="round" fill="none"/><path d="M534.63 294.52h0M535.63 294.44h0M536.09 300.71h0M535.09 300.71h0M531.77 300.6h0M532.98 298.22h0M536.3 300.12h0M533.01 300.16h0M535.83 300.75h0M534.46 298.38h0M536.66 297.89h0M536.3 297.04h0M533.51 300.48h0M536.64 300.07h0M534.93 299.56h0M532.69 300.54h0M536.15 300.32h0M533.32 300.89h0M537.04 297.75h0M532.96 280.4h0M533.78 300.61h0M532.18 297.82h0M534.96 300.78h0M534.39 290.06h0M536.95 299.87h0M533.58 293.98h0M536.29 292.48h0M533.65 298.34h0M534.81 300.99h0M534.55 300.92h0M535.12 296.22h0M532.62 298.29h0M533.59 300.75h0M536.78 296.14h0" stroke="#E76BF3" stroke-opacity="0.65" stroke-width="1.25" stroke-linecap="round" fill="none"/><path d="M460.58 222.15V221.25H479.04V222.15M460.58 218.4V217.5H497.5V218.4M460.58 214.65V213.75H515.96V214.65M460.58 210.4V209.5H534.42V210.4M479.04 206.4V205.5H515.96V206.4M479.04 202.15V201.25H534.42V202.15M497.5 198.4V197.5H515.96V198.4M497.5 194.15V193.25H534.42V194.15" stroke="#777" stroke-width="0.6" fill="none"/><g font-size="4.2" fill="#777" stroke="none" style="stroke:none" text-anchor="middle"><text x="469.81" y="221.15">***</text><text x="479.04" y="217.4">****</text><text x="488.27" y="213.65">****</text><text x="497.5" y="209.4">****</text><text x="497.5" y="205.4">****</text><text x="506.73" y="201.15">****</text><text x="506.73" y="197.4">****</text><text x="515.96" y="193.15">****</text></g><rect x="449.5" y="188.45" width="96" height="119.05" fill="none" stroke="#a8a8a8" stroke-width="0.85"/><path d="M460.58 307.5v1.3M479.04 307.5v1.3M497.5 307.5v1.3M515.96 307.5v1.3M534.42 307.5v1.3M449.5 301.75h-1.3M449.5 271.25h-1.3M449.5 241.25h-1.3M449.5 210.75h-1.3" stroke="#333" stroke-width="0.5"/><g font-size="7.3" fill="#1a1a1a" text-anchor="end"><text x="446.3" y="304.25">0</text><text x="446.3" y="273.75">50</text><text x="446.3" y="243.75">100</text><text x="446.3" y="213.25">150</text></g><g font-size="7.2" fill="#1a1a1a" text-anchor="end"><text transform="translate(459.18 309.6) rotate(-45)" x="0" y="5.18">Admission</text><text transform="translate(477.64 309.6) rotate(-45)" x="0" y="5.18">Discharge</text><text transform="translate(496.1 309.6) rotate(-45)" x="0" y="5.18">First follow-up</text><text transform="translate(514.56 309.6) rotate(-45)" x="0" y="5.18">Second follow-up</text><text transform="translate(533.02 309.6) rotate(-45)" x="0" y="5.18">Third follow-up</text></g><text transform="translate(423.9 247.5) rotate(-90)" x="0" y="0" font-size="7.2" fill="#1a1a1a" text-anchor="middle">ESR (mm/h)</text></g>
<g><path d="M589.5 305.5H684.5M589.5 266.75H684.5M589.5 228.25H684.5M589.5 189.25H684.5M589.5 208.75H684.5M589.5 247.75H684.5M589.5 286.75H684.5M600.46 188.45V307.5M618.73 188.45V307.5M637 188.45V307.5M655.27 188.45V307.5M673.54 188.45V307.5" stroke="#ededed" stroke-width="0.6" fill="none"/><path d="M589.5 261.25H684.5" stroke="#cccccc" stroke-width="0.8"/><path d="M589.5 276.25H684.5" stroke="#999" stroke-width="0.6" stroke-dasharray="1.2 1.2"/><path d="M600.46 277.98L618.73 276.9L637 268.14L655.27 266.8L673.54 268.71M600.46 271.32L618.73 275.46L637 268.39L655.27 272.98L673.54 275.53M600.46 277.32L618.73 273.51L637 269.78L655.27 266.68L673.54 263.83M600.46 275.41L618.73 274.79L637 271.18L655.27 270.81L673.54 266.45M600.46 273.51L618.73 271.83L637 267.52L655.27 272.38L673.54 267.58M600.46 267.78L618.73 257.89L637 267.51L655.27 267.96L673.54 265.13M600.46 291.05L618.73 280.87L637 278.58L655.27 272.51L673.54 270.91M600.46 276.9L618.73 272.85L637 268.2L655.27 267.84L673.54 271.06M600.46 275.17L618.73 278.27L637 274.64L655.27 276.04L673.54 268.58M600.46 279.46L618.73 279.39L637 273.08L655.27 269.23L673.54 272.73M600.46 284.45L618.73 280.88L637 274.4L655.27 271.54L673.54 274M600.46 276.53L618.73 279.7L637 269.45L655.27 266.51L673.54 268.02M600.46 264.94L618.73 268.77L637 266.7L655.27 266.32L673.54 264.91M600.46 277.95L618.73 278.45L637 270.7L655.27 272.56L673.54 269.58M600.46 281.73L618.73 257.7L637 270.76L655.27 265.99L673.54 266.32M600.46 278.86L618.73 283.29L637 274.02L655.27 274.89L673.54 274.67M600.46 285.16L618.73 276.83L637 270.02L655.27 270.31L673.54 264.31M600.46 254.05L618.73 273.15L637 265.79L655.27 265.23L673.54 264.81M600.46 289.43L618.73 273.45L637 273.24L655.27 267.97L673.54 271.81M600.46 280.51L618.73 275.35L637 273.48L655.27 275.16L673.54 266.7M600.46 274.63L618.73 273.77L637 268.61L655.27 271.56L673.54 266.7M600.46 274.27L618.73 271.95L637 273.4L655.27 266.39L673.54 268.3M600.46 283.24L618.73 277.5L637 266.91L655.27 268.51L673.54 269M600.46 295.21L618.73 284.57L637 274.45L655.27 274.79L673.54 272.63M600.46 272.05L618.73 268.34L637 264.84L655.27 267.94L673.54 262.52M600.46 277.24L618.73 279.5L637 274.47L655.27 269.47L673.54 271.32M600.46 272.25L618.73 272.65L637 272.6L655.27 268.81L673.54 266.69M600.46 272.09L618.73 273.82L637 268.42L655.27 269.91L673.54 269.12M600.46 280.14L618.73 272.47L637 268.92L655.27 270.43L673.54 269.52M600.46 283.78L618.73 281.95L637 277.85L655.27 273.93L673.54 273.24M600.46 278.62L618.73 276.96L637 277.73L655.27 272.67L673.54 272.52M600.46 272.03L618.73 270L637 267.76L655.27 261.12L673.54 267.26M600.46 275.04L618.73 278.03L637 272.32L655.27 273.49L673.54 268.34M600.46 280.13L618.73 278.6L637 273.06L655.27 271.25L673.54 271.65M600.46 265.55L618.73 271.73L637 268.33L655.27 266.49M600.46 281.75L618.73 277.08L637 270.56L655.27 269.05M600.46 275.87L618.73 272.83L637 274.76L655.27 267.55M600.46 252.78L618.73 263.18L637 266.39L655.27 265.13M600.46 280.1L618.73 279.93L637 272.12L655.27 271.6M600.46 274.8L618.73 274.2L637 272.42L655.27 266.1M600.46 274.37L618.73 276.96L637 267.99L655.27 266.64M600.46 275.66L618.73 275.63L637 271.03L655.27 266.7M600.46 280.99L618.73 273.6L637 268.7L655.27 272.1M600.46 268.1L618.73 271.45L637 267.4L655.27 265.71M600.46 275.95L618.73 284.41L637 273.04L655.27 272.33M600.46 291.64L618.73 277.02L637 274.86L655.27 272.86M600.46 281.84L618.73 282.14L637 277.95L655.27 274.59M600.46 274.19L618.73 274.27L637 269.6L655.27 264.85M600.46 286.5L618.73 270.02L637 272.38L655.27 267.21M600.46 286.73L618.73 274.69L637 274.63L655.27 272.29M600.46 274.56L618.73 271.01L637 273.4M600.46 277.73L618.73 271.24L637 273.46M600.46 286.31L618.73 277.83L637 270.84M600.46 273.54L618.73 272.95L637 270.77M600.46 281.94L618.73 283.89L637 271.68M600.46 279.53L618.73 277.36L637 271.1M600.46 283L618.73 278.59L637 275.93M600.46 279.89L618.73 271.01L637 268.84M600.46 278.82L618.73 278.47L637 277.08M600.46 252.56L618.73 271.16L637 278.53M600.46 282.99L618.73 276.72L637 272.47M600.46 273.79L618.73 273.12L637 266.93M600.46 276.72L618.73 280.29L637 268.6M600.46 278.68L618.73 277.89L637 272.53M600.46 283.57L618.73 274.99L637 270.72M600.46 286.52L618.73 278.11L637 263.06M600.46 273.83L618.73 280.79L637 274.4M600.46 274.87L618.73 273.14L637 273.03M600.46 278.22L618.73 278.44L637 270.64M600.46 295.56L618.73 273.05L637 276.13M600.46 290.8L618.73 276.58L637 277.91M600.46 282.62L618.73 276.35L637 276.57M600.46 271.32L618.73 284.9L637 265.13M600.46 275.34L618.73 272.64L637 273.88M600.46 275.9L618.73 271.41L637 269.28M600.46 278.34L618.73 272.61L637 268M600.46 278.93L618.73 282.66L637 276.22M600.46 280.68L618.73 272.56L637 269.04M600.46 283.35L618.73 270.08L637 273.81M600.46 284.8L618.73 279.12L637 274.41M600.46 267.98L618.73 272.23M600.46 278.12L618.73 269.24M600.46 274.77L618.73 277.03M600.46 268.89L618.73 273.23M600.46 271.82L618.73 277.84M600.46 254.93L618.73 262.1M600.46 272.26L618.73 272.27M600.46 274.86L618.73 272.73M600.46 274.64L618.73 272.46M600.46 291.71L618.73 276.52M600.46 282.67L618.73 277.42M600.46 277.78L618.73 278.02M600.46 274.25L618.73 270.19M600.46 272.5L618.73 273.22M600.46 280.44L618.73 278.97M600.46 278.92L618.73 274.51M600.46 280.47L618.73 273.64M600.46 261.13L618.73 262.71M600.46 274.74L618.73 274.49M600.46 279.34L618.73 278.13M600.46 279.24L618.73 278.58M600.46 276.59L618.73 272.52M600.46 280.48L618.73 279.2M600.46 277.24L618.73 278.61M600.46 269.68L618.73 270.85M600.46 296.06L618.73 280.74M600.46 282.66L618.73 280.99M600.46 275.58L618.73 283.88M600.46 272.86L618.73 271.82M600.46 300.35L618.73 272.61" stroke="#444" stroke-opacity="0.16" stroke-width="0.45" fill="none"/><path d="M600.46 265.3V274.4M600.46 282.6V293.4" stroke="#555" stroke-width="0.6"/><rect x="593.61" y="274.4" width="13.7" height="8.2" fill="#F8766D" fill-opacity="0.35" stroke="#333" stroke-opacity="0.75" stroke-width="0.5"/><path d="M593.61 278.2H607.31" stroke="#333" stroke-width="0.8"/><path d="M618.73 266.7V272.3M618.73 278.6V285" stroke="#555" stroke-width="0.6"/><rect x="611.88" y="272.3" width="13.7" height="6.3" fill="#A3A500" fill-opacity="0.35" stroke="#333" stroke-opacity="0.75" stroke-width="0.5"/><path d="M611.88 275.6H625.58" stroke="#333" stroke-width="0.8"/><path d="M637 266V268.5M637 274.4V278.6" stroke="#555" stroke-width="0.6"/><rect x="630.15" y="268.5" width="13.7" height="5.9" fill="#00BF7D" fill-opacity="0.35" stroke="#333" stroke-opacity="0.75" stroke-width="0.5"/><path d="M630.15 272.3H643.85" stroke="#333" stroke-width="0.8"/><path d="M655.27 261.1V266.7M655.27 272.3V276.1" stroke="#555" stroke-width="0.6"/><rect x="648.42" y="266.7" width="13.7" height="5.6" fill="#00B0F6" fill-opacity="0.35" stroke="#333" stroke-opacity="0.75" stroke-width="0.5"/><path d="M648.42 270H662.12" stroke="#333" stroke-width="0.8"/><path d="M673.54 263.2V266.7M673.54 270.9V275.6" stroke="#555" stroke-width="0.6"/><rect x="666.69" y="266.7" width="13.7" height="4.2" fill="#E76BF3" fill-opacity="0.35" stroke="#333" stroke-opacity="0.75" stroke-width="0.5"/><path d="M666.69 268.8H680.39" stroke="#333" stroke-width="0.8"/><path d="M599.15 277.98h0M599.35 271.32h0M600.11 277.32h0M597.88 275.41h0M599.07 273.51h0M599.44 267.78h0M598.78 291.05h0M602.44 276.9h0M602.45 275.17h0M598.71 279.46h0M603.16 284.45h0M600.73 276.53h0M601.56 264.94h0M600.66 277.95h0M600.04 281.73h0M600.26 278.86h0M602.34 285.16h0M597.87 254.05h0M598.8 289.43h0M600.08 280.51h0M598.6 274.63h0M603.06 274.27h0M601.59 283.24h0M598.49 295.21h0M598.71 272.05h0M600.27 277.24h0M600.46 272.25h0M601.12 272.09h0M600.62 280.14h0M601.72 283.78h0M599.77 278.62h0M598.88 272.03h0M600.3 275.04h0M599.68 280.13h0M602.27 265.55h0M602.58 281.75h0M603.05 275.87h0M599.19 252.78h0M602.69 280.1h0M599.19 274.8h0M598.15 274.37h0M601.65 275.66h0M603.08 280.99h0M602.24 268.1h0M598.6 275.95h0M597.78 291.64h0M601.87 281.84h0M598.36 274.19h0M602.72 286.5h0M600.67 286.73h0M602.71 274.56h0M598.57 277.73h0M600.62 286.31h0M599.99 273.54h0M601.6 281.94h0M602.38 279.53h0M602.71 283h0M599.62 279.89h0M600.52 278.82h0M602.57 252.56h0M602.38 282.99h0M602.51 273.79h0M600.16 276.72h0M601.57 278.68h0M602.32 283.57h0M602.21 286.52h0M600.98 273.83h0M600.31 274.87h0M600.05 278.22h0M599.85 295.56h0M603.02 290.8h0M602.11 282.62h0M601.56 271.32h0M597.81 275.34h0M602.95 275.9h0M601.92 278.34h0M600.32 278.93h0M600.48 280.68h0M601.35 283.35h0M599.25 284.8h0M599.95 267.98h0M599 278.12h0M601.24 274.77h0M603.08 268.89h0M598.91 271.82h0M598.23 254.93h0M599.39 272.26h0M602.56 274.86h0M603 274.64h0M601.56 291.71h0M598.62 282.67h0M599.13 277.78h0M600.81 274.25h0M603.06 272.5h0M600.44 280.44h0M602.4 278.92h0M598.22 280.47h0M600.2 261.13h0M597.93 274.74h0M598.55 279.34h0M600.85 279.24h0M601.96 276.59h0M599.93 280.48h0M602.94 277.24h0M602.18 269.68h0M601.19 296.06h0M602.48 282.66h0M598.74 275.58h0M598.39 272.86h0M600.86 300.35h0M597.98 274.61h0M602.07 281.96h0M598.18 280.02h0M597.91 291.85h0M600.55 283.47h0" stroke="#F8766D" stroke-opacity="0.65" stroke-width="1.25" stroke-linecap="round" fill="none"/><path d="M618.78 276.9h0M620.42 275.46h0M618.79 273.51h0M619.4 274.79h0M621.18 271.83h0M618.03 257.89h0M619.92 280.87h0M618.03 272.85h0M616.4 278.27h0M621.39 279.39h0M617.14 280.88h0M620.65 279.7h0M620.25 268.77h0M616.68 278.45h0M617.63 257.7h0M619.81 283.29h0M618.6 276.83h0M620.69 273.15h0M618.05 273.45h0M619.17 275.35h0M621.07 273.77h0M618.96 271.95h0M620.76 277.5h0M620.66 284.57h0M618.24 268.34h0M616.26 279.5h0M619.2 272.65h0M619.18 273.82h0M616.72 272.47h0M616.63 281.95h0M619.33 276.96h0M619.33 270h0M620.66 278.03h0M621.03 278.6h0M616.63 271.73h0M618.88 277.08h0M620.16 272.83h0M616.85 263.18h0M619.06 279.93h0M617.73 274.2h0M618.7 276.96h0M616.4 275.63h0M621.02 273.6h0M617.47 271.45h0M620.95 284.41h0M620.1 277.02h0M618.77 282.14h0M620.38 274.27h0M621.22 270.02h0M616.89 274.69h0M617.63 271.01h0M617.64 271.24h0M619.62 277.83h0M616.45 272.95h0M620.54 283.89h0M617.26 277.36h0M616.46 278.59h0M620.04 271.01h0M619.28 278.47h0M620.13 271.16h0M617.59 276.72h0M619.12 273.12h0M617.56 280.29h0M616.12 277.89h0M617.2 274.99h0M618.78 278.11h0M619.26 280.79h0M616.68 273.14h0M620.32 278.44h0M621.38 273.05h0M617.15 276.58h0M618.5 276.35h0M619.86 284.9h0M616.27 272.64h0M618.54 271.41h0M617.61 272.61h0M619.27 282.66h0M617.98 272.56h0M618.69 270.08h0M620.52 279.12h0M616.04 272.23h0M619.45 269.24h0M620.19 277.03h0M616.43 273.23h0M620.63 277.84h0M619.62 262.1h0M620.6 272.27h0M619 272.73h0M618.07 272.46h0M620.22 276.52h0M618.94 277.42h0M618.48 278.02h0M620.78 270.19h0M621.39 273.22h0M617.15 278.97h0M619.7 274.51h0M617.2 273.64h0M618.72 262.71h0M617.02 274.49h0M619.25 278.13h0M616.75 278.58h0M621.07 272.52h0M621.24 279.2h0M617.55 278.61h0M620.88 270.85h0M618.88 280.74h0M616.8 280.99h0M620.27 283.88h0M621.07 271.82h0M618.84 272.61h0" stroke="#A3A500" stroke-opacity="0.65" stroke-width="1.25" stroke-linecap="round" fill="none"/><path d="M636.94 268.14h0M635.5 268.39h0M634.69 269.78h0M637.56 271.18h0M638.19 267.52h0M637.24 267.51h0M634.38 278.58h0M636.21 268.2h0M635.38 274.64h0M635.44 273.08h0M636.49 274.4h0M636.8 269.45h0M636.18 266.7h0M637.73 270.7h0M637.61 270.76h0M634.75 274.02h0M634.7 270.02h0M635.58 265.79h0M635.99 273.24h0M637.82 273.48h0M636.33 268.61h0M636.03 273.4h0M638.47 266.91h0M636.4 274.45h0M639.6 264.84h0M636.9 274.47h0M636.96 272.6h0M636.63 268.42h0M634.8 268.92h0M635.29 277.85h0M638.04 277.73h0M636.54 267.76h0M635.46 272.32h0M637.89 273.06h0M637.53 268.33h0M636.52 270.56h0M634.41 274.76h0M636.88 266.39h0M634.7 272.12h0M637.03 272.42h0M637.9 267.99h0M636.29 271.03h0M639.46 268.7h0M634.74 267.4h0M635.17 273.04h0M639.54 274.86h0M635.22 277.95h0M635.68 269.6h0M637.14 272.38h0M636.13 274.63h0M634.63 273.4h0M634.99 273.46h0M634.36 270.84h0M637.76 270.77h0M634.52 271.68h0M636.67 271.1h0M637.9 275.93h0M637.41 268.84h0M637.85 277.08h0M639.3 278.53h0M636.22 272.47h0M635.01 266.93h0M637.21 268.6h0M636.03 272.53h0M638.84 270.72h0M638.07 263.06h0M637.6 274.4h0M638.68 273.03h0M636.92 270.64h0M635.23 276.13h0M637.28 277.91h0M638.73 276.57h0M639.47 265.13h0M636.52 273.88h0M637.19 269.28h0M634.89 268h0M638.41 276.22h0M634.6 269.04h0M635.52 273.81h0M638.37 274.41h0" stroke="#00BF7D" stroke-opacity="0.65" stroke-width="1.25" stroke-linecap="round" fill="none"/><path d="M653.88 266.8h0M652.63 272.98h0M653.36 266.68h0M653.66 270.81h0M655.81 272.38h0M653.71 267.96h0M655.68 272.51h0M653.58 267.84h0M655.17 276.04h0M657.36 269.23h0M652.8 271.54h0M656.42 266.51h0M654.44 266.32h0M654.35 272.56h0M657.36 265.99h0M652.96 274.89h0M654.73 270.31h0M654.59 265.23h0M653.31 267.97h0M652.79 275.16h0M655.34 271.56h0M657.86 266.39h0M656.12 268.51h0M657.07 274.79h0M653.72 267.94h0M653.02 269.47h0M652.91 268.81h0M657.1 269.91h0M654.59 270.43h0M656.41 273.93h0M655.81 272.67h0M657.05 261.12h0M654.45 273.49h0M657.53 271.25h0M656.91 266.49h0M653.38 269.05h0M655.42 267.55h0M656.51 265.13h0M656.33 271.6h0M653.17 266.1h0M653.42 266.64h0M654.51 266.7h0M653.98 272.1h0M655.58 265.71h0M655.09 272.33h0M656.37 272.86h0M655.26 274.59h0M653.62 264.85h0M657.8 267.21h0M656.02 272.29h0" stroke="#00B0F6" stroke-opacity="0.65" stroke-width="1.25" stroke-linecap="round" fill="none"/><path d="M671.69 268.71h0M674.96 275.53h0M675.38 263.83h0M673.76 266.45h0M674.58 267.58h0M674.77 265.13h0M673.61 270.91h0M676.07 271.06h0M673.34 268.58h0M673.82 272.73h0M675.47 274h0M675.45 268.02h0M675.9 264.91h0M672.75 269.58h0M675.38 266.32h0M674.97 274.67h0M672.52 264.31h0M671.74 264.81h0M673.5 271.81h0M671.68 266.7h0M672.01 266.7h0M674.58 268.3h0M671.13 269h0M671.45 272.63h0M671.5 262.52h0M673.37 271.32h0M673.71 266.69h0M676.12 269.12h0M675.1 269.52h0M674.23 273.24h0M671.93 272.52h0M672.99 267.26h0M671.73 268.34h0M671.85 271.65h0" stroke="#E76BF3" stroke-opacity="0.65" stroke-width="1.25" stroke-linecap="round" fill="none"/><path d="M637 194.5V193.6H673.54V194.5M637 198.4V197.5H655.27V198.4M618.73 202.4V201.5H673.54V202.4M618.73 206.3V205.4H655.27V206.3M618.73 210.3V209.4H637V210.3M600.46 214.1V213.2H673.54V214.1M600.46 217.8V216.9H655.27V217.8M600.46 221.7V220.8H637V221.7M600.46 225.6V224.7H618.73V225.6" stroke="#777" stroke-width="0.6" fill="none"/><g font-size="4.2" fill="#777" stroke="none" style="stroke:none" text-anchor="middle"><text x="655.27" y="193.5">*</text><text x="646.13" y="197.4">**</text><text x="646.13" y="201.4">****</text><text x="637" y="205.3">****</text><text x="627.87" y="209.3">****</text><text x="637" y="213.1">****</text><text x="627.87" y="216.8">****</text><text x="618.73" y="220.7">****</text><text x="609.6" y="224.6">**</text></g><rect x="589.5" y="188.45" width="95" height="119.05" fill="none" stroke="#a8a8a8" stroke-width="0.85"/><path d="M600.46 307.5v1.3M618.73 307.5v1.3M637 307.5v1.3M655.27 307.5v1.3M673.54 307.5v1.3M589.5 305.5h-1.3M589.5 266.75h-1.3M589.5 228.25h-1.3M589.5 189.25h-1.3" stroke="#333" stroke-width="0.5"/><g font-size="7.3" fill="#1a1a1a" text-anchor="end"><text x="585.8" y="308">120</text><text x="585.8" y="269.25">140</text><text x="585.8" y="230.75">160</text><text x="585.8" y="191.75">180</text></g><g font-size="7.2" fill="#1a1a1a" text-anchor="end"><text transform="translate(599.06 309.6) rotate(-45)" x="0" y="5.18">Admission</text><text transform="translate(617.33 309.6) rotate(-45)" x="0" y="5.18">Discharge</text><text transform="translate(635.6 309.6) rotate(-45)" x="0" y="5.18">First follow-up</text><text transform="translate(653.87 309.6) rotate(-45)" x="0" y="5.18">Second follow-up</text><text transform="translate(672.14 309.6) rotate(-45)" x="0" y="5.18">Third follow-up</text></g><text transform="translate(568.05 247.5) rotate(-90)" x="0" y="0" font-size="7.2" fill="#1a1a1a" text-anchor="middle">Sodium (135-143 mmol/L)</text></g>
<g><path d="M37 488.5H132.5M37 466.75H132.5M37 445H132.5M37 423.75H132.5M37 401.75H132.5M37 380H132.5M37 390.88H132.5M37 412.62H132.5M37 434.38H132.5M37 456.12H132.5M37 477.88H132.5M48.02 376.4V495.2M66.38 376.4V495.2M84.75 376.4V495.2M103.12 376.4V495.2M121.48 376.4V495.2" stroke="#ededed" stroke-width="0.6" fill="none"/><path d="M37 429.5H132.5" stroke="#cccccc" stroke-width="0.8"/><path d="M37 456.25H132.5" stroke="#999" stroke-width="0.6" stroke-dasharray="1.2 1.2"/><path d="M48.02 460.92L66.38 459.51L84.75 438.57L103.12 432.53L121.48 431.34M48.02 433.84L66.38 453.44L84.75 450.78L103.12 434.22L121.48 421.99M48.02 438.45L66.38 450.23L84.75 429.69L103.12 428.91L121.48 424.84M48.02 451.35L66.38 424.94L84.75 442.01L103.12 432.04L121.48 427.5M48.02 455.67L66.38 467.96L84.75 443.49L103.12 433.8L121.48 426.46M48.02 481.13L66.38 462.9L84.75 442.09L103.12 436.94L121.48 432.13M48.02 432.63L66.38 452.83L84.75 429.36L103.12 432.29L121.48 421.06M48.02 431.64L66.38 456.7L84.75 438.99L103.12 428.74L121.48 431.46M48.02 450.8L66.38 469.74L84.75 454.85L103.12 432.78L121.48 435.11M48.02 471.5L66.38 459.42L84.75 443.49L103.12 427.7L121.48 426.73M48.02 437.48L66.38 445.51L84.75 427.48L103.12 430.54L121.48 426.25M48.02 478.48L66.38 467.1L84.75 448.44L103.12 436.88L121.48 430.38M48.02 471.32L66.38 461.09L84.75 449.41L103.12 432.5L121.48 429.34M48.02 451.81L66.38 449.41L84.75 436.54L103.12 436.23L121.48 433.17M48.02 462.64L66.38 460.6L84.75 432.04L103.12 434.45L121.48 436.14M48.02 461.09L66.38 453.52L84.75 439.85L103.12 432.55L121.48 421.67M48.02 466.81L66.38 463.01L84.75 443.81L103.12 432.67L121.48 422.66M48.02 464.09L66.38 456.95L84.75 435.93L103.12 432.94L121.48 429.36M48.02 466.97L66.38 461.26L84.75 437.11L103.12 432.23L121.48 434.16M48.02 475.48L66.38 460.67L84.75 447.31L103.12 436.55L121.48 420.52M48.02 451.88L66.38 453.92L84.75 446.37L103.12 435.94L121.48 422M48.02 445.56L66.38 453.85L84.75 432.28L103.12 432.69L121.48 421.25M48.02 462.16L66.38 465.5L84.75 441.09L103.12 436.45L121.48 437.19M48.02 479.9L66.38 467.01L84.75 449.4L103.12 437.49L121.48 435.59M48.02 481.45L66.38 450.51L84.75 437.37L103.12 432.79L121.48 430.97M48.02 477.06L66.38 465.46L84.75 446.06L103.12 435.16L121.48 436.51M48.02 461.81L66.38 449.5L84.75 437.04L103.12 430.5L121.48 429.09M48.02 451.8L66.38 449.07L84.75 429.16L103.12 440.24L121.48 427.45M48.02 460.85L66.38 455.31L84.75 444.03L103.12 435.08L121.48 431.72M48.02 439.44L66.38 456.57L84.75 435.14L103.12 428.39L121.48 425.76M48.02 459.29L66.38 454.47L84.75 441.76L103.12 432.6L121.48 428.45M48.02 462.66L66.38 452.66L84.75 457.57L103.12 433.53L121.48 433.32M48.02 431.03L66.38 453.46L84.75 461.11L103.12 432.14L121.48 430.31M48.02 455.7L66.38 461.89L84.75 436.89L103.12 436.55L121.48 438.17M48.02 434.51L66.38 438.17L84.75 433L103.12 427.87M48.02 467.63L66.38 464.84L84.75 446.81L103.12 432.97M48.02 470.13L66.38 456.66L84.75 454.48L103.12 432.6M48.02 486.58L66.38 464.94L84.75 441.26L103.12 432.62M48.02 464.89L66.38 467.42L84.75 448.22L103.12 429.6M48.02 482.12L66.38 467.04L84.75 445.51L103.12 433.46M48.02 465.88L66.38 457.43L84.75 450.16L103.12 438.82M48.02 465.98L66.38 455.12L84.75 440.5L103.12 430.84M48.02 471.91L66.38 463.57L84.75 445.54L103.12 433.01M48.02 475.96L66.38 463.33L84.75 458.52L103.12 435.99M48.02 446.94L66.38 450.77L84.75 437.43L103.12 432.47M48.02 469.6L66.38 456.69L84.75 440.35L103.12 422.09M48.02 460.15L66.38 467.2L84.75 456.34L103.12 432.48M48.02 445.7L66.38 461.85L84.75 437.84L103.12 434.61M48.02 469.19L66.38 466.66L84.75 448.32L103.12 439.62M48.02 476.44L66.38 460.9L84.75 453.9L103.12 436.79M48.02 482.97L66.38 468.87L84.75 446.05M48.02 453.89L66.38 460.23L84.75 449.42M48.02 481.09L66.38 462.65L84.75 451.22M48.02 438.79L66.38 435.84L84.75 446.29M48.02 448.49L66.38 456.04L84.75 437.32M48.02 470.49L66.38 465.5L84.75 454.63M48.02 469.43L66.38 462.12L84.75 447.58M48.02 448.15L66.38 455.64L84.75 432.15M48.02 453.17L66.38 474.22L84.75 460.99M48.02 447.75L66.38 465.09L84.75 427.34M48.02 451.14L66.38 469.62L84.75 446.66M48.02 466.38L66.38 463.85L84.75 454.16M48.02 461.59L66.38 467.9L84.75 436.64M48.02 472.25L66.38 451.56L84.75 450.6M48.02 484.57L66.38 465.72L84.75 450.83M48.02 484.84L66.38 455.05L84.75 449.68M48.02 434.45L66.38 463.36L84.75 431.94M48.02 462.37L66.38 464.16L84.75 449.97M48.02 462.09L66.38 462.55L84.75 439.45M48.02 437.05L66.38 450.18L84.75 443.38M48.02 472.33L66.38 461.2L84.75 455.65M48.02 468.64L66.38 468.41L84.75 448.03M48.02 455.28L66.38 459.87L84.75 451.79M48.02 453.1L66.38 461.15L84.75 430.58M48.02 478.63L66.38 473.95L84.75 460.83M48.02 466.19L66.38 461.72L84.75 445.44M48.02 456.94L66.38 458.94L84.75 448.03M48.02 455.72L66.38 477.31L84.75 441.42M48.02 455.88L66.38 456.66L84.75 442.42M48.02 432.28L66.38 456.56L84.75 437.09M48.02 435.59L66.38 451.68M48.02 458.37L66.38 456.96M48.02 483.97L66.38 459.3M48.02 434.7L66.38 460.58M48.02 451.37L66.38 447.56M48.02 434.27L66.38 455.48M48.02 436.81L66.38 459M48.02 488.25L66.38 464.33M48.02 471.92L66.38 471.9M48.02 431.92L66.38 458.06M48.02 489.13L66.38 455.28M48.02 459.76L66.38 466.14M48.02 457.33L66.38 462.87M48.02 460.03L66.38 459.83M48.02 454.52L66.38 457.94M48.02 482.33L66.38 469.24M48.02 474.39L66.38 464.84M48.02 482.04L66.38 465.82M48.02 460.74L66.38 448.57M48.02 456.64L66.38 454.07M48.02 467.92L66.38 461.86M48.02 445.03L66.38 457.26M48.02 472.57L66.38 474.52M48.02 484.07L66.38 460.81M48.02 448.86L66.38 475.19M48.02 473.48L66.38 464.75M48.02 469.54L66.38 458.37M48.02 453.83L66.38 464.53M48.02 467.02L66.38 470.17M48.02 471.88L66.38 473.03" stroke="#444" stroke-opacity="0.16" stroke-width="0.45" fill="none"/><path d="M48.02 432.3V453.2M48.02 472.3V489.4" stroke="#555" stroke-width="0.6"/><rect x="41.13" y="453.2" width="13.77" height="19.1" fill="#F8766D" fill-opacity="0.35" stroke="#333" stroke-opacity="0.75" stroke-width="0.5"/><path d="M41.13 462.3H54.91" stroke="#333" stroke-width="0.8"/><path d="M66.38 445V456.7M66.38 465.5V477.5" stroke="#555" stroke-width="0.6"/><rect x="59.5" y="456.7" width="13.77" height="8.8" fill="#A3A500" fill-opacity="0.35" stroke="#333" stroke-opacity="0.75" stroke-width="0.5"/><path d="M59.5 461.3H73.27" stroke="#333" stroke-width="0.8"/><path d="M84.75 427.3V437.5M84.75 449.4V461.3" stroke="#555" stroke-width="0.6"/><rect x="77.86" y="437.5" width="13.77" height="11.9" fill="#00BF7D" fill-opacity="0.35" stroke="#333" stroke-opacity="0.75" stroke-width="0.5"/><path d="M77.86 444.2H91.64" stroke="#333" stroke-width="0.8"/><path d="M103.12 426.3V432.3M103.12 436.5V440.3" stroke="#555" stroke-width="0.6"/><rect x="96.23" y="432.3" width="13.77" height="4.2" fill="#00B0F6" fill-opacity="0.35" stroke="#333" stroke-opacity="0.75" stroke-width="0.5"/><path d="M96.23 434H110" stroke="#333" stroke-width="0.8"/><path d="M121.48 421.4V429.1M121.48 436.1V438.2" stroke="#555" stroke-width="0.6"/><rect x="114.59" y="429.1" width="13.77" height="7" fill="#E76BF3" fill-opacity="0.35" stroke="#333" stroke-opacity="0.75" stroke-width="0.5"/><path d="M114.59 432.3H128.37" stroke="#333" stroke-width="0.8"/><path d="M47.45 460.92h0M46.64 433.84h0M50.46 438.45h0M45.38 451.35h0M50.43 455.67h0M49.8 481.13h0M49.29 432.63h0M47.13 431.64h0M49.18 450.8h0M45.89 471.5h0M47.05 437.48h0M48.32 478.48h0M49.59 471.32h0M49.46 451.81h0M46.04 462.64h0M50.43 461.09h0M45.45 466.81h0M48.22 464.09h0M47.85 466.97h0M46.56 475.48h0M45.66 451.88h0M48.13 445.56h0M46.78 462.16h0M46.57 479.9h0M49.08 481.45h0M47.03 477.06h0M47.86 461.81h0M50.06 451.8h0M46.08 460.85h0M48.63 439.44h0M47.43 459.29h0M49.86 462.66h0M49.14 431.03h0M50.71 455.7h0M49.1 434.51h0M49.19 467.63h0M49.84 470.13h0M46.29 486.58h0M45.37 464.89h0M46.19 482.12h0M49.78 465.88h0M48.4 465.98h0M47.74 471.91h0M50.58 475.96h0M48.64 446.94h0M48.48 469.6h0M47.95 460.15h0M46.15 445.7h0M49.69 469.19h0M48.86 476.44h0M50.41 482.97h0M47.56 453.89h0M47.22 481.09h0M49.58 438.79h0M46.96 448.49h0M47.03 470.49h0M49.89 469.43h0M49.17 448.15h0M47.77 453.17h0M50.14 447.75h0M45.77 451.14h0M46.63 466.38h0M48.34 461.59h0M49.21 472.25h0M49.07 484.57h0M48.01 484.84h0M46.67 434.45h0M50.51 462.37h0M46.43 462.09h0M47.74 437.05h0M45.81 472.33h0M45.73 468.64h0M50.59 455.28h0M49.76 453.1h0M48.1 478.63h0M48.98 466.19h0M49.94 456.94h0M48.09 455.72h0M48.12 455.88h0M48.54 432.28h0M49.48 435.59h0M45.89 458.37h0M49.89 483.97h0M47.47 434.7h0M49.49 451.37h0M50.31 434.27h0M46.94 436.81h0M46.15 488.25h0M47.02 471.92h0M48.67 431.92h0M49.99 489.13h0M46.41 459.76h0M46.13 457.33h0M47.47 460.03h0M50.6 454.52h0M49.29 482.33h0M46.07 474.39h0M49.88 482.04h0M48.05 460.74h0M48.86 456.64h0M47.68 467.92h0M46.38 445.03h0M47.46 472.57h0M47.42 484.07h0M50.34 448.86h0M47.49 473.48h0M49.58 469.54h0M50.72 453.83h0M48.51 467.02h0M49.39 471.88h0M46.96 468.86h0M47.58 448.67h0M45.83 467.25h0M46.7 435.95h0M50.28 454.67h0" stroke="#F8766D" stroke-opacity="0.65" stroke-width="1.25" stroke-linecap="round" fill="none"/><path d="M68.15 459.51h0M64.93 453.44h0M68.93 450.23h0M65.83 424.94h0M68.81 467.96h0M68.61 462.9h0M64.48 452.83h0M67.76 456.7h0M68.29 469.74h0M67.78 459.42h0M65.64 445.51h0M64.07 467.1h0M67.9 461.09h0M65.02 449.41h0M67.58 460.6h0M68.28 453.52h0M64.01 463.01h0M67.51 456.95h0M63.73 461.26h0M65.5 460.67h0M67.51 453.92h0M64.23 453.85h0M64.6 465.5h0M68 467.01h0M67.59 450.51h0M65.3 465.46h0M65.54 449.5h0M65.4 449.07h0M65.18 455.31h0M66.36 456.57h0M67.03 454.47h0M66.84 452.66h0M67.37 453.46h0M63.91 461.89h0M65.28 438.17h0M68.04 464.84h0M65.63 456.66h0M67.88 464.94h0M67.97 467.42h0M66.76 467.04h0M63.72 457.43h0M66.48 455.12h0M67.03 463.57h0M66 463.33h0M67.81 450.77h0M64.93 456.69h0M65.79 467.2h0M64.67 461.85h0M68.56 466.66h0M67.49 460.9h0M64.71 468.87h0M67.83 460.23h0M64.96 462.65h0M68.24 435.84h0M65.4 456.04h0M67.94 465.5h0M65.41 462.12h0M68.72 455.64h0M65.39 474.22h0M66.73 465.09h0M68.63 469.62h0M67.05 463.85h0M68.7 467.9h0M67.61 451.56h0M66.52 465.72h0M68.51 455.05h0M68.38 463.36h0M68.84 464.16h0M68.33 462.55h0M63.97 450.18h0M64.36 461.2h0M68.65 468.41h0M65.39 459.87h0M63.71 461.15h0M69.05 473.95h0M68.87 461.72h0M63.86 458.94h0M68.75 477.31h0M67.7 456.66h0M67.08 456.56h0M64.32 451.68h0M64.31 456.96h0M65.83 459.3h0M65.38 460.58h0M68.35 447.56h0M66.94 455.48h0M63.9 459h0M66.54 464.33h0M68.34 471.9h0M66.15 458.06h0M66.27 455.28h0M68.66 466.14h0M68.92 462.87h0M66.41 459.83h0M68.47 457.94h0M67.76 469.24h0M68.86 464.84h0M66.58 465.82h0M65.89 448.57h0M66.62 454.07h0M67.62 461.86h0M65.79 457.26h0M68.37 474.52h0M66.52 460.81h0M67.03 475.19h0M68.5 464.75h0M64.45 458.37h0M65.42 464.53h0M67.47 470.17h0M65.17 473.03h0" stroke="#A3A500" stroke-opacity="0.65" stroke-width="1.25" stroke-linecap="round" fill="none"/><path d="M86.47 438.57h0M83.72 450.78h0M86.6 429.69h0M87.36 442.01h0M85.13 443.49h0M82.08 442.09h0M84.32 429.36h0M82.25 438.99h0M83.44 454.85h0M84.25 443.49h0M84.31 427.48h0M85.34 448.44h0M83.83 449.41h0M84.33 436.54h0M82.18 432.04h0M87.11 439.85h0M87.1 443.81h0M84.82 435.93h0M83.89 437.11h0M86.2 447.31h0M87.21 446.37h0M86.98 432.28h0M84.68 441.09h0M86.31 449.4h0M85.47 437.37h0M82.93 446.06h0M82.87 437.04h0M87.14 429.16h0M85.87 444.03h0M85.95 435.14h0M82.3 441.76h0M85.71 457.57h0M87.11 461.11h0M83.64 436.89h0M86.42 433h0M82.86 446.81h0M82.81 454.48h0M82.89 441.26h0M82.89 448.22h0M85.72 445.51h0M82.63 450.16h0M87.05 440.5h0M82.89 445.54h0M84.68 458.52h0M85.28 437.43h0M83.72 440.35h0M83.37 456.34h0M82.48 437.84h0M82.72 448.32h0M83.57 453.9h0M85.21 446.05h0M84.9 449.42h0M86.5 451.22h0M83.1 446.29h0M84.49 437.32h0M84.34 454.63h0M82.89 447.58h0M82.24 432.15h0M87.4 460.99h0M83.87 427.34h0M83.24 446.66h0M85.47 454.16h0M87.15 436.64h0M86.27 450.6h0M85.48 450.83h0M86.03 449.68h0M86.79 431.94h0M87.36 449.97h0M87.07 439.45h0M83.29 443.38h0M83.21 455.65h0M86.13 448.03h0M86.69 451.79h0M87.44 430.58h0M87.2 460.83h0M85.04 445.44h0M82.32 448.03h0M85.6 441.42h0M82.82 442.42h0M82.77 437.09h0" stroke="#00BF7D" stroke-opacity="0.65" stroke-width="1.25" stroke-linecap="round" fill="none"/><path d="M103.52 432.53h0M105.43 434.22h0M100.57 428.91h0M102.3 432.04h0M104.64 433.8h0M105.24 436.94h0M103.27 432.29h0M101.56 428.74h0M103.61 432.78h0M103.06 427.7h0M104.85 430.54h0M103.74 436.88h0M105.73 432.5h0M101.4 436.23h0M101.24 434.45h0M105.53 432.55h0M103.08 432.67h0M101.7 432.94h0M102.35 432.23h0M104.03 436.55h0M103.06 435.94h0M100.92 432.69h0M103.04 436.45h0M102.75 437.49h0M102.15 432.79h0M103.86 435.16h0M105.49 430.5h0M101.22 440.24h0M103.32 435.08h0M105.78 428.39h0M103.6 432.6h0M100.52 433.53h0M102.96 432.14h0M101 436.55h0M102.54 427.87h0M100.93 432.97h0M105.62 432.6h0M101.98 432.62h0M103.48 429.6h0M103.57 433.46h0M105.55 438.82h0M102.37 430.84h0M105.09 433.01h0M105.1 435.99h0M101.47 432.47h0M101.62 422.09h0M104.77 432.48h0M103.42 434.61h0M103.28 439.62h0M104.31 436.79h0" stroke="#00B0F6" stroke-opacity="0.65" stroke-width="1.25" stroke-linecap="round" fill="none"/><path d="M118.84 431.34h0M124.05 421.99h0M120.55 424.84h0M120.58 427.5h0M121.75 426.46h0M120.95 432.13h0M120.72 421.06h0M119.27 431.46h0M123.07 435.11h0M122.52 426.73h0M122.22 426.25h0M120.26 430.38h0M120.54 429.34h0M123.36 433.17h0M124.06 436.14h0M119.35 421.67h0M120.65 422.66h0M119.6 429.36h0M121.75 434.16h0M120.27 420.52h0M122.3 422h0M119.54 421.25h0M120.94 437.19h0M120.23 435.59h0M123.43 430.97h0M122.84 436.51h0M123.2 429.09h0M123.74 427.45h0M122.25 431.72h0M119.93 425.76h0M120.75 428.45h0M119.55 433.32h0M120.3 430.31h0M120.49 438.17h0" stroke="#E76BF3" stroke-opacity="0.65" stroke-width="1.25" stroke-linecap="round" fill="none"/><path d="M48.02 410.4V409.5H84.75V410.4M48.02 406.4V405.5H103.12V406.4M48.02 402.4V401.5H121.48V402.4M66.38 398.9V398H84.75V398.9M66.38 394.65V393.75H103.12V394.65M66.38 390.4V389.5H121.48V390.4M84.75 386.4V385.5H103.12V386.4M84.75 382.15V381.25H121.48V382.15" stroke="#777" stroke-width="0.6" fill="none"/><g font-size="4.2" fill="#777" stroke="none" style="stroke:none" text-anchor="middle"><text x="66.38" y="409.4">***</text><text x="75.57" y="405.4">****</text><text x="84.75" y="401.4">****</text><text x="75.57" y="397.9">****</text><text x="84.75" y="393.65">****</text><text x="93.93" y="389.4">****</text><text x="93.93" y="385.4">****</text><text x="103.12" y="381.15">****</text></g><rect x="37" y="376.4" width="95.5" height="118.8" fill="none" stroke="#a8a8a8" stroke-width="0.85"/><path d="M48.02 495.2v1.3M66.38 495.2v1.3M84.75 495.2v1.3M103.12 495.2v1.3M121.48 495.2v1.3M37 488.5h-1.3M37 466.75h-1.3M37 445h-1.3M37 423.75h-1.3M37 401.75h-1.3M37 380h-1.3" stroke="#333" stroke-width="0.5"/><g font-size="7.3" fill="#1a1a1a" text-anchor="end"><text x="33.6" y="491">20</text><text x="33.6" y="469.25">30</text><text x="33.6" y="447.5">40</text><text x="33.6" y="426.25">50</text><text x="33.6" y="404.25">60</text><text x="33.6" y="382.5">70</text></g><g font-size="7.2" fill="#1a1a1a" text-anchor="end"><text transform="translate(46.62 498.2) rotate(-45)" x="0" y="5.18">Admission</text><text transform="translate(64.98 498.2) rotate(-45)" x="0" y="5.18">Discharge</text><text transform="translate(83.35 498.2) rotate(-45)" x="0" y="5.18">First follow-up</text><text transform="translate(101.72 498.2) rotate(-45)" x="0" y="5.18">Second follow-up</text><text transform="translate(120.08 498.2) rotate(-45)" x="0" y="5.18">Third follow-up</text></g><text transform="translate(12.9 435.5) rotate(-90)" x="0" y="0" font-size="7.2" fill="#1a1a1a" text-anchor="middle">Albumin (35-47 g/L)</text></g>
<g><path d="M169.25 490.75H265M169.25 469.5H265M169.25 448.75H265M169.25 427.5H265M169.25 406.5H265M169.25 385.5H265M169.25 396H265M169.25 417H265M169.25 438H265M169.25 459H265M169.25 480H265M180.3 376.4V495.2M198.71 376.4V495.2M217.12 376.4V495.2M235.54 376.4V495.2M253.95 376.4V495.2" stroke="#ededed" stroke-width="0.6" fill="none"/><path d="M180.3 470.13L198.71 481.76L217.12 479.12L235.54 481.33L253.95 475.87M180.3 480.75L198.71 484.9L217.12 481.57L235.54 483.87L253.95 482.38M180.3 487.11L198.71 485.54L217.12 484.68L235.54 481.79L253.95 484M180.3 487.95L198.71 483.7L217.12 483.23L235.54 482.55L253.95 479.63M180.3 478.19L198.71 480.85L217.12 478.07L235.54 484.04L253.95 475.38M180.3 483.96L198.71 480.9L217.12 481.58L235.54 484.72L253.95 483.89M180.3 484.37L198.71 480.58L217.12 477.89L235.54 480.6L253.95 475.02M180.3 484.46L198.71 480.89L217.12 483.66L235.54 475.02L253.95 483.17M180.3 479.59L198.71 479.9L217.12 485.06L235.54 480.07L253.95 482.64M180.3 480.69L198.71 478.72L217.12 481.25L235.54 480.87L253.95 482.59M180.3 486.15L198.71 485.56L217.12 483.01L235.54 479.27L253.95 484.02M180.3 485.41L198.71 483.62L217.12 483.92L235.54 485.01L253.95 478.69M180.3 478.85L198.71 482.54L217.12 482.18L235.54 484.06L253.95 476.15M180.3 479.24L198.71 483.77L217.12 481.6L235.54 476.4L253.95 480.04M180.3 481.46L198.71 484.94L217.12 484.79L235.54 485.08L253.95 484.5M180.3 475.59L198.71 478.15L217.12 481.39L235.54 481.06L253.95 482.34M180.3 471.78L198.71 479.48L217.12 483.09L235.54 478.64L253.95 481.17M180.3 479.23L198.71 484.87L217.12 480.94L235.54 481.52L253.95 484.31M180.3 480.71L198.71 481.18L217.12 484.06L235.54 475.55L253.95 481.38M180.3 474.47L198.71 482.25L217.12 483.11L235.54 480.93L253.95 477.05M180.3 487.22L198.71 484.93L217.12 486.22L235.54 484.68L253.95 484.09M180.3 484.91L198.71 485.93L217.12 485.01L235.54 486.06L253.95 484.95M180.3 477.5L198.71 481.37L217.12 477.87L235.54 481.52L253.95 478.59M180.3 481.8L198.71 480.69L217.12 482.18L235.54 484.4L253.95 481.4M180.3 483.08L198.71 484.73L217.12 483.69L235.54 484.11L253.95 483.6M180.3 472.42L198.71 480.31L217.12 481.37L235.54 477.34L253.95 480.06M180.3 473.84L198.71 480.22L217.12 482.08L235.54 481.18L253.95 480.72M180.3 484.45L198.71 482.94L217.12 484L235.54 483.14L253.95 485.08M180.3 481L198.71 481.4L217.12 480.74L235.54 477.46L253.95 475.72M180.3 469.82L198.71 480.54L217.12 481.35L235.54 481.84L253.95 480.75M180.3 473.95L198.71 477.85L217.12 481.99L235.54 480.79L253.95 482.7M180.3 480.47L198.71 485.02L217.12 483.71L235.54 482.23L253.95 477.83M180.3 481.76L198.71 485.48L217.12 485.26L235.54 485.73L253.95 484.94M180.3 469.65L198.71 476.96L217.12 480.38L235.54 486.47L253.95 483.02M180.3 480.69L198.71 476.66L217.12 482.62L235.54 483.84M180.3 482.35L198.71 482.48L217.12 488.83L235.54 482.04M180.3 486.83L198.71 484.11L217.12 483.29L235.54 480.34M180.3 484.61L198.71 485.72L217.12 484.4L235.54 484.01M180.3 483.76L198.71 481.1L217.12 487.91L235.54 480.34M180.3 485.11L198.71 485.83L217.12 482.72L235.54 485.47M180.3 404L198.71 482.56L217.12 484.44L235.54 485.44M180.3 478.61L198.71 477.16L217.12 481.6L235.54 480.46M180.3 486.94L198.71 482.96L217.12 481.71L235.54 484.53M180.3 485.09L198.71 480.12L217.12 488.07L235.54 483.01M180.3 478.08L198.71 476.99L217.12 482.45L235.54 477.27M180.3 482.64L198.71 482.34L217.12 480L235.54 480.06M180.3 484.95L198.71 480.49L217.12 483.81L235.54 482.29M180.3 474.37L198.71 476.02L217.12 483.68L235.54 481.38M180.3 479.36L198.71 476.74L217.12 479.42L235.54 475.05M180.3 476.08L198.71 476.4L217.12 477.61L235.54 475.5M180.3 478.2L198.71 480.94L217.12 481.68M180.3 478.46L198.71 484.24L217.12 484.83M180.3 484.52L198.71 478.4L217.12 480.78M180.3 427.5L198.71 481.34L217.12 484.44M180.3 484.99L198.71 483.72L217.12 483.77M180.3 486.77L198.71 485.1L217.12 488.08M180.3 478.06L198.71 479.86L217.12 479.39M180.3 473.48L198.71 477.68L217.12 477.5M180.3 477.81L198.71 483.91L217.12 482.91M180.3 462.19L198.71 481.02L217.12 489.23M180.3 478.01L198.71 480.83L217.12 481.56M180.3 474.73L198.71 477.46L217.12 480.51M180.3 469.7L198.71 478.63L217.12 481.6M180.3 478.28L198.71 476.7L217.12 481.81M180.3 483.93L198.71 483.91L217.12 482.75M180.3 483.06L198.71 483.92L217.12 478.54M180.3 482.05L198.71 482.12L217.12 479.74M180.3 474.93L198.71 484.93L217.12 481.83M180.3 485.53L198.71 483.48L217.12 483.44M180.3 484.97L198.71 484.71L217.12 483.9M180.3 463.39L198.71 476.18L217.12 477.92M180.3 485.06L198.71 484L217.12 482.85M180.3 485.15L198.71 484.77L217.12 484.8M180.3 479.93L198.71 483.44L217.12 483.59M180.3 476.18L198.71 480.84L217.12 480.42M180.3 478.25L198.71 483.68L217.12 477.42M180.3 476.02L198.71 483.88L217.12 479.85M180.3 482.2L198.71 486.22L217.12 484.26M180.3 486.83L198.71 484.66L217.12 484.76M180.3 481.43L198.71 485.45L217.12 481.78M180.3 470.79L198.71 480.85M180.3 480.31L198.71 485.48M180.3 482.72L198.71 482.78M180.3 479.61L198.71 483.54M180.3 481.7L198.71 482.8M180.3 484.94L198.71 484.88M180.3 466.36L198.71 483.49M180.3 485.11L198.71 484.23M180.3 486.93L198.71 486.47M180.3 481.82L198.71 486.25M180.3 460.74L198.71 480.85M180.3 485.02L198.71 484.9M180.3 487.33L198.71 483.76M180.3 473.09L198.71 481.08M180.3 485.55L198.71 477.8M180.3 482.1L198.71 485.83M180.3 480.52L198.71 481.78M180.3 476.91L198.71 477.58M180.3 479.75L198.71 482.04M180.3 472.98L198.71 481.02M180.3 471.73L198.71 483.55M180.3 480.37L198.71 484.93M180.3 475.4L198.71 481.78M180.3 478.22L198.71 480.75M180.3 478.39L198.71 484.94M180.3 477.97L198.71 479.1M180.3 476.95L198.71 481.87M180.3 485.71L198.71 484.75M180.3 468.96L198.71 481.44M180.3 484.91L198.71 486.48" stroke="#444" stroke-opacity="0.16" stroke-width="0.45" fill="none"/><path d="M180.3 466.9V477.8M180.3 484.9V488" stroke="#555" stroke-width="0.6"/><rect x="173.39" y="477.8" width="13.81" height="7.1" fill="#F8766D" fill-opacity="0.35" stroke="#333" stroke-opacity="0.75" stroke-width="0.5"/><path d="M173.39 480.9H187.2" stroke="#333" stroke-width="0.8"/><path d="M198.71 476.7V480.9M198.71 484.9V486.5" stroke="#555" stroke-width="0.6"/><rect x="191.81" y="480.9" width="13.81" height="4" fill="#A3A500" fill-opacity="0.35" stroke="#333" stroke-opacity="0.75" stroke-width="0.5"/><path d="M191.81 482.75H205.62" stroke="#333" stroke-width="0.8"/><path d="M217.12 477.4V481.6M217.12 485.1V489.3" stroke="#555" stroke-width="0.6"/><rect x="210.22" y="481.6" width="13.81" height="3.5" fill="#00BF7D" fill-opacity="0.35" stroke="#333" stroke-opacity="0.75" stroke-width="0.5"/><path d="M210.22 483.5H224.03" stroke="#333" stroke-width="0.8"/><path d="M235.54 475.7V480.6M235.54 484.7V486.5" stroke="#555" stroke-width="0.6"/><rect x="228.63" y="480.6" width="13.81" height="4.1" fill="#00B0F6" fill-opacity="0.35" stroke="#333" stroke-opacity="0.75" stroke-width="0.5"/><path d="M228.63 482.3H242.44" stroke="#333" stroke-width="0.8"/><path d="M253.95 476V480.2M253.95 484V485.1" stroke="#555" stroke-width="0.6"/><rect x="247.05" y="480.2" width="13.81" height="3.8" fill="#E76BF3" fill-opacity="0.35" stroke="#333" stroke-opacity="0.75" stroke-width="0.5"/><path d="M247.05 482.3H260.86" stroke="#333" stroke-width="0.8"/><path d="M179.84 470.13h0M182.47 480.75h0M179.85 487.11h0M181.91 487.95h0M181.23 478.19h0M182.16 483.96h0M182.33 484.37h0M177.89 484.46h0M180.32 479.59h0M179.57 480.69h0M179.32 486.15h0M178.47 485.41h0M178.61 478.85h0M180 479.24h0M180.48 481.46h0M180.98 475.59h0M180.97 471.78h0M179.71 479.23h0M180.58 480.71h0M181.27 474.47h0M181.34 487.22h0M179.33 484.91h0M180.3 477.5h0M179.51 481.8h0M177.6 483.08h0M179.2 472.42h0M180.77 473.84h0M181.23 484.45h0M177.69 481h0M181.49 469.82h0M179.39 473.95h0M178.32 480.47h0M179.17 481.76h0M181.71 469.65h0M178.74 480.69h0M178.93 482.35h0M182.93 486.83h0M178.6 484.61h0M182.34 483.76h0M180.99 485.11h0M179.36 404h0M181.47 478.61h0M180.09 486.94h0M179.87 485.09h0M178.97 478.08h0M178.92 482.64h0M181.52 484.95h0M178.35 474.37h0M181.7 479.36h0M179.46 476.08h0M181.43 478.2h0M179.19 478.46h0M182.05 484.52h0M180.54 427.5h0M181.79 484.99h0M178.35 486.77h0M181.71 478.06h0M180.62 473.48h0M179.96 477.81h0M182.57 462.19h0M180.48 478.01h0M182.31 474.73h0M180.62 469.7h0M178.79 478.28h0M178.24 483.93h0M180.88 483.06h0M180.57 482.05h0M180.4 474.93h0M178.86 485.53h0M180.41 484.97h0M181.25 463.39h0M179.74 485.06h0M182.52 485.15h0M178.23 479.93h0M182.02 476.18h0M182.76 478.25h0M182.53 476.02h0M178.75 482.2h0M178.5 486.83h0M179.23 481.43h0M182.66 470.79h0M182.02 480.31h0M178.63 482.72h0M182.33 479.61h0M180.61 481.7h0M180.51 484.94h0M182.84 466.36h0M181.85 485.11h0M179.41 486.93h0M178.12 481.82h0M182.74 460.74h0M181.11 485.02h0M179.5 487.33h0M178.52 473.09h0M180.44 485.55h0M181.99 482.1h0M178.08 480.52h0M180.69 476.91h0M181.89 479.75h0M179.03 472.98h0M178.24 471.73h0M179.82 480.37h0M178.05 475.4h0M180.95 478.22h0M179.76 478.39h0M180.93 477.97h0M179.83 476.95h0M179.94 485.71h0M180.76 468.96h0M181.18 484.91h0M182 487.99h0M178.56 484h0M179.93 485.03h0M180.7 479.24h0M181.43 468.84h0" stroke="#F8766D" stroke-opacity="0.65" stroke-width="1.25" stroke-linecap="round" fill="none"/><path d="M196.83 481.76h0M197.71 484.9h0M200.87 485.54h0M198.96 483.7h0M200.72 480.85h0M196.55 480.9h0M196.48 480.58h0M196.07 480.89h0M197.29 479.9h0M197 478.72h0M196.34 485.56h0M197.86 483.62h0M197.46 482.54h0M196.18 483.77h0M196.3 484.94h0M196.45 478.15h0M197.4 479.48h0M199.46 484.87h0M198.12 481.18h0M196.97 482.25h0M200.46 484.93h0M201.37 485.93h0M196.26 481.37h0M199.29 480.69h0M200.85 484.73h0M196.57 480.31h0M200.61 480.22h0M200.52 482.94h0M199.81 481.4h0M198.06 480.54h0M200.8 477.85h0M196.27 485.02h0M196.34 485.48h0M200.85 476.96h0M197.54 476.66h0M201.01 482.48h0M199.7 484.11h0M199.5 485.72h0M197.61 481.1h0M199.02 485.83h0M196.09 482.56h0M198.76 477.16h0M199.9 482.96h0M199.08 480.12h0M199.87 476.99h0M200.01 482.34h0M198 480.49h0M200.99 476.02h0M199.68 476.74h0M198.66 476.4h0M197.41 480.94h0M201.06 484.24h0M200.43 478.4h0M198.01 481.34h0M197.01 483.72h0M199.77 485.1h0M198.35 479.86h0M200.21 477.68h0M196.52 483.91h0M196.77 481.02h0M198.98 480.83h0M198.28 477.46h0M197.48 478.63h0M198.52 476.7h0M198.25 483.91h0M200.18 483.92h0M198.36 482.12h0M201.11 484.93h0M196.15 483.48h0M200.18 484.71h0M199.26 476.18h0M198.15 484h0M197.39 484.77h0M199.23 483.44h0M200.7 480.84h0M196.5 483.68h0M197.91 483.88h0M198.13 486.22h0M197.49 484.66h0M196.02 485.45h0M198.39 480.85h0M196.59 485.48h0M199.09 482.78h0M196.06 483.54h0M196.15 482.8h0M201.26 484.88h0M198 483.49h0M198.45 484.23h0M196.03 486.47h0M200.54 486.25h0M201.26 480.85h0M199.66 484.9h0M197.27 483.76h0M198.02 481.08h0M198.98 477.8h0M197.91 485.83h0M197.55 481.78h0M198.45 477.58h0M199.68 482.04h0M197.22 481.02h0M197.37 483.55h0M200.24 484.93h0M197.17 481.78h0M197.46 480.75h0M196.4 484.94h0M200.43 479.1h0M199.3 481.87h0M198.49 484.75h0M199.61 481.44h0M197.66 486.48h0" stroke="#A3A500" stroke-opacity="0.65" stroke-width="1.25" stroke-linecap="round" fill="none"/><path d="M217.47 479.12h0M219.68 481.57h0M215.21 484.68h0M216.21 483.23h0M219.64 478.07h0M217.63 481.58h0M215.47 477.89h0M218.48 483.66h0M217.15 485.06h0M219.32 481.25h0M217.66 483.01h0M216.95 483.92h0M219.35 482.18h0M216.91 481.6h0M217.56 484.79h0M215.63 481.39h0M219.22 483.09h0M218.13 480.94h0M218.17 484.06h0M219.36 483.11h0M215.18 486.22h0M218.96 485.01h0M217.64 477.87h0M215.05 482.18h0M216.98 483.69h0M214.59 481.37h0M216.72 482.08h0M216.61 484h0M217.26 480.74h0M216.63 481.35h0M217.61 481.99h0M218.29 483.71h0M217.84 485.26h0M215.26 480.38h0M218.34 482.62h0M215.28 488.83h0M214.78 483.29h0M215.02 484.4h0M216.08 487.91h0M218.35 482.72h0M217.02 484.44h0M219.65 481.6h0M217.2 481.71h0M217.44 488.07h0M218.61 482.45h0M215.39 480h0M217.72 483.81h0M218.04 483.68h0M219.34 479.42h0M215.21 477.61h0M214.51 481.68h0M215.18 484.83h0M214.71 480.78h0M217.71 484.44h0M216.78 483.77h0M216.41 488.08h0M215.26 479.39h0M218.22 477.5h0M215.96 482.91h0M216.11 489.23h0M217.84 481.56h0M216.02 480.51h0M219.38 481.6h0M217.69 481.81h0M217.63 482.75h0M219.45 478.54h0M218.28 479.74h0M216.73 481.83h0M219.02 483.44h0M214.73 483.9h0M214.67 477.92h0M218.16 482.85h0M218.21 484.8h0M217.96 483.59h0M216.73 480.42h0M217.67 477.42h0M215.91 479.85h0M219.38 484.26h0M219.26 484.76h0M219.6 481.78h0" stroke="#00BF7D" stroke-opacity="0.65" stroke-width="1.25" stroke-linecap="round" fill="none"/><path d="M236.87 481.33h0M237.61 483.87h0M233.76 481.79h0M232.95 482.55h0M234.99 484.04h0M235.04 484.72h0M237.23 480.6h0M234.22 475.02h0M233.14 480.07h0M233.35 480.87h0M236.91 479.27h0M237.09 485.01h0M235.07 484.06h0M237.6 476.4h0M234.3 485.08h0M234.36 481.06h0M237.03 478.64h0M233.45 481.52h0M238.23 475.55h0M234.82 480.93h0M237.33 484.68h0M236.6 486.06h0M235.35 481.52h0M232.91 484.4h0M235.93 484.11h0M237.2 477.34h0M237.28 481.18h0M236.98 483.14h0M236.74 477.46h0M237.96 481.84h0M234.14 480.79h0M235.79 482.23h0M235.6 485.73h0M235.5 486.47h0M234.32 483.84h0M236.84 482.04h0M234.97 480.34h0M237.22 484.01h0M235.75 480.34h0M234.94 485.47h0M236.64 485.44h0M234.69 480.46h0M236.85 484.53h0M237.86 483.01h0M233.01 477.27h0M236.26 480.06h0M236.33 482.29h0M236.16 481.38h0M235.18 475.05h0M232.94 475.5h0" stroke="#00B0F6" stroke-opacity="0.65" stroke-width="1.25" stroke-linecap="round" fill="none"/><path d="M254.98 475.87h0M253.73 482.38h0M254.33 484h0M251.98 479.63h0M252.75 475.38h0M255.12 483.89h0M251.32 475.02h0M255.08 483.17h0M252.5 482.64h0M253.46 482.59h0M254.98 484.02h0M253.03 478.69h0M252.64 476.15h0M256.56 480.04h0M252.82 484.5h0M256.13 482.34h0M253.18 481.17h0M252.67 484.31h0M253.23 481.38h0M253.09 477.05h0M252.89 484.09h0M256.14 484.95h0M253.41 478.59h0M253.64 481.4h0M254.7 483.6h0M255.65 480.06h0M253.93 480.72h0M254.94 485.08h0M255.29 475.72h0M255.11 480.75h0M255.16 482.7h0M254.79 477.83h0M253.28 484.94h0M255.5 483.02h0" stroke="#E76BF3" stroke-opacity="0.65" stroke-width="1.25" stroke-linecap="round" fill="none"/><path d="M180.3 396.4V395.5H198.71V396.4M180.3 391.65V390.75H217.12V391.65M180.3 387.15V386.25H235.54V387.15M180.3 382.15V381.25H253.95V382.15" stroke="#777" stroke-width="0.6" fill="none"/><g font-size="4.2" fill="#777" stroke="none" style="stroke:none" text-anchor="middle"><text x="189.5" y="395.4">****</text><text x="198.71" y="390.65">****</text><text x="207.92" y="386.15">**</text><text x="217.12" y="381.15">*</text></g><rect x="169.25" y="376.4" width="95.75" height="118.8" fill="none" stroke="#a8a8a8" stroke-width="0.85"/><path d="M180.3 495.2v1.3M198.71 495.2v1.3M217.12 495.2v1.3M235.54 495.2v1.3M253.95 495.2v1.3M169.25 490.75h-1.3M169.25 469.5h-1.3M169.25 448.75h-1.3M169.25 427.5h-1.3M169.25 406.5h-1.3M169.25 385.5h-1.3" stroke="#333" stroke-width="0.5"/><g font-size="7.3" fill="#1a1a1a" text-anchor="end"><text x="165.55" y="493.25">0</text><text x="165.55" y="472">1</text><text x="165.55" y="451.25">2</text><text x="165.55" y="430">3</text><text x="165.55" y="409">4</text><text x="165.55" y="388">5</text></g><g font-size="7.2" fill="#1a1a1a" text-anchor="end"><text transform="translate(178.9 498.2) rotate(-45)" x="0" y="5.18">Admission</text><text transform="translate(197.31 498.2) rotate(-45)" x="0" y="5.18">Discharge</text><text transform="translate(215.72 498.2) rotate(-45)" x="0" y="5.18">First follow-up</text><text transform="translate(234.14 498.2) rotate(-45)" x="0" y="5.18">Second follow-up</text><text transform="translate(252.55 498.2) rotate(-45)" x="0" y="5.18">Third follow-up</text></g><text transform="translate(153.15 435.75) rotate(-90)" x="0" y="0" font-size="7.2" fill="#1a1a1a" text-anchor="middle">Creatinine</text></g>
<g><path d="M306.25 490H401.75M306.25 462.5H401.75M306.25 434.5H401.75M306.25 406.25H401.75M306.25 378.75H401.75M306.25 392.5H401.75M306.25 420H401.75M306.25 447.5H401.75M306.25 475H401.75M317.27 376.4V495.2M335.63 376.4V495.2M354 376.4V495.2M372.37 376.4V495.2M390.73 376.4V495.2" stroke="#ededed" stroke-width="0.6" fill="none"/><path d="M306.25 487.2H401.75" stroke="#cccccc" stroke-width="0.8"/><path d="M306.25 490.1H401.75" stroke="#999" stroke-width="0.6" stroke-dasharray="1.2 1.2"/><path d="M317.27 485.84L335.63 485.77L354 487.78L372.37 487.34L390.73 487.68M317.27 482.97L335.63 486.8L354 485.84L372.37 488.62L390.73 488.02M317.27 411L335.63 487.38L354 487.25L372.37 489.49L390.73 488.65M317.27 488.72L335.63 487.57L354 483.87L372.37 488.64L390.73 488.81M317.27 480.65L335.63 485.45L354 465.24L372.37 488.08L390.73 488.45M317.27 467.03L335.63 481.46L354 484.41L372.37 481.29L390.73 484.65M317.27 484.08L335.63 487.59L354 487.33L372.37 487.73L390.73 488.65M317.27 463.4L335.63 489.47L354 484.5L372.37 488.56L390.73 487.53M317.27 486.1L335.63 482.1L354 480.38L372.37 488.47L390.73 487.62M317.27 480.7L335.63 485.34L354 480.04L372.37 487.13L390.73 488.39M317.27 484.4L335.63 484.76L354 487.57L372.37 487.15L390.73 487.38M317.27 487.73L335.63 489.14L354 487.67L372.37 488.83L390.73 489.4M317.27 480.6L335.63 486.87L354 481.77L372.37 485.18L390.73 488.88M317.27 489.33L335.63 487.99L354 488.97L372.37 488.15L390.73 489.27M317.27 487.84L335.63 488.92L354 488.07L372.37 488.35L390.73 489.12M317.27 488.11L335.63 485.17L354 484.71L372.37 488.61L390.73 488.4M317.27 488.56L335.63 487.63L354 488.4L372.37 487.94L390.73 488.48M317.27 486.34L335.63 485.37L354 487.93L372.37 488.68L390.73 488.5M317.27 473.56L335.63 480.19L354 484.3L372.37 485.64L390.73 487.92M317.27 482.11L335.63 484.16L354 486.6L372.37 487.69L390.73 488.65M317.27 488.2L335.63 487.6L354 487.66L372.37 489.03L390.73 489.25M317.27 483.47L335.63 481.7L354 489.47L372.37 486.81L390.73 487.73M317.27 484.29L335.63 486.99L354 488.37L372.37 485.99L390.73 488.75M317.27 487.74L335.63 486.15L354 486.17L372.37 488.66L390.73 487.93M317.27 461.22L335.63 484.43L354 476.19L372.37 485.34L390.73 486.75M317.27 466.67L335.63 478.69L354 470.99L372.37 487.17L390.73 487.89M317.27 482.28L335.63 482.64L354 482.38L372.37 487.98L390.73 489.49M317.27 481.23L335.63 487.68L354 487.11L372.37 488.47L390.73 489.39M317.27 482.43L335.63 489.27L354 483.48L372.37 488.41L390.73 488.8M317.27 483.97L335.63 486.92L354 486.09L372.37 487.91L390.73 488.3M317.27 473.99L335.63 486.66L354 483.41L372.37 481.09L390.73 487.6M317.27 483.8L335.63 464.3L354 486.12L372.37 486.66L390.73 488.67M317.27 481.97L335.63 484.7L354 485.4L372.37 487.11L390.73 483.06M317.27 468.42L335.63 487.36L354 483.83L372.37 485.74L390.73 485.03M317.27 485.24L335.63 485.82L354 485.6L372.37 486.56M317.27 484.61L335.63 485.64L354 485.74L372.37 486.85M317.27 486.63L335.63 486.85L354 485.6L372.37 488.94M317.27 485.96L335.63 487.49L354 487.81L372.37 487.73M317.27 475.97L335.63 484.84L354 472.31L372.37 485.2M317.27 485.99L335.63 488.47L354 484.8L372.37 489.36M317.27 481.95L335.63 485.27L354 473.71L372.37 487.89M317.27 482.98L335.63 480.6L354 485.22L372.37 487.16M317.27 484.57L335.63 486.76L354 486.44L372.37 487.28M317.27 481.89L335.63 466.27L354 485.19L372.37 487.17M317.27 489.07L335.63 485.14L354 480.5L372.37 488.27M317.27 472.86L335.63 485.05L354 487.54L372.37 489.07M317.27 480.5L335.63 486.05L354 485.98L372.37 488.65M317.27 487.69L335.63 489.29L354 486.59L372.37 488.04M317.27 484.19L335.63 484.24L354 483.79L372.37 489.18M317.27 487.69L335.63 489.31L354 488.85L372.37 489.41M317.27 487.18L335.63 485.98L354 487.49M317.27 484.28L335.63 481.07L354 480.97M317.27 487.75L335.63 487.77L354 488.13M317.27 479.96L335.63 483.62L354 485.33M317.27 488.38L335.63 485.01L354 487.57M317.27 485.14L335.63 485.11L354 487.1M317.27 480.28L335.63 486.6L354 487.66M317.27 488.41L335.63 489.42L354 488.62M317.27 487.55L335.63 488.62L354 486.6M317.27 486.26L335.63 482.54L354 475.4M317.27 475.97L335.63 485.98L354 484.2M317.27 484.39L335.63 487.56L354 487.55M317.27 481.89L335.63 485.17L354 483.72M317.27 487.67L335.63 486.67L354 486.98M317.27 485.98L335.63 485.92L354 484.71M317.27 482.23L335.63 488.31L354 488.85M317.27 483.3L335.63 486.37L354 488.38M317.27 485.97L335.63 482.93L354 481.81M317.27 488.02L335.63 485.61L354 488.21M317.27 488.86L335.63 488.45L354 487.87M317.27 484.89L335.63 481.34L354 485.47M317.27 477.17L335.63 481.56L354 477.78M317.27 479.68L335.63 485.38L354 479.41M317.27 486.47L335.63 487.39L354 485.68M317.27 477.47L335.63 479.23L354 479.02M317.27 483.99L335.63 486.81L354 484.04M317.27 488.41L335.63 488.3L354 488.63M317.27 485.63L335.63 478.25L354 486.65M317.27 484.6L335.63 487.42L354 484.55M317.27 485.51L335.63 488.41L354 488.17M317.27 488.18L335.63 487.77M317.27 485.34L335.63 483.98M317.27 482.45L335.63 486.87M317.27 483.28L335.63 484.6M317.27 487.95L335.63 485.4M317.27 482.38L335.63 485.92M317.27 485.2L335.63 484.15M317.27 486.2L335.63 484.15M317.27 485.25L335.63 481.43M317.27 487.46L335.63 486.89M317.27 487.38L335.63 487.71M317.27 488.83L335.63 488.32M317.27 486.77L335.63 486.44M317.27 482.09L335.63 486.97M317.27 471.72L335.63 469.21M317.27 482.44L335.63 480.88M317.27 483.2L335.63 486.02M317.27 489.47L335.63 487.89M317.27 481.94L335.63 484.6M317.27 480.13L335.63 487.5M317.27 482.26L335.63 484.74M317.27 488.65L335.63 489.27M317.27 470.81L335.63 481.3M317.27 486.23L335.63 487.73M317.27 484.21L335.63 485.55M317.27 481.88L335.63 485.88M317.27 481.58L335.63 486.55M317.27 485.7L335.63 484.95M317.27 481.45L335.63 480.79M317.27 487.13L335.63 486.05" stroke="#444" stroke-opacity="0.16" stroke-width="0.45" fill="none"/><path d="M317.27 471.25V482M317.27 487.5V489.5" stroke="#555" stroke-width="0.6"/><rect x="310.38" y="482" width="13.77" height="5.5" fill="#F8766D" fill-opacity="0.35" stroke="#333" stroke-opacity="0.75" stroke-width="0.5"/><path d="M310.38 485H324.16" stroke="#333" stroke-width="0.8"/><path d="M335.63 478V484.5M335.63 487.5V489.5" stroke="#555" stroke-width="0.6"/><rect x="328.75" y="484.5" width="13.77" height="3" fill="#A3A500" fill-opacity="0.35" stroke="#333" stroke-opacity="0.75" stroke-width="0.5"/><path d="M328.75 486H342.52" stroke="#333" stroke-width="0.8"/><path d="M354 476V483.75M354 487.5V489.5" stroke="#555" stroke-width="0.6"/><rect x="347.11" y="483.75" width="13.77" height="3.75" fill="#00BF7D" fill-opacity="0.35" stroke="#333" stroke-opacity="0.75" stroke-width="0.5"/><path d="M347.11 486H360.89" stroke="#333" stroke-width="0.8"/><path d="M372.37 485V487.2M372.37 488.6V489.5" stroke="#555" stroke-width="0.6"/><rect x="365.48" y="487.2" width="13.77" height="1.4" fill="#00B0F6" fill-opacity="0.35" stroke="#333" stroke-opacity="0.75" stroke-width="0.5"/><path d="M365.48 488H379.25" stroke="#333" stroke-width="0.8"/><path d="M390.73 486V487.6M390.73 488.8V489.5" stroke="#555" stroke-width="0.6"/><rect x="383.84" y="487.6" width="13.77" height="1.2" fill="#E76BF3" fill-opacity="0.35" stroke="#333" stroke-opacity="0.75" stroke-width="0.5"/><path d="M383.84 488.3H397.62" stroke="#333" stroke-width="0.8"/><path d="M314.81 485.84h0M315.03 482.97h0M315.04 411h0M318.45 488.72h0M318.17 480.65h0M317.31 467.03h0M319.53 484.08h0M319 463.4h0M315.87 486.1h0M317.17 480.7h0M318.58 484.4h0M318.77 487.73h0M316.18 480.6h0M317.63 489.33h0M319.66 487.84h0M316.07 488.11h0M319.46 488.56h0M315.85 486.34h0M317.01 473.56h0M318.03 482.11h0M315.71 488.2h0M318.47 483.47h0M317.26 484.29h0M315.88 487.74h0M319.45 461.22h0M317.35 466.67h0M316.04 482.28h0M316.35 481.23h0M316.42 482.43h0M315.89 483.97h0M316.65 473.99h0M315.03 483.8h0M314.57 481.97h0M317.03 468.42h0M318.45 485.24h0M316.72 484.61h0M317.3 486.63h0M314.79 485.96h0M317.62 475.97h0M315.83 485.99h0M318.92 481.95h0M316.15 482.98h0M316.88 484.57h0M317.18 481.89h0M319.78 489.07h0M315.28 472.86h0M319.45 480.5h0M315.95 487.69h0M315.31 484.19h0M314.57 487.69h0M315.12 487.18h0M315.02 484.28h0M315.34 487.75h0M315.35 479.96h0M318.27 488.38h0M318.11 485.14h0M317.91 480.28h0M315.33 488.41h0M315.49 487.55h0M317.99 486.26h0M318.06 475.97h0M319.14 484.39h0M315.66 481.89h0M316.81 487.67h0M315.77 485.98h0M318.49 482.23h0M319.42 483.3h0M319.81 485.97h0M319.37 488.02h0M317.37 488.86h0M315.55 484.89h0M316.05 477.17h0M318.18 479.68h0M318.58 486.47h0M318.07 477.47h0M319.89 483.99h0M319.04 488.41h0M316.28 485.63h0M314.73 484.6h0M314.74 485.51h0M314.72 488.18h0M315.62 485.34h0M318.79 482.45h0M316.54 483.28h0M315.95 487.95h0M318.47 482.38h0M318.21 485.2h0M317.25 486.2h0M315.72 485.25h0M318.15 487.46h0M318.24 487.38h0M319.1 488.83h0M315.17 486.77h0M319.04 482.09h0M315.64 471.72h0M314.61 482.44h0M314.7 483.2h0M318.35 489.47h0M319.46 481.94h0M316.01 480.13h0M318.95 482.26h0M317.65 488.65h0M317.18 470.81h0M317.54 486.23h0M315.89 484.21h0M318.88 481.88h0M316.76 481.58h0M317.17 485.7h0M316.22 481.45h0M317.95 487.13h0M317.86 482.7h0M319.07 487.5h0M317.98 480.72h0M319.14 487.55h0M316.73 481.88h0" stroke="#F8766D" stroke-opacity="0.65" stroke-width="1.25" stroke-linecap="round" fill="none"/><path d="M333.22 485.77h0M334.43 486.8h0M334.48 487.38h0M337.57 487.57h0M334.55 485.45h0M334.67 481.46h0M337.24 487.59h0M335.66 489.47h0M334.22 482.1h0M336.12 485.34h0M337.11 484.76h0M336.91 489.14h0M336.94 486.87h0M334.48 487.99h0M336.97 488.92h0M336.95 485.17h0M336.31 487.63h0M337.27 485.37h0M338.27 480.19h0M333.51 484.16h0M336.29 487.6h0M335.55 481.7h0M336.55 486.99h0M337.21 486.15h0M334.35 484.43h0M335.37 478.69h0M333.95 482.64h0M337.42 487.68h0M337.84 489.27h0M337.1 486.92h0M336.53 486.66h0M333.36 464.3h0M337.92 484.7h0M335.9 487.36h0M335.61 485.82h0M337.96 485.64h0M336.98 486.85h0M335.98 487.49h0M337.65 484.84h0M336.83 488.47h0M333.33 485.27h0M334.27 480.6h0M336.62 486.76h0M332.98 466.27h0M334.92 485.14h0M335.72 485.05h0M333.66 486.05h0M336.44 489.29h0M337.47 484.24h0M333.86 489.31h0M335.77 485.98h0M335.64 481.07h0M332.99 487.77h0M336.58 483.62h0M333.36 485.01h0M336.89 485.11h0M337.07 486.6h0M334.36 489.42h0M336.49 488.62h0M336.27 482.54h0M337.73 485.98h0M335.02 487.56h0M334.06 485.17h0M333.69 486.67h0M338.28 485.92h0M336 488.31h0M337.01 486.37h0M334.24 482.93h0M337.71 485.61h0M338.21 488.45h0M337.07 481.34h0M337.02 481.56h0M333.09 485.38h0M334.99 487.39h0M333.26 479.23h0M334.44 486.81h0M337.92 488.3h0M334.45 478.25h0M337.79 487.42h0M338.23 488.41h0M334.09 487.77h0M333.68 483.98h0M337.87 486.87h0M338 484.6h0M336.84 485.4h0M333.87 485.92h0M336.81 484.15h0M336.18 484.15h0M335.32 481.43h0M333.5 486.89h0M337.59 487.71h0M333.81 488.32h0M335.05 486.44h0M337.44 486.97h0M333.28 469.21h0M337.61 480.88h0M337.56 486.02h0M333.75 487.89h0M333.14 484.6h0M334.36 487.5h0M333.68 484.74h0M337.15 489.27h0M335.37 481.3h0M334.84 487.73h0M333.45 485.55h0M334.15 485.88h0M336.94 486.55h0M335.23 484.95h0M334.33 480.79h0M337.15 486.05h0" stroke="#A3A500" stroke-opacity="0.65" stroke-width="1.25" stroke-linecap="round" fill="none"/><path d="M355.11 487.78h0M353.46 485.84h0M351.44 487.25h0M351.61 483.87h0M352.08 465.24h0M356.54 484.41h0M355.03 487.33h0M353.68 484.5h0M356.33 480.38h0M355.3 480.04h0M355.77 487.57h0M351.78 487.67h0M354.56 481.77h0M355.72 488.97h0M351.54 488.07h0M354.52 484.71h0M352.12 488.4h0M353.38 487.93h0M356.55 484.3h0M354.55 486.6h0M356.57 487.66h0M351.93 489.47h0M352.46 488.37h0M354.35 486.17h0M351.88 476.19h0M352.52 470.99h0M354.33 482.38h0M353.34 487.11h0M351.77 483.48h0M352.96 486.09h0M353.31 483.41h0M354.84 486.12h0M352.32 485.4h0M354.04 483.83h0M351.33 485.6h0M352.42 485.74h0M354.97 485.6h0M352.74 487.81h0M352.48 472.31h0M353.62 484.8h0M351.43 473.71h0M355.01 485.22h0M354.14 486.44h0M354.77 485.19h0M351.7 480.5h0M352.29 487.54h0M356.07 485.98h0M353.94 486.59h0M354.94 483.79h0M352.79 488.85h0M351.88 487.49h0M352 480.97h0M352.81 488.13h0M354.45 485.33h0M353.9 487.57h0M353.73 487.1h0M356.46 487.66h0M355.96 488.62h0M352.79 486.6h0M355.11 475.4h0M351.52 484.2h0M355.84 487.55h0M356.1 483.72h0M353.55 486.98h0M356.01 484.71h0M354.55 488.85h0M352.85 488.38h0M356.27 481.81h0M354.72 488.21h0M352.94 487.87h0M356.55 485.47h0M352.69 477.78h0M356.24 479.41h0M354.88 485.68h0M352.23 479.02h0M354.78 484.04h0M351.76 488.63h0M355.56 486.65h0M352.44 484.55h0M356.11 488.17h0" stroke="#00BF7D" stroke-opacity="0.65" stroke-width="1.25" stroke-linecap="round" fill="none"/><path d="M372.07 487.34h0M374.46 488.62h0M374.64 489.49h0M371.35 488.64h0M373.06 488.08h0M375.03 481.29h0M370.55 487.73h0M372.48 488.56h0M373.87 488.47h0M373.27 487.13h0M373.4 487.15h0M373.62 488.83h0M373.8 485.18h0M374.88 488.15h0M373.88 488.35h0M371.01 488.61h0M370.68 487.94h0M370.81 488.68h0M373.56 485.64h0M371.53 487.69h0M374.6 489.03h0M372.21 486.81h0M369.71 485.99h0M372.15 488.66h0M373.38 485.34h0M373.48 487.17h0M374.05 487.98h0M373.43 488.47h0M372.36 488.41h0M374.76 487.91h0M373.09 481.09h0M371.21 486.66h0M372.07 487.11h0M374.92 485.74h0M370.2 486.56h0M372.83 486.85h0M370.36 488.94h0M373.01 487.73h0M372.89 485.2h0M370.47 489.36h0M370.53 487.89h0M374.26 487.16h0M374.8 487.28h0M370.4 487.17h0M374.53 488.27h0M372.67 489.07h0M371.48 488.65h0M371.91 488.04h0M370.54 489.18h0M374.35 489.41h0" stroke="#00B0F6" stroke-opacity="0.65" stroke-width="1.25" stroke-linecap="round" fill="none"/><path d="M391.52 487.68h0M389.14 488.02h0M388.2 488.65h0M389.2 488.81h0M392.35 488.45h0M391.6 484.65h0M388.61 488.65h0M389.89 487.53h0M392.53 487.62h0M390.88 488.39h0M388.25 487.38h0M389.5 489.4h0M391.78 488.88h0M390.16 489.27h0M388.32 489.12h0M393.25 488.4h0M392.36 488.48h0M389.72 488.5h0M389.25 487.92h0M390.22 488.65h0M391.66 489.25h0M390.86 487.73h0M390.1 488.75h0M390.9 487.93h0M388.32 486.75h0M389.72 487.89h0M393.18 489.49h0M392.3 489.39h0M391.47 488.8h0M390.47 488.3h0M392.64 487.6h0M391.16 488.67h0M392.24 483.06h0M389.77 485.03h0" stroke="#E76BF3" stroke-opacity="0.65" stroke-width="1.25" stroke-linecap="round" fill="none"/><path d="M317.27 404.15V403.25H372.37V404.15M317.27 399.65V398.75H390.73V399.65M335.63 395.4V394.5H372.37V395.4M335.63 391.4V390.5H390.73V391.4M354 387.15V386.25H372.37V387.15M354 382.65V381.75H390.73V382.65" stroke="#777" stroke-width="0.6" fill="none"/><g font-size="4.2" fill="#777" stroke="none" style="stroke:none" text-anchor="middle"><text x="344.82" y="403.15">****</text><text x="354" y="398.65">****</text><text x="354" y="394.4">****</text><text x="363.18" y="390.4">****</text><text x="363.18" y="386.15">**</text><text x="372.37" y="381.65">*</text></g><rect x="306.25" y="376.4" width="95.5" height="118.8" fill="none" stroke="#a8a8a8" stroke-width="0.85"/><path d="M317.27 495.2v1.3M335.63 495.2v1.3M354 495.2v1.3M372.37 495.2v1.3M390.73 495.2v1.3M306.25 490h-1.3M306.25 462.5h-1.3M306.25 434.5h-1.3M306.25 406.25h-1.3M306.25 378.75h-1.3" stroke="#333" stroke-width="0.5"/><g font-size="7.3" fill="#1a1a1a" text-anchor="end"><text x="303.15" y="492.5">0</text><text x="303.15" y="465">250</text><text x="303.15" y="437">500</text><text x="303.15" y="408.75">750</text><text x="303.15" y="381.25">1,000</text></g><g font-size="7.2" fill="#1a1a1a" text-anchor="end"><text transform="translate(315.87 498.2) rotate(-45)" x="0" y="5.18">Admission</text><text transform="translate(334.23 498.2) rotate(-45)" x="0" y="5.18">Discharge</text><text transform="translate(352.6 498.2) rotate(-45)" x="0" y="5.18">First follow-up</text><text transform="translate(370.97 498.2) rotate(-45)" x="0" y="5.18">Second follow-up</text><text transform="translate(389.33 498.2) rotate(-45)" x="0" y="5.18">Third follow-up</text></g><text transform="translate(279.4 436.15) rotate(-90)" x="0" y="0" font-size="7.2" fill="#1a1a1a" text-anchor="middle">ALT (<25 U/L)</text></g>
<g><path d="M449.5 490H545.5M449.5 462H545.5M449.5 434.25H545.5M449.5 406.25H545.5M449.5 378.25H545.5M449.5 392.25H545.5M449.5 420.25H545.5M449.5 448.25H545.5M449.5 476.25H545.5M460.58 376.4V495.2M479.04 376.4V495.2M497.5 376.4V495.2M515.96 376.4V495.2M534.42 376.4V495.2" stroke="#ededed" stroke-width="0.6" fill="none"/><path d="M449.5 485.2H545.5" stroke="#cccccc" stroke-width="0.8"/><path d="M449.5 490.1H545.5" stroke="#999" stroke-width="0.6" stroke-dasharray="1.2 1.2"/><path d="M460.58 478.48L479.04 483.68L497.5 482.09L515.96 486.37L534.42 486.96M460.58 486.4L479.04 485.55L497.5 485.16L515.96 486.13L534.42 487.33M460.58 482.67L479.04 484.23L497.5 489.47L515.96 487.67L534.42 487.79M460.58 488.91L479.04 483.3L497.5 485.29L515.96 486.48L534.42 487.63M460.58 487.65L479.04 482.45L497.5 487.5L515.96 485.72L534.42 485.48M460.58 489.04L479.04 487.82L497.5 486.41L515.96 487.91L534.42 487.04M460.58 489.46L479.04 487.26L497.5 488.01L515.96 487.91L534.42 488.35M460.58 486.82L479.04 486.42L497.5 487.96L515.96 488.38L534.42 488.79M460.58 485.22L479.04 487.5L497.5 487.81L515.96 487.38L534.42 488M460.58 484.48L479.04 486.2L497.5 488.32L515.96 486.41L534.42 487.96M460.58 484.45L479.04 485.83L497.5 484.05L515.96 485.57L534.42 488.48M460.58 487.91L479.04 487.13L497.5 487.82L515.96 488.02L534.42 487.17M460.58 463L479.04 487.17L497.5 486.01L515.96 487.67L534.42 487.3M460.58 484.76L479.04 482.1L497.5 486.25L515.96 486.3L534.42 485.35M460.58 488.75L479.04 485.97L497.5 487.65L515.96 486.55L534.42 486.92M460.58 485.84L479.04 485.12L497.5 487.82L515.96 486.84L534.42 484.51M460.58 485.43L479.04 487.42L497.5 487.23L515.96 487.76L534.42 487.15M460.58 488.09L479.04 485.64L497.5 487.25L515.96 484.01L534.42 487.25M460.58 488.41L479.04 488.02L497.5 489.44L515.96 488.58L534.42 487.88M460.58 487.43L479.04 480.39L497.5 488.62L515.96 487.13L534.42 487.68M460.58 480.49L479.04 486.52L497.5 488.3L515.96 488.98L534.42 486.51M460.58 488.18L479.04 488.61L497.5 484.8L515.96 488.86L534.42 488.65M460.58 488.17L479.04 487.14L497.5 486.68L515.96 487.65L534.42 487.56M460.58 488.78L479.04 488.21L497.5 487.95L515.96 487.43L534.42 487.94M460.58 488.26L479.04 486.06L497.5 487.58L515.96 487.64L534.42 488.52M460.58 485.2L479.04 485.33L497.5 485.23L515.96 484.83L534.42 486.68M460.58 483.31L479.04 483.94L497.5 477.28L515.96 484.95L534.42 485.22M460.58 485.31L479.04 484.96L497.5 486.91L515.96 485.81L534.42 487.92M460.58 486.26L479.04 487.89L497.5 485.06L515.96 484.73L534.42 487.52M460.58 484.12L479.04 479.79L497.5 485.11L515.96 484.12L534.42 484.84M460.58 484.43L479.04 487.23L497.5 486.93L515.96 486.29L534.42 484.8M460.58 486.11L479.04 486.75L497.5 476.11L515.96 487.61L534.42 488.06M460.58 489.4L479.04 489.47L497.5 487.83L515.96 488.88L534.42 488.72M460.58 486.77L479.04 486.72L497.5 487.16L515.96 487.65L534.42 487.91M460.58 483.87L479.04 487.18L497.5 486.05L515.96 486.14M460.58 486.88L479.04 487.39L497.5 487.85L515.96 487.36M460.58 485.84L479.04 486.53L497.5 485.41L515.96 486.23M460.58 488.7L479.04 487.28L497.5 488.22L515.96 488.88M460.58 488.04L479.04 488.35L497.5 488.54L515.96 487.56M460.58 487.43L479.04 488.36L497.5 487.41L515.96 488.09M460.58 489.19L479.04 487.99L497.5 487.08L515.96 488.27M460.58 487.73L479.04 489.18L497.5 486.35L515.96 488.1M460.58 424.5L479.04 484.95L497.5 486.45L515.96 486.96M460.58 487.57L479.04 487.9L497.5 486.49L515.96 487.66M460.58 477.21L479.04 484.57L497.5 485.68L515.96 487.66M460.58 487.94L479.04 485.03L497.5 485.67L515.96 487.92M460.58 487.49L479.04 487.16L497.5 486.88L515.96 486.63M460.58 488.73L479.04 489.13L497.5 488.37L515.96 488.89M460.58 487.04L479.04 487.41L497.5 484.48L515.96 487.88M460.58 487.9L479.04 489.18L497.5 489.1L515.96 487.63M460.58 485.8L479.04 485.42L497.5 487.81M460.58 405L479.04 486.05L497.5 487.96M460.58 483.68L479.04 485L497.5 484.51M460.58 487.36L479.04 486.39L497.5 486.74M460.58 484.22L479.04 485.6L497.5 485.26M460.58 486.52L479.04 486.67L497.5 487.53M460.58 484.5L479.04 484.82L497.5 485.56M460.58 484.1L479.04 481.39L497.5 487.64M460.58 481.12L479.04 481.32L497.5 484.31M460.58 488.02L479.04 487.38L497.5 489.23M460.58 485.4L479.04 484.75L497.5 484.98M460.58 488.11L479.04 486.54L497.5 487.8M460.58 489.09L479.04 487.32L497.5 484.98M460.58 484.3L479.04 484.98L497.5 486.29M460.58 486.72L479.04 487.81L497.5 487.92M460.58 486.47L479.04 483.64L497.5 485.18M460.58 484.49L479.04 489.19L497.5 487.57M460.58 487.45L479.04 485.52L497.5 486.88M460.58 488.09L479.04 486.88L497.5 487.03M460.58 488.87L479.04 487.92L497.5 488.94M460.58 488.62L479.04 488.94L497.5 488.21M460.58 488.24L479.04 487.81L497.5 486.6M460.58 488.14L479.04 487.8L497.5 486.23M460.58 487.64L479.04 485.58L497.5 487.91M460.58 485.27L479.04 481.26L497.5 478.98M460.58 478.75L479.04 488.73L497.5 482.61M460.58 488.18L479.04 483.77L497.5 486.36M460.58 487.45L479.04 486.07L497.5 484.53M460.58 484.29L479.04 484.34L497.5 485M460.58 473.62L479.04 482.45L497.5 476.85M460.58 486.21L479.04 486.33M460.58 487.52L479.04 484.14M460.58 478.74L479.04 484.9M460.58 488.67L479.04 489.28M460.58 487.07L479.04 487.27M460.58 484.83L479.04 483.42M460.58 486.41L479.04 487.9M460.58 486.44L479.04 488.4M460.58 484.39L479.04 480.86M460.58 469.64L479.04 479.73M460.58 489.31L479.04 488.33M460.58 484.46L479.04 482.73M460.58 486.59L479.04 482.12M460.58 489.48L479.04 487.97M460.58 484.7L479.04 484.99M460.58 481.36L479.04 483.91M460.58 487.87L479.04 488.58M460.58 488.77L479.04 488.87M460.58 488.07L479.04 488.1M460.58 484.46L479.04 486.25M460.58 485.54L479.04 486.13M460.58 486.01L479.04 485.61M460.58 488.44L479.04 485.21M460.58 488L479.04 489.48M460.58 485.53L479.04 486.99M460.58 484.02L479.04 485.3M460.58 477.3L479.04 481.1M460.58 470.44L479.04 479.91M460.58 478.12L479.04 484.98M460.58 488L479.04 486.95" stroke="#444" stroke-opacity="0.16" stroke-width="0.45" fill="none"/><path d="M460.58 476V484.5M460.58 488V489.5" stroke="#555" stroke-width="0.6"/><rect x="453.65" y="484.5" width="13.85" height="3.5" fill="#F8766D" fill-opacity="0.35" stroke="#333" stroke-opacity="0.75" stroke-width="0.5"/><path d="M453.65 486.3H467.5" stroke="#333" stroke-width="0.8"/><path d="M479.04 481V485M479.04 487.8V489.5" stroke="#555" stroke-width="0.6"/><rect x="472.12" y="485" width="13.85" height="2.8" fill="#A3A500" fill-opacity="0.35" stroke="#333" stroke-opacity="0.75" stroke-width="0.5"/><path d="M472.12 486.5H485.96" stroke="#333" stroke-width="0.8"/><path d="M497.5 481V485M497.5 487.8V489.5" stroke="#555" stroke-width="0.6"/><rect x="490.58" y="485" width="13.85" height="2.8" fill="#00BF7D" fill-opacity="0.35" stroke="#333" stroke-opacity="0.75" stroke-width="0.5"/><path d="M490.58 486.5H504.42" stroke="#333" stroke-width="0.8"/><path d="M515.96 484V486.3M515.96 487.9V489" stroke="#555" stroke-width="0.6"/><rect x="509.04" y="486.3" width="13.85" height="1.6" fill="#00B0F6" fill-opacity="0.35" stroke="#333" stroke-opacity="0.75" stroke-width="0.5"/><path d="M509.04 487.2H522.88" stroke="#333" stroke-width="0.8"/><path d="M534.42 484.5V486.5M534.42 487.9V488.8" stroke="#555" stroke-width="0.6"/><rect x="527.5" y="486.5" width="13.85" height="1.4" fill="#E76BF3" fill-opacity="0.35" stroke="#333" stroke-opacity="0.75" stroke-width="0.5"/><path d="M527.5 487.2H541.35" stroke="#333" stroke-width="0.8"/><path d="M460.98 478.48h0M460.96 486.4h0M461.3 482.67h0M460.07 488.91h0M458.71 487.65h0M463.04 489.04h0M458.97 489.46h0M460.48 486.82h0M458.59 485.22h0M459.61 484.48h0M460.31 484.45h0M458.67 487.91h0M458.86 463h0M459.17 484.76h0M461.19 488.75h0M461.2 485.84h0M459.86 485.43h0M459.16 488.09h0M457.99 488.41h0M462.95 487.43h0M462.59 480.49h0M460.69 488.18h0M462.21 488.17h0M460.2 488.78h0M462.54 488.26h0M459.91 485.2h0M459.49 483.31h0M461.39 485.31h0M462.1 486.26h0M463.18 484.12h0M462.47 484.43h0M462.38 486.11h0M458.84 489.4h0M460.49 486.77h0M461.49 483.87h0M458.96 486.88h0M460.19 485.84h0M462.52 488.7h0M458.59 488.04h0M460.1 487.43h0M458.9 489.19h0M460.13 487.73h0M457.94 424.5h0M458.17 487.57h0M461.32 477.21h0M460.51 487.94h0M458.07 487.49h0M459.35 488.73h0M458.78 487.04h0M461.37 487.9h0M459.5 485.8h0M461.38 405h0M460.81 483.68h0M459.64 487.36h0M458.99 484.22h0M459.92 486.52h0M463.13 484.5h0M462.66 484.1h0M458.81 481.12h0M460.65 488.02h0M460.89 485.4h0M458.88 488.11h0M460.48 489.09h0M461.2 484.3h0M461.15 486.72h0M459.11 486.47h0M462.97 484.49h0M458.51 487.45h0M458.58 488.09h0M459.74 488.87h0M462.68 488.62h0M463.11 488.24h0M463.24 488.14h0M459.58 487.64h0M458.04 485.27h0M458.37 478.75h0M462.02 488.18h0M458.89 487.45h0M458.6 484.29h0M461.56 473.62h0M459.75 486.21h0M462.25 487.52h0M461.43 478.74h0M458.57 488.67h0M459.81 487.07h0M458.37 484.83h0M459.01 486.41h0M459.16 486.44h0M462.14 484.39h0M460.41 469.64h0M460.46 489.31h0M460.48 484.46h0M462.82 486.59h0M458.17 489.48h0M461.19 484.7h0M462.92 481.36h0M461.69 487.87h0M461.04 488.77h0M460.26 488.07h0M462.62 484.46h0M460.04 485.54h0M461.28 486.01h0M458.58 488.44h0M461.61 488h0M459.1 485.53h0M459.46 484.02h0M461.85 477.3h0M462.68 470.44h0M460.23 478.12h0M462.63 488h0M462.92 476.31h0M459.3 488.95h0M459.49 487.02h0M457.91 486.89h0M458.73 485.35h0" stroke="#F8766D" stroke-opacity="0.65" stroke-width="1.25" stroke-linecap="round" fill="none"/><path d="M478.99 483.68h0M480.2 485.55h0M480.05 484.23h0M480.68 483.3h0M480.96 482.45h0M480.34 487.82h0M477.24 487.26h0M481.23 486.42h0M480.44 487.5h0M478.58 486.2h0M476.34 485.83h0M480.62 487.13h0M480.18 487.17h0M477.78 482.1h0M477.99 485.97h0M477.42 485.12h0M477.91 487.42h0M479.57 485.64h0M481.32 488.02h0M478.24 480.39h0M477.4 486.52h0M480.71 488.61h0M480.17 487.14h0M477.8 488.21h0M481.29 486.06h0M477.11 485.33h0M480.45 483.94h0M479.98 484.96h0M481.5 487.89h0M480.43 479.79h0M478.97 487.23h0M477.17 486.75h0M476.77 489.47h0M479.27 486.72h0M479.61 487.18h0M477.24 487.39h0M477.43 486.53h0M477.3 487.28h0M476.99 488.35h0M476.37 488.36h0M477.65 487.99h0M481.15 489.18h0M478.83 484.95h0M476.9 487.9h0M481.17 484.57h0M481.24 485.03h0M481.5 487.16h0M479.52 489.13h0M479.94 487.41h0M481.19 489.18h0M481.71 485.42h0M476.43 486.05h0M477.01 485h0M476.53 486.39h0M479.16 485.6h0M480.64 486.67h0M481.28 484.82h0M480.18 481.39h0M481.66 481.32h0M476.74 487.38h0M479.09 484.75h0M478.41 486.54h0M478.21 487.32h0M478.24 484.98h0M479.35 487.81h0M479.73 483.64h0M480.13 489.19h0M479.61 485.52h0M481.12 486.88h0M479.85 487.92h0M479.59 488.94h0M477.53 487.81h0M479.67 487.8h0M479.97 485.58h0M477.61 481.26h0M481.2 488.73h0M479.03 483.77h0M479.2 486.07h0M481.1 484.34h0M476.72 482.45h0M481.4 486.33h0M478.44 484.14h0M481.72 484.9h0M479.36 489.28h0M476.4 487.27h0M481.71 483.42h0M480.93 487.9h0M477.55 488.4h0M481.65 480.86h0M481.29 479.73h0M478.75 488.33h0M476.96 482.73h0M476.96 482.12h0M478.64 487.97h0M479.64 484.99h0M479.15 483.91h0M478.35 488.58h0M478.23 488.87h0M478.38 488.1h0M479.21 486.25h0M476.4 486.13h0M479.87 485.61h0M481.12 485.21h0M476.99 489.48h0M477.57 486.99h0M477.7 485.3h0M478.28 481.1h0M479.32 479.91h0M476.38 484.98h0M478.14 486.95h0" stroke="#A3A500" stroke-opacity="0.65" stroke-width="1.25" stroke-linecap="round" fill="none"/><path d="M496.12 482.09h0M497.58 485.16h0M495.86 489.47h0M496.27 485.29h0M496.93 487.5h0M496.41 486.41h0M497.06 488.01h0M499.44 487.96h0M495.49 487.81h0M497.18 488.32h0M497.74 484.05h0M495.68 487.82h0M496.09 486.01h0M495.08 486.25h0M496.53 487.65h0M497.48 487.82h0M499.61 487.23h0M497.09 487.25h0M499.97 489.44h0M499.14 488.62h0M497.88 488.3h0M496.78 484.8h0M495.56 486.68h0M499.19 487.95h0M495.34 487.58h0M497.51 485.23h0M499.96 477.28h0M499.73 486.91h0M495.93 485.06h0M495.15 485.11h0M495.06 486.93h0M495.25 476.11h0M495.17 487.83h0M496.72 487.16h0M500.04 486.05h0M495.86 487.85h0M499.92 485.41h0M499.75 488.22h0M498.35 488.54h0M496.18 487.41h0M496.98 487.08h0M496.36 486.35h0M495.62 486.45h0M498.04 486.49h0M498.38 485.68h0M496.73 485.67h0M495.45 486.88h0M498.62 488.37h0M496.13 484.48h0M496.51 489.1h0M499.99 487.81h0M500.2 487.96h0M498.14 484.51h0M496.91 486.74h0M495.92 485.26h0M498.82 487.53h0M497.28 485.56h0M499.86 487.64h0M498.8 484.31h0M497.92 489.23h0M497.32 484.98h0M496.53 487.8h0M496.66 484.98h0M495.14 486.29h0M498.68 487.92h0M498.87 485.18h0M498.6 487.57h0M495.62 486.88h0M496.21 487.03h0M498.99 488.94h0M495.38 488.21h0M495.84 486.6h0M495.4 486.23h0M498.47 487.91h0M497.69 478.98h0M499.08 482.61h0M495.21 486.36h0M498.41 484.53h0M499.76 485h0M495 476.85h0" stroke="#00BF7D" stroke-opacity="0.65" stroke-width="1.25" stroke-linecap="round" fill="none"/><path d="M517.42 486.37h0M515.42 486.13h0M518.2 487.67h0M514.53 486.48h0M514.65 485.72h0M518.03 487.91h0M515.33 487.91h0M515.93 488.38h0M516.25 487.38h0M513.65 486.41h0M518.55 485.57h0M516.72 488.02h0M514.03 487.67h0M513.75 486.3h0M513.55 486.55h0M517.26 486.84h0M515.81 487.76h0M518.43 484.01h0M514.54 488.58h0M518.11 487.13h0M517.55 488.98h0M516.91 488.86h0M516.45 487.65h0M515.32 487.43h0M514.28 487.64h0M514.19 484.83h0M516.69 484.95h0M515.79 485.81h0M513.9 484.73h0M513.32 484.12h0M515.72 486.29h0M517.26 487.61h0M514.27 488.88h0M513.65 487.65h0M513.74 486.14h0M516 487.36h0M515.8 486.23h0M514.05 488.88h0M518.33 487.56h0M516.97 488.09h0M516.15 488.27h0M518.41 488.1h0M515.96 486.96h0M517.09 487.66h0M514.47 487.66h0M514.16 487.92h0M518.29 486.63h0M514.94 488.89h0M518.36 487.88h0M516.95 487.63h0" stroke="#00B0F6" stroke-opacity="0.65" stroke-width="1.25" stroke-linecap="round" fill="none"/><path d="M532.46 486.96h0M532.61 487.33h0M533.13 487.79h0M535.2 487.63h0M535.62 485.48h0M534.07 487.04h0M533.57 488.35h0M534.83 488.79h0M536.59 488h0M531.81 487.96h0M535.46 488.48h0M537.11 487.17h0M533.98 487.3h0M531.99 485.35h0M532.85 486.92h0M532.87 484.51h0M533.06 487.15h0M535.54 487.25h0M532.69 487.88h0M534.49 487.68h0M535.45 486.51h0M533.02 488.65h0M532.15 487.56h0M532.96 487.94h0M536.67 488.52h0M535.13 486.68h0M535.96 485.22h0M536.44 487.92h0M533.31 487.52h0M533.03 484.84h0M536.75 484.8h0M532 488.06h0M534.08 488.72h0M533.51 487.91h0" stroke="#E76BF3" stroke-opacity="0.65" stroke-width="1.25" stroke-linecap="round" fill="none"/><path d="M460.58 396.4V395.5H479.04V396.4M460.58 391.9V391H497.5V391.9M460.58 387.15V386.25H515.96V387.15M460.58 382.15V381.25H534.42V382.15" stroke="#777" stroke-width="0.6" fill="none"/><g font-size="4.2" fill="#777" stroke="none" style="stroke:none" text-anchor="middle"><text x="469.81" y="395.4">*</text><text x="479.04" y="390.9">*</text><text x="488.27" y="386.15">***</text><text x="497.5" y="381.15">**</text></g><rect x="449.5" y="376.4" width="96" height="118.8" fill="none" stroke="#a8a8a8" stroke-width="0.85"/><path d="M460.58 495.2v1.3M479.04 495.2v1.3M497.5 495.2v1.3M515.96 495.2v1.3M534.42 495.2v1.3M449.5 490h-1.3M449.5 462h-1.3M449.5 434.25h-1.3M449.5 406.25h-1.3M449.5 378.25h-1.3" stroke="#333" stroke-width="0.5"/><g font-size="7.3" fill="#1a1a1a" text-anchor="end"><text x="446.1" y="492.5">0</text><text x="446.1" y="464.5">300</text><text x="446.1" y="436.75">600</text><text x="446.1" y="408.75">900</text><text x="446.1" y="380.75">1,200</text></g><g font-size="7.2" fill="#1a1a1a" text-anchor="end"><text transform="translate(459.18 498.2) rotate(-45)" x="0" y="5.18">Admission</text><text transform="translate(477.64 498.2) rotate(-45)" x="0" y="5.18">Discharge</text><text transform="translate(496.1 498.2) rotate(-45)" x="0" y="5.18">First follow-up</text><text transform="translate(514.56 498.2) rotate(-45)" x="0" y="5.18">Second follow-up</text><text transform="translate(533.02 498.2) rotate(-45)" x="0" y="5.18">Third follow-up</text></g><text transform="translate(422.4 435.5) rotate(-90)" x="0" y="0" font-size="7.2" fill="#1a1a1a" text-anchor="middle">AST (<52 U/L)</text></g>
<g><path d="M589.5 477H684.5M589.5 453.25H684.5M589.5 430H684.5M589.5 407H684.5M589.5 383.75H684.5M589.5 395.38H684.5M589.5 418.62H684.5M589.5 441.88H684.5M589.5 465.12H684.5M589.5 488.38H684.5M600.46 376.4V495.2M618.73 376.4V495.2M637 376.4V495.2M655.27 376.4V495.2M673.54 376.4V495.2" stroke="#ededed" stroke-width="0.6" fill="none"/><path d="M589.5 472.5H684.5" stroke="#cccccc" stroke-width="0.8"/><path d="M589.5 489.25H684.5" stroke="#999" stroke-width="0.6" stroke-dasharray="1.2 1.2"/><path d="M600.46 478.42L618.73 478.87L637 478.15L655.27 481.96L673.54 476.89M600.46 476.4L618.73 471.22L637 476.32L655.27 473.82L673.54 478.43M600.46 453.47L618.73 464.94L637 464.09L655.27 472.05L673.54 473.22M600.46 467.7L618.73 471.8L637 473.79L655.27 474.09L673.54 478.21M600.46 472.75L618.73 486.19L637 480.54L655.27 482.45L673.54 481.1M600.46 466.81L618.73 477.93L637 479.45L655.27 479.44L673.54 480M600.46 447.55L618.73 472.75L637 468.81L655.27 476.28L673.54 472.22M600.46 478.15L618.73 480.44L637 463.14L655.27 483.54L673.54 481.47M600.46 465.14L618.73 472.12L637 466.11L655.27 474.82L673.54 478.01M600.46 478.01L618.73 480.92L637 480.76L655.27 482.85L673.54 479.01M600.46 478.42L618.73 485.41L637 481.03L655.27 477.71L673.54 483.37M600.46 476.52L618.73 481.79L637 481.74L655.27 483.41L673.54 481.52M600.46 463L618.73 471.87L637 477.41L655.27 466.23L673.54 478.52M600.46 465.18L618.73 477.1L637 466.53L655.27 455.7L673.54 472.89M600.46 479.63L618.73 472.08L637 472.58L655.27 474.06L673.54 479.28M600.46 475.04L618.73 477.99L637 482.49L655.27 481.53L673.54 482.93M600.46 464.45L618.73 479.1L637 472.71L655.27 468.57L673.54 476.99M600.46 484.8L618.73 481.6L637 476.46L655.27 478.49L673.54 480.43M600.46 477.38L618.73 475.02L637 480.79L655.27 478.64L673.54 479.09M600.46 407L618.73 460.48L637 473.36L655.27 485.44L673.54 473.79M600.46 464.81L618.73 481.65L637 473.2L655.27 479.83L673.54 480.64M600.46 466.3L618.73 476.33L637 483.36L655.27 470.63L673.54 480.77M600.46 465.16L618.73 478.22L637 475.29L655.27 482.06L673.54 478.15M600.46 472.88L618.73 475.84L637 474.64L655.27 476.26L673.54 479.34M600.46 479.07L618.73 483.38L637 482.41L655.27 482.01L673.54 482.94M600.46 464.68L618.73 475.83L637 476.16L655.27 480.93L673.54 480.05M600.46 468.68L618.73 446.69L637 467.13L655.27 473.72L673.54 475.41M600.46 461.31L618.73 473.35L637 472.75L655.27 473.76L673.54 479.67M600.46 455.05L618.73 472.82L637 478.33L655.27 473.76L673.54 477.82M600.46 468.05L618.73 480.27L637 475.85L655.27 478.93L673.54 478.78M600.46 477.56L618.73 481.9L637 474.74L655.27 478.36L673.54 479.76M600.46 468.36L618.73 481.43L637 479.63L655.27 481.9L673.54 481.43M600.46 479.73L618.73 475.01L637 474.07L655.27 480.57L673.54 479.63M600.46 455.35L618.73 466L637 463.48L655.27 470.89L673.54 477.04M600.46 476.41L618.73 480.61L637 479.99L655.27 482.02M600.46 472.94L618.73 476.93L637 478.96L655.27 485.27M600.46 465.6L618.73 478.8L637 480.37L655.27 483.34M600.46 469.06L618.73 476.02L637 467.9L655.27 479.36M600.46 476.19L618.73 482.01L637 480.6L655.27 483.62M600.46 465L618.73 472.19L637 475.48L655.27 477.45M600.46 468.03L618.73 470.5L637 476.27L655.27 473.52M600.46 473.38L618.73 473.14L637 482.45L655.27 480.56M600.46 483.47L618.73 473.16L637 479.04L655.27 476.98M600.46 468.59L618.73 452.76L637 477.95L655.27 472.84M600.46 461.52L618.73 479.84L637 477.43L655.27 477.15M600.46 460.82L618.73 480L637 467.51L655.27 476.99M600.46 481.47L618.73 477.61L637 482.58L655.27 480.71M600.46 472.52L618.73 465.63L637 480.93L655.27 481.57M600.46 463.01L618.73 460.84L637 472.65L655.27 467.57M600.46 453.53L618.73 471.51L637 467.76L655.27 469.19M600.46 468.98L618.73 478.31L637 483.17M600.46 487.36L618.73 480.11L637 481.5M600.46 467.63L618.73 470.08L637 469.55M600.46 470.36L618.73 476.66L637 476.55M600.46 465.19L618.73 472.41L637 472.02M600.46 475.57L618.73 484.68L637 473.16M600.46 476.42L618.73 473.13L637 476.41M600.46 467.73L618.73 478.15L637 475.3M600.46 465.19L618.73 469.02L637 480.82M600.46 471.03L618.73 476.22L637 478.76M600.46 470.41L618.73 472.64L637 474.65M600.46 475.09L618.73 486.21L637 474.41M600.46 467.2L618.73 474.7L637 474.17M600.46 472.84L618.73 480.61L637 475.78M600.46 475.46L618.73 482.64L637 473.63M600.46 471.32L618.73 477.55L637 475.45M600.46 487.54L618.73 474.15L637 480.74M600.46 468.05L618.73 470.86L637 480.6M600.46 471.83L618.73 483.37L637 483.2M600.46 465.19L618.73 470.73L637 469.11M600.46 466.03L618.73 479.58L637 481.96M600.46 476.52L618.73 479.44L637 479.2M600.46 475.43L618.73 483.9L637 479.49M600.46 478.4L618.73 483.93L637 480.65M600.46 476.43L618.73 467.5L637 471.37M600.46 464.91L618.73 481.04L637 479.31M600.46 452.93L618.73 465.71L637 472.48M600.46 465.16L618.73 464.4L637 480.69M600.46 469L618.73 476.2L637 475.03M600.46 466.7L618.73 469.38L637 477.27M600.46 472.18L618.73 478.55M600.46 465.26L618.73 474.39M600.46 479.47L618.73 481.19M600.46 464.42L618.73 463.86M600.46 471.91L618.73 478.3M600.46 488.21L618.73 480.7M600.46 468.72L618.73 476.8M600.46 467.05L618.73 475.29M600.46 446.14L618.73 474.38M600.46 471.89L618.73 473.12M600.46 465.58L618.73 480.6M600.46 476.13L618.73 476.05M600.46 480.27L618.73 485.06M600.46 478.94L618.73 480.94M600.46 477.57L618.73 473.6M600.46 473.66L618.73 471.46M600.46 474.7L618.73 482.72M600.46 467.02L618.73 479.3M600.46 471.95L618.73 467.06M600.46 466.25L618.73 471.89M600.46 479.83L618.73 477.84M600.46 459.95L618.73 477.67M600.46 470.8L618.73 473.33M600.46 468.36L618.73 484.42M600.46 469.84L618.73 476.86M600.46 467.26L618.73 458.65M600.46 466.73L618.73 480.95M600.46 467.21L618.73 472.79M600.46 473.29L618.73 465.05M600.46 456.97L618.73 462.94" stroke="#444" stroke-opacity="0.16" stroke-width="0.45" fill="none"/><path d="M600.46 452.6V465.2M600.46 476.4V488.4" stroke="#555" stroke-width="0.6"/><rect x="593.61" y="465.2" width="13.7" height="11.2" fill="#F8766D" fill-opacity="0.35" stroke="#333" stroke-opacity="0.75" stroke-width="0.5"/><path d="M593.61 470.1H607.31" stroke="#333" stroke-width="0.8"/><path d="M618.73 459.6V471.1M618.73 480.6V486.3" stroke="#555" stroke-width="0.6"/><rect x="611.88" y="471.1" width="13.7" height="9.5" fill="#A3A500" fill-opacity="0.35" stroke="#333" stroke-opacity="0.75" stroke-width="0.5"/><path d="M611.88 475H625.58" stroke="#333" stroke-width="0.8"/><path d="M637 463.1V473.2M637 480.6V483.4" stroke="#555" stroke-width="0.6"/><rect x="630.15" y="473.2" width="13.7" height="7.4" fill="#00BF7D" fill-opacity="0.35" stroke="#333" stroke-opacity="0.75" stroke-width="0.5"/><path d="M630.15 476.4H643.85" stroke="#333" stroke-width="0.8"/><path d="M655.27 466.2V474.1M655.27 481.8V485.5" stroke="#555" stroke-width="0.6"/><rect x="648.42" y="474.1" width="13.7" height="7.7" fill="#00B0F6" fill-opacity="0.35" stroke="#333" stroke-opacity="0.75" stroke-width="0.5"/><path d="M648.42 477.8H662.12" stroke="#333" stroke-width="0.8"/><path d="M673.54 472.2V477.1M673.54 481.3V483.4" stroke="#555" stroke-width="0.6"/><rect x="666.69" y="477.1" width="13.7" height="4.2" fill="#E76BF3" fill-opacity="0.35" stroke="#333" stroke-opacity="0.75" stroke-width="0.5"/><path d="M666.69 479.2H680.39" stroke="#333" stroke-width="0.8"/><path d="M600.72 478.42h0M600.19 476.4h0M599.2 453.47h0M598.04 467.7h0M600.76 472.75h0M600.66 466.81h0M600.01 447.55h0M601.92 478.15h0M598.02 465.14h0M601.49 478.01h0M601.88 478.42h0M599.09 476.52h0M602.1 463h0M601.41 465.18h0M598.71 479.63h0M598.46 475.04h0M600.45 464.45h0M599.46 484.8h0M601.62 477.38h0M600.74 407h0M602.46 464.81h0M598.55 466.3h0M600.71 465.16h0M602.27 472.88h0M598.57 479.07h0M598.77 464.68h0M599.64 468.68h0M599.39 461.31h0M600.71 455.05h0M600.93 468.05h0M601.14 477.56h0M599.5 468.36h0M599.74 479.73h0M600.6 455.35h0M600.46 476.41h0M599.72 472.94h0M601.46 465.6h0M602.35 469.06h0M600.32 476.19h0M602.33 465h0M602.71 468.03h0M602.95 473.38h0M598.93 483.47h0M601.09 468.59h0M598 461.52h0M601.5 460.82h0M602.57 481.47h0M601.66 472.52h0M602.35 463.01h0M600.87 453.53h0M599.21 468.98h0M599.04 487.36h0M599.36 467.63h0M602.87 470.36h0M601 465.19h0M601.07 475.57h0M602.28 476.42h0M600.21 467.73h0M598.52 465.19h0M597.95 471.03h0M601.96 470.41h0M602.39 475.09h0M599.92 467.2h0M601.75 472.84h0M599.23 475.46h0M601.85 471.32h0M602.52 487.54h0M599.32 468.05h0M598.81 471.83h0M600.07 465.19h0M600.37 466.03h0M601.64 476.52h0M602.77 475.43h0M600.85 478.4h0M599.5 476.43h0M600.33 464.91h0M602.8 452.93h0M601.92 465.16h0M601.6 469h0M600.29 466.7h0M600.27 472.18h0M599.93 465.26h0M598.66 479.47h0M598.08 464.42h0M599.93 471.91h0M601.31 488.21h0M601.18 468.72h0M598.93 467.05h0M602.17 446.14h0M601.76 471.89h0M603 465.58h0M598.38 476.13h0M602.22 480.27h0M601.47 478.94h0M600.65 477.57h0M602.36 473.66h0M602.84 474.7h0M602.34 467.02h0M601 471.95h0M600.25 466.25h0M598.79 479.83h0M602.27 459.95h0M598.33 470.8h0M601 468.36h0M600.65 469.84h0M602.25 467.26h0M600.19 466.73h0M600.18 467.21h0M598.6 473.29h0M601.46 456.97h0M602.2 469.9h0M598.7 458.86h0M600.89 460.69h0M599.2 473.72h0M602.98 481.04h0" stroke="#F8766D" stroke-opacity="0.65" stroke-width="1.25" stroke-linecap="round" fill="none"/><path d="M621.43 478.87h0M619.44 471.22h0M616.56 464.94h0M621.38 471.8h0M617.79 486.19h0M620.82 477.93h0M618.01 472.75h0M618.33 480.44h0M620.6 472.12h0M617.75 480.92h0M618.71 485.41h0M616.32 481.79h0M621.22 471.87h0M618.75 477.1h0M616.24 472.08h0M620.22 477.99h0M620.43 479.1h0M616.97 481.6h0M617.93 475.02h0M619.89 460.48h0M618.15 481.65h0M618.05 476.33h0M618.55 478.22h0M621.08 475.84h0M617.72 483.38h0M617.6 475.83h0M618.66 446.69h0M621.17 473.35h0M617.16 472.82h0M616.23 480.27h0M618.68 481.9h0M617.75 481.43h0M619.96 475.01h0M619.7 466h0M616.46 480.61h0M620.15 476.93h0M620.25 478.8h0M619.84 476.02h0M621.34 482.01h0M616.36 472.19h0M620.96 470.5h0M616.17 473.14h0M621.03 473.16h0M619.47 452.76h0M619.61 479.84h0M616.37 480h0M617.38 477.61h0M618.86 465.63h0M618.45 460.84h0M616.31 471.51h0M618.92 478.31h0M619.78 480.11h0M617.08 470.08h0M616.89 476.66h0M621.17 472.41h0M618.82 484.68h0M621.25 473.13h0M620.58 478.15h0M621.05 469.02h0M616.04 476.22h0M616.55 472.64h0M620.89 486.21h0M617.23 474.7h0M619.65 480.61h0M616.77 482.64h0M620.1 477.55h0M616.3 474.15h0M618.05 470.86h0M620.29 483.37h0M617.83 470.73h0M620.82 479.58h0M620.97 479.44h0M617.21 483.9h0M617.29 483.93h0M617.76 467.5h0M618.05 481.04h0M618.19 465.71h0M621.13 464.4h0M618.01 476.2h0M620.75 469.38h0M619.88 478.55h0M620.68 474.39h0M620.04 481.19h0M619.25 463.86h0M617.31 478.3h0M619.81 480.7h0M616.21 476.8h0M620.33 475.29h0M616.98 474.38h0M620.8 473.12h0M619.28 480.6h0M619.69 476.05h0M618.88 485.06h0M616.71 480.94h0M617.74 473.6h0M617.02 471.46h0M618.68 482.72h0M617.49 479.3h0M619.26 467.06h0M616.11 471.89h0M619.73 477.84h0M617.31 477.67h0M617.76 473.33h0M619.29 484.42h0M619.65 476.86h0M617.24 458.65h0M617.45 480.95h0M616.78 472.79h0M621.39 465.05h0M618.83 462.94h0" stroke="#A3A500" stroke-opacity="0.65" stroke-width="1.25" stroke-linecap="round" fill="none"/><path d="M634.94 478.15h0M637.71 476.32h0M639.36 464.09h0M635.6 473.79h0M637.71 480.54h0M639.4 479.45h0M634.77 468.81h0M638.48 463.14h0M635.46 466.11h0M639.67 480.76h0M634.39 481.03h0M636.18 481.74h0M635.37 477.41h0M636.65 466.53h0M636.58 472.58h0M634.37 482.49h0M634.59 472.71h0M634.85 476.46h0M639.23 480.79h0M638.69 473.36h0M634.38 473.2h0M635.66 483.36h0M635.76 475.29h0M635.43 474.64h0M635.74 482.41h0M638.16 476.16h0M637.65 467.13h0M639.25 472.75h0M634.71 478.33h0M635.56 475.85h0M638.49 474.74h0M639 479.63h0M635.49 474.07h0M634.88 463.48h0M639.45 479.99h0M638.16 478.96h0M639.56 480.37h0M634.42 467.9h0M634.62 480.6h0M638.46 475.48h0M636.6 476.27h0M638.09 482.45h0M637.74 479.04h0M636.01 477.95h0M637.78 477.43h0M635.18 467.51h0M635.73 482.58h0M636.46 480.93h0M639.26 472.65h0M634.41 467.76h0M637.08 483.17h0M638.56 481.5h0M636.97 469.55h0M639.15 476.55h0M638.19 472.02h0M634.43 473.16h0M635.32 476.41h0M636.88 475.3h0M637.54 480.82h0M639.63 478.76h0M639 474.65h0M638.59 474.41h0M638.17 474.17h0M638.15 475.78h0M639.48 473.63h0M636.91 475.45h0M634.61 480.74h0M636.49 480.6h0M637.38 483.2h0M637.58 469.11h0M636.79 481.96h0M634.71 479.2h0M639.19 479.49h0M639.59 480.65h0M637.68 471.37h0M639.62 479.31h0M636.75 472.48h0M634.39 480.69h0M634.93 475.03h0M639.56 477.27h0" stroke="#00BF7D" stroke-opacity="0.65" stroke-width="1.25" stroke-linecap="round" fill="none"/><path d="M655.11 481.96h0M655.75 473.82h0M656.2 472.05h0M656.23 474.09h0M653.83 482.45h0M657.77 479.44h0M655.59 476.28h0M655.93 483.54h0M656.6 474.82h0M652.88 482.85h0M657.67 477.71h0M655.54 483.41h0M657.26 466.23h0M657.15 455.7h0M655.97 474.06h0M655.25 481.53h0M654.74 468.57h0M653.71 478.49h0M655.18 478.64h0M653.48 485.44h0M656.45 479.83h0M654.2 470.63h0M654.72 482.06h0M655.55 476.26h0M653 482.01h0M654.03 480.93h0M656.41 473.72h0M655.02 473.76h0M653.15 473.76h0M655.89 478.93h0M655.38 478.36h0M655.53 481.9h0M656.37 480.57h0M656.05 470.89h0M653.51 482.02h0M653.34 485.27h0M654.72 483.34h0M653.47 479.36h0M653.5 483.62h0M655.28 477.45h0M653.13 473.52h0M655.3 480.56h0M654.96 476.98h0M653.68 472.84h0M654.2 477.15h0M654.63 476.99h0M653.51 480.71h0M653.28 481.57h0M653.66 467.57h0M657.62 469.19h0" stroke="#00B0F6" stroke-opacity="0.65" stroke-width="1.25" stroke-linecap="round" fill="none"/><path d="M673.31 476.89h0M674.49 478.43h0M671.82 473.22h0M672.61 478.21h0M672.79 481.1h0M674.82 480h0M673.6 472.22h0M673.69 481.47h0M670.85 478.01h0M672.27 479.01h0M675.87 483.37h0M675.42 481.52h0M673.06 478.52h0M673.03 472.89h0M673.81 479.28h0M675.21 482.93h0M672.69 476.99h0M671.32 480.43h0M674.13 479.09h0M675.52 473.79h0M673.49 480.64h0M671.46 480.77h0M673.56 478.15h0M675.98 479.34h0M672.18 482.94h0M674.09 480.05h0M672.24 475.41h0M672.87 479.67h0M676.18 477.82h0M673.24 478.78h0M674.06 479.76h0M674.9 481.43h0M672.16 479.63h0M673.98 477.04h0" stroke="#E76BF3" stroke-opacity="0.65" stroke-width="1.25" stroke-linecap="round" fill="none"/><path d="M600.46 396.4V395.5H618.73V396.4M600.46 391.9V391H637V391.9M600.46 387.4V386.5H655.27V387.4M600.46 382.4V381.5H673.54V382.4" stroke="#777" stroke-width="0.6" fill="none"/><g font-size="4.2" fill="#777" stroke="none" style="stroke:none" text-anchor="middle"><text x="609.6" y="395.4">***</text><text x="618.73" y="390.9">****</text><text x="627.87" y="386.4">****</text><text x="637" y="381.4">***</text></g><rect x="589.5" y="376.4" width="95" height="118.8" fill="none" stroke="#a8a8a8" stroke-width="0.85"/><path d="M600.46 495.2v1.3M618.73 495.2v1.3M637 495.2v1.3M655.27 495.2v1.3M673.54 495.2v1.3M589.5 477h-1.3M589.5 453.25h-1.3M589.5 430h-1.3M589.5 407h-1.3M589.5 383.75h-1.3" stroke="#333" stroke-width="0.5"/><g font-size="7.3" fill="#1a1a1a" text-anchor="end"><text x="585.8" y="479.5">250</text><text x="585.8" y="455.75">500</text><text x="585.8" y="432.5">750</text><text x="585.8" y="409.5">1,000</text><text x="585.8" y="386.25">1,250</text></g><g font-size="7.2" fill="#1a1a1a" text-anchor="end"><text transform="translate(599.06 498.2) rotate(-45)" x="0" y="5.18">Admission</text><text transform="translate(617.33 498.2) rotate(-45)" x="0" y="5.18">Discharge</text><text transform="translate(635.6 498.2) rotate(-45)" x="0" y="5.18">First follow-up</text><text transform="translate(653.87 498.2) rotate(-45)" x="0" y="5.18">Second follow-up</text><text transform="translate(672.14 498.2) rotate(-45)" x="0" y="5.18">Third follow-up</text></g><text transform="translate(560.9 436.4) rotate(-90)" x="0" y="0" font-size="7.2" fill="#1a1a1a" text-anchor="middle">LDH (110-295 U/L)</text></g>
<text x="-0.5" y="8" font-size="14.5" font-weight="bold">a</text>
<text x="-0.5" y="191.8" font-size="14.5" font-weight="bold">b</text>
<text x="-0.5" y="378.8" font-size="14.5" font-weight="bold">c</text>
</svg></body></html>
